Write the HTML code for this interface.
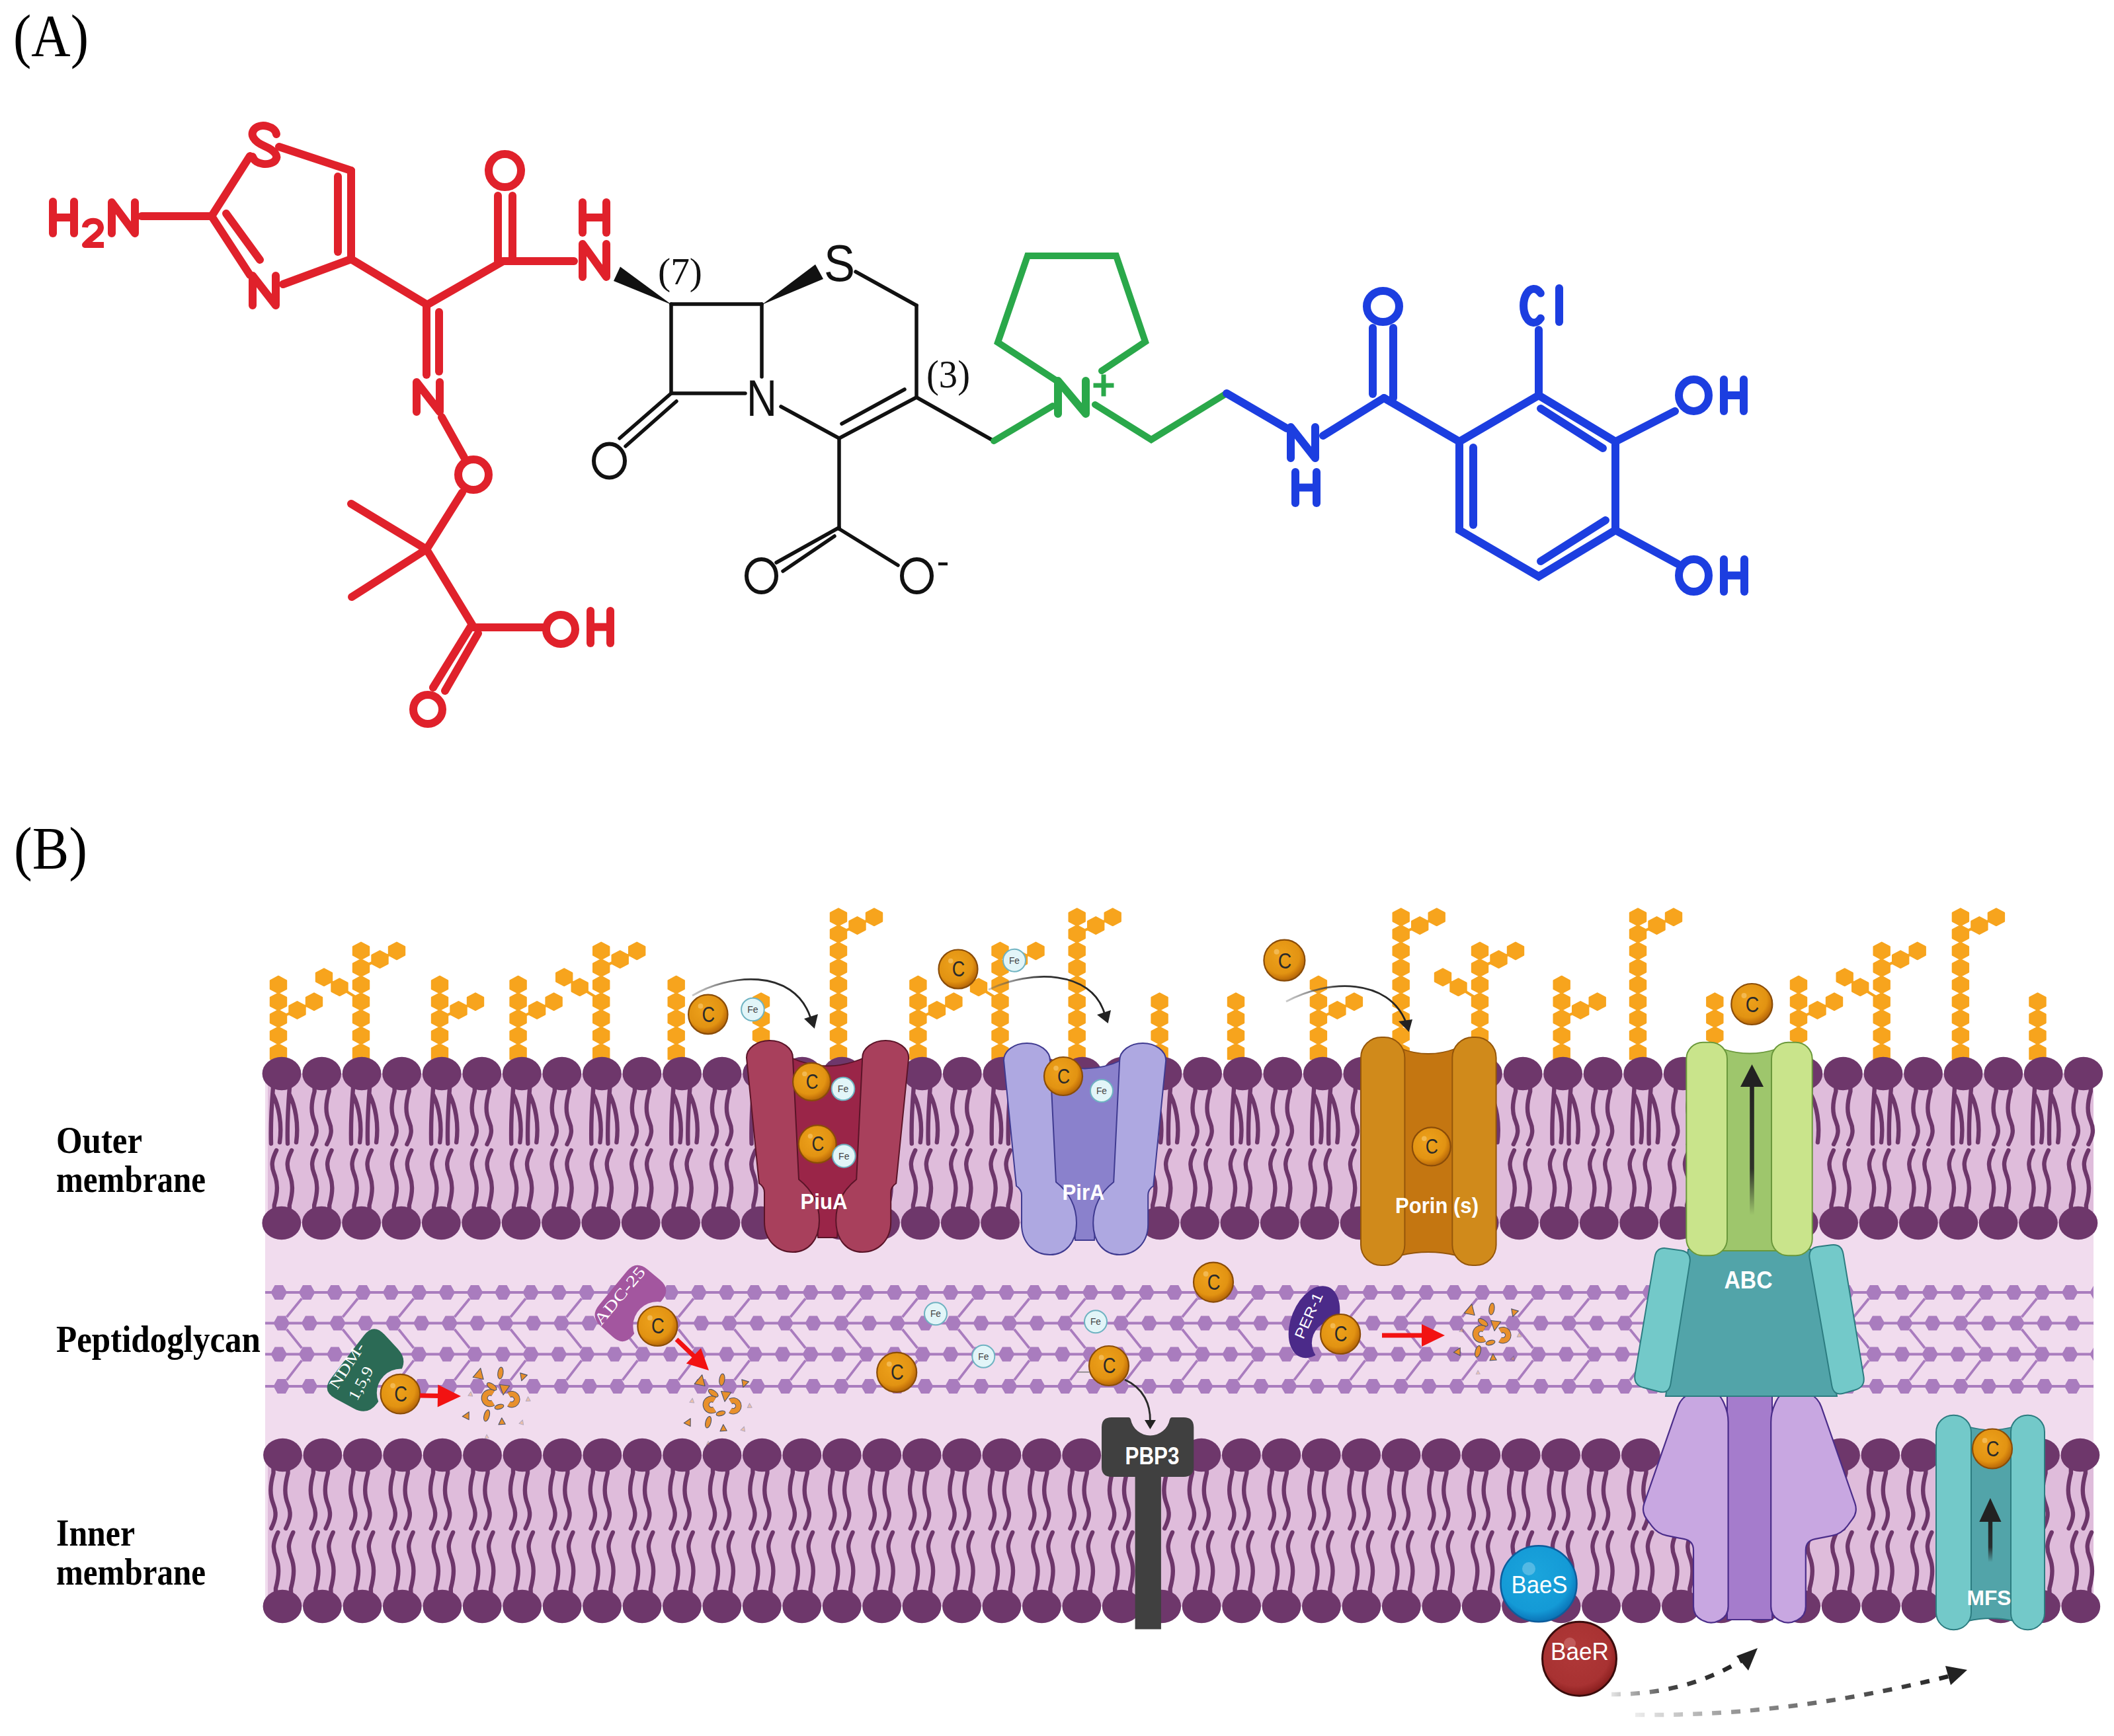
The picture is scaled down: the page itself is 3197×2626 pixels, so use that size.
<!DOCTYPE html>
<html><head><meta charset="utf-8"><title>Cefiderocol</title>
<style>html,body{margin:0;padding:0;background:#fff;}body{width:3197px;height:2626px;overflow:hidden;}svg{display:block;}</style>
</head><body>
<svg width="3197" height="2626" viewBox="0 0 3197 2626"><text x="20.0" y="85.0" font-family="Liberation Serif" font-size="90" font-weight="normal" fill="#000" text-anchor="start" textLength="114" lengthAdjust="spacingAndGlyphs">(A)</text>
<line x1="80.0" y1="305.0" x2="80.0" y2="353.0" stroke="#e0212b" stroke-width="12" stroke-linecap="round"/>
<line x1="112.0" y1="305.0" x2="112.0" y2="353.0" stroke="#e0212b" stroke-width="12" stroke-linecap="round"/>
<line x1="80.0" y1="329.0" x2="112.0" y2="329.0" stroke="#e0212b" stroke-width="12" stroke-linecap="butt"/>
<path d="M128.5,344 C129,332 152,330 152.5,344 C153,353 139,358 128.5,370.5 L157,370.5" fill="none" stroke="#e0212b" stroke-width="9" stroke-linejoin="round"/>
<path d="M169.0,353.0 L169.0,306.0 L204.0,353.0 L204.0,306.0" fill="none" stroke="#e0212b" stroke-width="12" stroke-linecap="round" stroke-linejoin="round"/>
<line x1="214.0" y1="327.0" x2="320.0" y2="327.0" stroke="#e0212b" stroke-width="12" stroke-linecap="round"/>
<line x1="320.0" y1="327.0" x2="378.0" y2="236.0" stroke="#e0212b" stroke-width="12" stroke-linecap="round"/>
<path d="M418,203 C416,191 395,186 386,194 C376,203 384,214 400,221 C416,228 422,236 416,243 C408,251 386,250 382,237" fill="none" stroke="#e0212b" stroke-width="12" stroke-linecap="round"/>
<line x1="422.0" y1="222.0" x2="531.0" y2="258.0" stroke="#e0212b" stroke-width="12" stroke-linecap="round"/>
<line x1="531.0" y1="258.0" x2="531.0" y2="392.0" stroke="#e0212b" stroke-width="12" stroke-linecap="round"/>
<line x1="511.0" y1="267.0" x2="511.0" y2="381.0" stroke="#e0212b" stroke-width="12" stroke-linecap="round"/>
<line x1="531.0" y1="392.0" x2="428.0" y2="430.0" stroke="#e0212b" stroke-width="12" stroke-linecap="round"/>
<path d="M382.0,462.0 L382.0,417.0 L417.0,462.0 L417.0,417.0" fill="none" stroke="#e0212b" stroke-width="12" stroke-linecap="round" stroke-linejoin="round"/>
<line x1="320.0" y1="327.0" x2="378.0" y2="416.0" stroke="#e0212b" stroke-width="12" stroke-linecap="round"/>
<line x1="342.0" y1="323.0" x2="393.0" y2="393.0" stroke="#e0212b" stroke-width="12" stroke-linecap="round"/>
<line x1="531.0" y1="392.0" x2="646.0" y2="461.0" stroke="#e0212b" stroke-width="12" stroke-linecap="round"/>
<line x1="646.0" y1="461.0" x2="761.0" y2="395.0" stroke="#e0212b" stroke-width="12" stroke-linecap="round"/>
<line x1="753.0" y1="395.0" x2="753.0" y2="296.0" stroke="#e0212b" stroke-width="12" stroke-linecap="round"/>
<line x1="775.0" y1="390.0" x2="775.0" y2="296.0" stroke="#e0212b" stroke-width="12" stroke-linecap="round"/>
<ellipse cx="763.5" cy="258.0" rx="24.5" ry="25.0" fill="none" stroke="#e0212b" stroke-width="12"/>
<line x1="761.0" y1="395.0" x2="868.0" y2="395.0" stroke="#e0212b" stroke-width="12" stroke-linecap="round"/>
<path d="M881.0,419.0 L881.0,369.0 L917.0,419.0 L917.0,369.0" fill="none" stroke="#e0212b" stroke-width="12" stroke-linecap="round" stroke-linejoin="round"/>
<line x1="881.0" y1="306.0" x2="881.0" y2="352.0" stroke="#e0212b" stroke-width="12" stroke-linecap="round"/>
<line x1="917.0" y1="306.0" x2="917.0" y2="352.0" stroke="#e0212b" stroke-width="12" stroke-linecap="round"/>
<line x1="881.0" y1="329.0" x2="917.0" y2="329.0" stroke="#e0212b" stroke-width="12" stroke-linecap="butt"/>
<line x1="645.0" y1="461.0" x2="645.0" y2="567.0" stroke="#e0212b" stroke-width="12" stroke-linecap="round"/>
<line x1="664.0" y1="472.0" x2="664.0" y2="562.0" stroke="#e0212b" stroke-width="12" stroke-linecap="round"/>
<path d="M630.0,623.0 L630.0,578.0 L665.0,623.0 L665.0,578.0" fill="none" stroke="#e0212b" stroke-width="12" stroke-linecap="round" stroke-linejoin="round"/>
<line x1="668.0" y1="631.0" x2="702.0" y2="692.0" stroke="#e0212b" stroke-width="12" stroke-linecap="round"/>
<ellipse cx="716.0" cy="718.0" rx="23.0" ry="23.0" fill="none" stroke="#e0212b" stroke-width="12"/>
<line x1="699.0" y1="745.0" x2="645.0" y2="831.0" stroke="#e0212b" stroke-width="12" stroke-linecap="round"/>
<line x1="645.0" y1="831.0" x2="531.0" y2="762.0" stroke="#e0212b" stroke-width="12" stroke-linecap="round"/>
<line x1="645.0" y1="831.0" x2="532.0" y2="903.0" stroke="#e0212b" stroke-width="12" stroke-linecap="round"/>
<line x1="645.0" y1="831.0" x2="716.0" y2="948.0" stroke="#e0212b" stroke-width="12" stroke-linecap="round"/>
<line x1="716.0" y1="949.0" x2="822.0" y2="949.0" stroke="#e0212b" stroke-width="12" stroke-linecap="round"/>
<ellipse cx="848.0" cy="952.0" rx="22.0" ry="22.0" fill="none" stroke="#e0212b" stroke-width="12"/>
<line x1="893.0" y1="924.0" x2="893.0" y2="973.0" stroke="#e0212b" stroke-width="12" stroke-linecap="round"/>
<line x1="923.0" y1="924.0" x2="923.0" y2="973.0" stroke="#e0212b" stroke-width="12" stroke-linecap="round"/>
<line x1="893.0" y1="948.5" x2="923.0" y2="948.5" stroke="#e0212b" stroke-width="12" stroke-linecap="butt"/>
<line x1="713.0" y1="946.0" x2="655.0" y2="1040.0" stroke="#e0212b" stroke-width="12" stroke-linecap="round"/>
<line x1="723.0" y1="958.0" x2="673.0" y2="1045.0" stroke="#e0212b" stroke-width="12" stroke-linecap="round"/>
<ellipse cx="647.0" cy="1073.0" rx="22.0" ry="22.0" fill="none" stroke="#e0212b" stroke-width="12"/>
<polygon points="938,403.5 928,425 1016,461" fill="#111111"/>
<line x1="1015.0" y1="460.0" x2="1152.0" y2="460.0" stroke="#111111" stroke-width="5.5" stroke-linecap="round"/>
<line x1="1015.0" y1="460.0" x2="1015.0" y2="595.0" stroke="#111111" stroke-width="5.5" stroke-linecap="round"/>
<line x1="1015.0" y1="595.0" x2="1127.0" y2="595.0" stroke="#111111" stroke-width="5.5" stroke-linecap="round"/>
<line x1="1152.0" y1="460.0" x2="1152.0" y2="570.0" stroke="#111111" stroke-width="5.5" stroke-linecap="round"/>
<line x1="1015.0" y1="595.0" x2="937.0" y2="663.0" stroke="#111111" stroke-width="5.5" stroke-linecap="round"/>
<line x1="1023.0" y1="607.0" x2="946.0" y2="675.0" stroke="#111111" stroke-width="5.5" stroke-linecap="round"/>
<ellipse cx="921.5" cy="697" rx="23.5" ry="25.5" fill="none" stroke="#111111" stroke-width="6"/>
<polygon points="1152,461 1233,400 1245,422" fill="#111111"/>
<text x="1269.5" y="424.5" font-family="Liberation Sans" font-size="78" font-weight="normal" fill="#111111" text-anchor="middle" textLength="47" lengthAdjust="spacingAndGlyphs">S</text>
<line x1="1294.0" y1="411.0" x2="1386.0" y2="462.0" stroke="#111111" stroke-width="5.5" stroke-linecap="round"/>
<line x1="1386.0" y1="462.0" x2="1386.0" y2="601.0" stroke="#111111" stroke-width="5.5" stroke-linecap="round"/>
<line x1="1386.0" y1="601.0" x2="1269.0" y2="663.0" stroke="#111111" stroke-width="5.5" stroke-linecap="round"/>
<line x1="1368.0" y1="589.0" x2="1273.0" y2="641.0" stroke="#111111" stroke-width="5.5" stroke-linecap="round"/>
<line x1="1269.0" y1="663.0" x2="1181.0" y2="615.0" stroke="#111111" stroke-width="5.5" stroke-linecap="round"/>
<text x="1152.0" y="629.0" font-family="Liberation Sans" font-size="78" font-weight="normal" fill="#111111" text-anchor="middle" textLength="46" lengthAdjust="spacingAndGlyphs">N</text>
<line x1="1269.0" y1="663.0" x2="1269.0" y2="800.0" stroke="#111111" stroke-width="5.5" stroke-linecap="round"/>
<line x1="1269.0" y1="798.0" x2="1174.0" y2="851.0" stroke="#111111" stroke-width="5.5" stroke-linecap="round"/>
<line x1="1262.0" y1="811.0" x2="1184.0" y2="864.0" stroke="#111111" stroke-width="5.5" stroke-linecap="round"/>
<ellipse cx="1151.5" cy="871" rx="22.5" ry="25" fill="none" stroke="#111111" stroke-width="6"/>
<line x1="1269.0" y1="800.0" x2="1358.0" y2="855.0" stroke="#111111" stroke-width="5.5" stroke-linecap="round"/>
<ellipse cx="1386.5" cy="871" rx="22.5" ry="25" fill="none" stroke="#111111" stroke-width="6"/>
<line x1="1419.0" y1="853.0" x2="1433.0" y2="853.0" stroke="#111111" stroke-width="4.5" stroke-linecap="butt"/>
<line x1="1386.0" y1="601.0" x2="1503.0" y2="667.0" stroke="#111111" stroke-width="5.5" stroke-linecap="round"/>
<text x="995.0" y="430.0" font-family="Liberation Serif" font-size="56" font-weight="normal" fill="#111111" text-anchor="start" textLength="67" lengthAdjust="spacingAndGlyphs">(7)</text>
<text x="1401.0" y="586.0" font-family="Liberation Serif" font-size="58.5" font-weight="normal" fill="#111111" text-anchor="start" textLength="66" lengthAdjust="spacingAndGlyphs">(3)</text>
<line x1="1503.0" y1="667.0" x2="1592.0" y2="614.0" stroke="#2aa84a" stroke-width="10" stroke-linecap="round"/>
<path d="M1600.0,626.0 L1600.0,576.0 L1642.0,626.0 L1642.0,576.0" fill="none" stroke="#2aa84a" stroke-width="12" stroke-linecap="round" stroke-linejoin="round"/>
<line x1="1669.0" y1="566.5" x2="1669.0" y2="599.5" stroke="#2aa84a" stroke-width="7" stroke-linecap="butt"/>
<line x1="1653.5" y1="583.0" x2="1684.5" y2="583.0" stroke="#2aa84a" stroke-width="7" stroke-linecap="butt"/>
<path d="M1598.0,576.0 L1509.0,518.0 L1554.0,387.0 L1688.0,387.0 L1732.0,517.0 L1666.0,561.0" fill="none" stroke="#2aa84a" stroke-width="10" stroke-linecap="round" stroke-linejoin="miter"/>
<path d="M1656.0,612.0 L1741.0,665.0 L1855.0,595.0" fill="none" stroke="#2aa84a" stroke-width="10" stroke-linecap="round" stroke-linejoin="miter"/>
<line x1="1855.0" y1="595.0" x2="1946.0" y2="648.0" stroke="#1c3ee0" stroke-width="12" stroke-linecap="round"/>
<path d="M1952.0,693.0 L1952.0,646.0 L1989.0,693.0 L1989.0,646.0" fill="none" stroke="#1c3ee0" stroke-width="12" stroke-linecap="round" stroke-linejoin="round"/>
<line x1="1959.0" y1="714.0" x2="1959.0" y2="761.0" stroke="#1c3ee0" stroke-width="12" stroke-linecap="round"/>
<line x1="1991.0" y1="714.0" x2="1991.0" y2="761.0" stroke="#1c3ee0" stroke-width="12" stroke-linecap="round"/>
<line x1="1959.0" y1="737.5" x2="1991.0" y2="737.5" stroke="#1c3ee0" stroke-width="12" stroke-linecap="butt"/>
<line x1="2001.0" y1="659.0" x2="2093.0" y2="602.0" stroke="#1c3ee0" stroke-width="12" stroke-linecap="round"/>
<line x1="2076.0" y1="496.0" x2="2076.0" y2="596.0" stroke="#1c3ee0" stroke-width="12" stroke-linecap="round"/>
<line x1="2107.0" y1="496.0" x2="2107.0" y2="602.0" stroke="#1c3ee0" stroke-width="12" stroke-linecap="round"/>
<ellipse cx="2091.5" cy="463.5" rx="24.5" ry="23.5" fill="none" stroke="#1c3ee0" stroke-width="12"/>
<line x1="2093.0" y1="602.0" x2="2207.0" y2="668.0" stroke="#1c3ee0" stroke-width="12" stroke-linecap="round"/>
<path d="M2207.0,668.0 L2327.0,598.0 L2443.0,668.0 L2443.0,802.0 L2327.0,872.0 L2207.0,802.0Z" fill="none" stroke="#1c3ee0" stroke-width="12" stroke-linecap="round" stroke-linejoin="miter"/>
<line x1="2228.0" y1="677.0" x2="2228.0" y2="794.0" stroke="#1c3ee0" stroke-width="12" stroke-linecap="round"/>
<line x1="2330.0" y1="618.0" x2="2424.0" y2="678.0" stroke="#1c3ee0" stroke-width="12" stroke-linecap="round"/>
<line x1="2428.0" y1="787.0" x2="2330.0" y2="849.0" stroke="#1c3ee0" stroke-width="12" stroke-linecap="round"/>
<line x1="2327.0" y1="598.0" x2="2327.0" y2="499.0" stroke="#1c3ee0" stroke-width="12" stroke-linecap="round"/>
<path d="M2329.9,443.5 A15.5,25.5 0 1 0 2329.9,481.5" fill="none" stroke="#1c3ee0" stroke-width="12" stroke-linecap="round"/>
<line x1="2358.0" y1="436.0" x2="2358.0" y2="487.0" stroke="#1c3ee0" stroke-width="12" stroke-linecap="round"/>
<line x1="2443.0" y1="668.0" x2="2533.0" y2="622.0" stroke="#1c3ee0" stroke-width="12" stroke-linecap="round"/>
<ellipse cx="2561.5" cy="598.0" rx="22.5" ry="24.0" fill="none" stroke="#1c3ee0" stroke-width="12"/>
<line x1="2607.0" y1="574.0" x2="2607.0" y2="622.0" stroke="#1c3ee0" stroke-width="12" stroke-linecap="round"/>
<line x1="2637.0" y1="574.0" x2="2637.0" y2="622.0" stroke="#1c3ee0" stroke-width="12" stroke-linecap="round"/>
<line x1="2607.0" y1="598.0" x2="2637.0" y2="598.0" stroke="#1c3ee0" stroke-width="12" stroke-linecap="butt"/>
<line x1="2443.0" y1="802.0" x2="2537.0" y2="853.0" stroke="#1c3ee0" stroke-width="12" stroke-linecap="round"/>
<ellipse cx="2561.5" cy="870.5" rx="22.5" ry="24.5" fill="none" stroke="#1c3ee0" stroke-width="12"/>
<line x1="2607.0" y1="846.0" x2="2607.0" y2="895.0" stroke="#1c3ee0" stroke-width="12" stroke-linecap="round"/>
<line x1="2638.0" y1="846.0" x2="2638.0" y2="895.0" stroke="#1c3ee0" stroke-width="12" stroke-linecap="round"/>
<line x1="2607.0" y1="870.5" x2="2638.0" y2="870.5" stroke="#1c3ee0" stroke-width="12" stroke-linecap="butt"/>
<text x="21.0" y="1314.0" font-family="Liberation Serif" font-size="90" font-weight="normal" fill="#000" text-anchor="start" textLength="111" lengthAdjust="spacingAndGlyphs">(B)</text>
<rect x="401" y="1624" width="2765" height="806" fill="#f1dcee"/>
<rect x="405" y="1624" width="2761" height="226" fill="#dfbcdb"/>
<rect x="405" y="2201" width="2761" height="229" fill="#dfbcdb"/>
<clipPath id="clipPG"><rect x="401" y="1900" width="2765" height="250"/></clipPath>
<g clip-path="url(#clipPG)"><path d="M401,1955 L3166,1955 M401,2001.5 L3166,2001.5 M401,2048.5 L3166,2048.5 M401,2097 L3166,2097 M456.4,1964.3 L433.5,1992.2 M433.5,2010.8 L456.4,2039.2 M456.4,2057.8 L433.5,2087.7 M541.1,1964.3 L518.2,1992.2 M518.2,2010.8 L541.1,2039.2 M541.1,2057.8 L518.2,2087.7 M625.7,1964.3 L602.8,1992.2 M602.8,2010.8 L625.7,2039.2 M625.7,2057.8 L602.8,2087.7 M710.3,1964.3 L687.4,1992.2 M687.4,2010.8 L710.3,2039.2 M710.3,2057.8 L687.4,2087.7 M795.0,1964.3 L772.1,1992.2 M772.1,2010.8 L795.0,2039.2 M795.0,2057.8 L772.1,2087.7 M879.6,1964.3 L856.7,1992.2 M856.7,2010.8 L879.6,2039.2 M879.6,2057.8 L856.7,2087.7 M964.3,1964.3 L941.4,1992.2 M941.4,2010.8 L964.3,2039.2 M964.3,2057.8 L941.4,2087.7 M1048.9,1964.3 L1026.0,1992.2 M1026.0,2010.8 L1048.9,2039.2 M1048.9,2057.8 L1026.0,2087.7 M1133.5,1964.3 L1110.6,1992.2 M1110.6,2010.8 L1133.5,2039.2 M1133.5,2057.8 L1110.6,2087.7 M1218.2,1964.3 L1195.3,1992.2 M1195.3,2010.8 L1218.2,2039.2 M1218.2,2057.8 L1195.3,2087.7 M1302.8,1964.3 L1279.9,1992.2 M1279.9,2010.8 L1302.8,2039.2 M1302.8,2057.8 L1279.9,2087.7 M1387.5,1964.3 L1364.6,1992.2 M1364.6,2010.8 L1387.5,2039.2 M1387.5,2057.8 L1364.6,2087.7 M1472.1,1964.3 L1449.2,1992.2 M1449.2,2010.8 L1472.1,2039.2 M1472.1,2057.8 L1449.2,2087.7 M1556.7,1964.3 L1533.8,1992.2 M1533.8,2010.8 L1556.7,2039.2 M1556.7,2057.8 L1533.8,2087.7 M1641.4,1964.3 L1618.5,1992.2 M1618.5,2010.8 L1641.4,2039.2 M1641.4,2057.8 L1618.5,2087.7 M1726.0,1964.3 L1703.1,1992.2 M1703.1,2010.8 L1726.0,2039.2 M1726.0,2057.8 L1703.1,2087.7 M1810.7,1964.3 L1787.8,1992.2 M1787.8,2010.8 L1810.7,2039.2 M1810.7,2057.8 L1787.8,2087.7 M1895.3,1964.3 L1872.4,1992.2 M1872.4,2010.8 L1895.3,2039.2 M1895.3,2057.8 L1872.4,2087.7 M1979.9,1964.3 L1957.0,1992.2 M1957.0,2010.8 L1979.9,2039.2 M1979.9,2057.8 L1957.0,2087.7 M2064.6,1964.3 L2041.7,1992.2 M2041.7,2010.8 L2064.6,2039.2 M2064.6,2057.8 L2041.7,2087.7 M2149.2,1964.3 L2126.3,1992.2 M2126.3,2010.8 L2149.2,2039.2 M2149.2,2057.8 L2126.3,2087.7 M2233.9,1964.3 L2211.0,1992.2 M2211.0,2010.8 L2233.9,2039.2 M2233.9,2057.8 L2211.0,2087.7 M2318.5,1964.3 L2295.6,1992.2 M2295.6,2010.8 L2318.5,2039.2 M2318.5,2057.8 L2295.6,2087.7 M2403.1,1964.3 L2380.2,1992.2 M2380.2,2010.8 L2403.1,2039.2 M2403.1,2057.8 L2380.2,2087.7 M2487.8,1964.3 L2464.9,1992.2 M2464.9,2010.8 L2487.8,2039.2 M2487.8,2057.8 L2464.9,2087.7 M2572.4,1964.3 L2549.5,1992.2 M2549.5,2010.8 L2572.4,2039.2 M2572.4,2057.8 L2549.5,2087.7 M2657.1,1964.3 L2634.2,1992.2 M2634.2,2010.8 L2657.1,2039.2 M2657.1,2057.8 L2634.2,2087.7 M2741.7,1964.3 L2718.8,1992.2 M2718.8,2010.8 L2741.7,2039.2 M2741.7,2057.8 L2718.8,2087.7 M2826.3,1964.3 L2803.4,1992.2 M2803.4,2010.8 L2826.3,2039.2 M2826.3,2057.8 L2803.4,2087.7 M2911.0,1964.3 L2888.1,1992.2 M2888.1,2010.8 L2911.0,2039.2 M2911.0,2057.8 L2888.1,2087.7 M2995.6,1964.3 L2972.7,1992.2 M2972.7,2010.8 L2995.6,2039.2 M2995.6,2057.8 L2972.7,2087.7 M3080.3,1964.3 L3057.4,1992.2 M3057.4,2010.8 L3080.3,2039.2 M3080.3,2057.8 L3057.4,2087.7" stroke="#a97cbe" stroke-width="3.8" fill="none"/>
<path d="M409.5,1955.0 L415.6,1944.1 L427.9,1944.1 L434.1,1955.0 L427.9,1965.9 L415.6,1965.9Z M451.8,1955.0 L458.0,1944.1 L470.3,1944.1 L476.4,1955.0 L470.3,1965.9 L458.0,1965.9Z M494.1,1955.0 L500.3,1944.1 L512.6,1944.1 L518.7,1955.0 L512.6,1965.9 L500.3,1965.9Z M536.5,1955.0 L542.6,1944.1 L554.9,1944.1 L561.1,1955.0 L554.9,1965.9 L542.6,1965.9Z M578.8,1955.0 L584.9,1944.1 L597.2,1944.1 L603.4,1955.0 L597.2,1965.9 L584.9,1965.9Z M621.1,1955.0 L627.3,1944.1 L639.6,1944.1 L645.7,1955.0 L639.6,1965.9 L627.3,1965.9Z M663.4,1955.0 L669.6,1944.1 L681.9,1944.1 L688.0,1955.0 L681.9,1965.9 L669.6,1965.9Z M705.7,1955.0 L711.9,1944.1 L724.2,1944.1 L730.3,1955.0 L724.2,1965.9 L711.9,1965.9Z M748.1,1955.0 L754.2,1944.1 L766.5,1944.1 L772.7,1955.0 L766.5,1965.9 L754.2,1965.9Z M790.4,1955.0 L796.5,1944.1 L808.8,1944.1 L815.0,1955.0 L808.8,1965.9 L796.5,1965.9Z M832.7,1955.0 L838.9,1944.1 L851.2,1944.1 L857.3,1955.0 L851.2,1965.9 L838.9,1965.9Z M875.0,1955.0 L881.2,1944.1 L893.5,1944.1 L899.6,1955.0 L893.5,1965.9 L881.2,1965.9Z M917.3,1955.0 L923.5,1944.1 L935.8,1944.1 L941.9,1955.0 L935.8,1965.9 L923.5,1965.9Z M959.7,1955.0 L965.8,1944.1 L978.1,1944.1 L984.3,1955.0 L978.1,1965.9 L965.8,1965.9Z M1002.0,1955.0 L1008.1,1944.1 L1020.4,1944.1 L1026.6,1955.0 L1020.4,1965.9 L1008.1,1965.9Z M1044.3,1955.0 L1050.5,1944.1 L1062.8,1944.1 L1068.9,1955.0 L1062.8,1965.9 L1050.5,1965.9Z M1086.6,1955.0 L1092.8,1944.1 L1105.1,1944.1 L1111.2,1955.0 L1105.1,1965.9 L1092.8,1965.9Z M1128.9,1955.0 L1135.1,1944.1 L1147.4,1944.1 L1153.5,1955.0 L1147.4,1965.9 L1135.1,1965.9Z M1171.3,1955.0 L1177.4,1944.1 L1189.7,1944.1 L1195.9,1955.0 L1189.7,1965.9 L1177.4,1965.9Z M1213.6,1955.0 L1219.7,1944.1 L1232.0,1944.1 L1238.2,1955.0 L1232.0,1965.9 L1219.7,1965.9Z M1255.9,1955.0 L1262.1,1944.1 L1274.4,1944.1 L1280.5,1955.0 L1274.4,1965.9 L1262.1,1965.9Z M1298.2,1955.0 L1304.4,1944.1 L1316.7,1944.1 L1322.8,1955.0 L1316.7,1965.9 L1304.4,1965.9Z M1340.5,1955.0 L1346.7,1944.1 L1359.0,1944.1 L1365.1,1955.0 L1359.0,1965.9 L1346.7,1965.9Z M1382.9,1955.0 L1389.0,1944.1 L1401.3,1944.1 L1407.5,1955.0 L1401.3,1965.9 L1389.0,1965.9Z M1425.2,1955.0 L1431.3,1944.1 L1443.6,1944.1 L1449.8,1955.0 L1443.6,1965.9 L1431.3,1965.9Z M1467.5,1955.0 L1473.6,1944.1 L1486.0,1944.1 L1492.1,1955.0 L1486.0,1965.9 L1473.6,1965.9Z M1509.8,1955.0 L1516.0,1944.1 L1528.3,1944.1 L1534.4,1955.0 L1528.3,1965.9 L1516.0,1965.9Z M1552.1,1955.0 L1558.3,1944.1 L1570.6,1944.1 L1576.7,1955.0 L1570.6,1965.9 L1558.3,1965.9Z M1594.5,1955.0 L1600.6,1944.1 L1612.9,1944.1 L1619.1,1955.0 L1612.9,1965.9 L1600.6,1965.9Z M1636.8,1955.0 L1642.9,1944.1 L1655.2,1944.1 L1661.4,1955.0 L1655.2,1965.9 L1642.9,1965.9Z M1679.1,1955.0 L1685.2,1944.1 L1697.5,1944.1 L1703.7,1955.0 L1697.5,1965.9 L1685.2,1965.9Z M1721.4,1955.0 L1727.6,1944.1 L1739.9,1944.1 L1746.0,1955.0 L1739.9,1965.9 L1727.6,1965.9Z M1763.7,1955.0 L1769.9,1944.1 L1782.2,1944.1 L1788.3,1955.0 L1782.2,1965.9 L1769.9,1965.9Z M1806.1,1955.0 L1812.2,1944.1 L1824.5,1944.1 L1830.7,1955.0 L1824.5,1965.9 L1812.2,1965.9Z M1848.4,1955.0 L1854.5,1944.1 L1866.8,1944.1 L1873.0,1955.0 L1866.8,1965.9 L1854.5,1965.9Z M1890.7,1955.0 L1896.8,1944.1 L1909.1,1944.1 L1915.3,1955.0 L1909.1,1965.9 L1896.8,1965.9Z M1933.0,1955.0 L1939.2,1944.1 L1951.5,1944.1 L1957.6,1955.0 L1951.5,1965.9 L1939.2,1965.9Z M1975.3,1955.0 L1981.5,1944.1 L1993.8,1944.1 L1999.9,1955.0 L1993.8,1965.9 L1981.5,1965.9Z M2017.7,1955.0 L2023.8,1944.1 L2036.1,1944.1 L2042.3,1955.0 L2036.1,1965.9 L2023.8,1965.9Z M2060.0,1955.0 L2066.1,1944.1 L2078.4,1944.1 L2084.6,1955.0 L2078.4,1965.9 L2066.1,1965.9Z M2102.3,1955.0 L2108.4,1944.1 L2120.7,1944.1 L2126.9,1955.0 L2120.7,1965.9 L2108.4,1965.9Z M2144.6,1955.0 L2150.8,1944.1 L2163.1,1944.1 L2169.2,1955.0 L2163.1,1965.9 L2150.8,1965.9Z M2186.9,1955.0 L2193.1,1944.1 L2205.4,1944.1 L2211.5,1955.0 L2205.4,1965.9 L2193.1,1965.9Z M2229.3,1955.0 L2235.4,1944.1 L2247.7,1944.1 L2253.9,1955.0 L2247.7,1965.9 L2235.4,1965.9Z M2271.6,1955.0 L2277.7,1944.1 L2290.0,1944.1 L2296.2,1955.0 L2290.0,1965.9 L2277.7,1965.9Z M2313.9,1955.0 L2320.1,1944.1 L2332.4,1944.1 L2338.5,1955.0 L2332.4,1965.9 L2320.1,1965.9Z M2356.2,1955.0 L2362.4,1944.1 L2374.7,1944.1 L2380.8,1955.0 L2374.7,1965.9 L2362.4,1965.9Z M2398.5,1955.0 L2404.7,1944.1 L2417.0,1944.1 L2423.1,1955.0 L2417.0,1965.9 L2404.7,1965.9Z M2440.9,1955.0 L2447.0,1944.1 L2459.3,1944.1 L2465.5,1955.0 L2459.3,1965.9 L2447.0,1965.9Z M2483.2,1955.0 L2489.3,1944.1 L2501.6,1944.1 L2507.8,1955.0 L2501.6,1965.9 L2489.3,1965.9Z M2525.5,1955.0 L2531.7,1944.1 L2544.0,1944.1 L2550.1,1955.0 L2544.0,1965.9 L2531.7,1965.9Z M2567.8,1955.0 L2574.0,1944.1 L2586.3,1944.1 L2592.4,1955.0 L2586.3,1965.9 L2574.0,1965.9Z M2610.1,1955.0 L2616.3,1944.1 L2628.6,1944.1 L2634.7,1955.0 L2628.6,1965.9 L2616.3,1965.9Z M2652.5,1955.0 L2658.6,1944.1 L2670.9,1944.1 L2677.1,1955.0 L2670.9,1965.9 L2658.6,1965.9Z M2694.8,1955.0 L2700.9,1944.1 L2713.2,1944.1 L2719.4,1955.0 L2713.2,1965.9 L2700.9,1965.9Z M2737.1,1955.0 L2743.3,1944.1 L2755.6,1944.1 L2761.7,1955.0 L2755.6,1965.9 L2743.3,1965.9Z M2779.4,1955.0 L2785.6,1944.1 L2797.9,1944.1 L2804.0,1955.0 L2797.9,1965.9 L2785.6,1965.9Z M2821.7,1955.0 L2827.9,1944.1 L2840.2,1944.1 L2846.3,1955.0 L2840.2,1965.9 L2827.9,1965.9Z M2864.1,1955.0 L2870.2,1944.1 L2882.5,1944.1 L2888.7,1955.0 L2882.5,1965.9 L2870.2,1965.9Z M2906.4,1955.0 L2912.5,1944.1 L2924.8,1944.1 L2931.0,1955.0 L2924.8,1965.9 L2912.5,1965.9Z M2948.7,1955.0 L2954.9,1944.1 L2967.2,1944.1 L2973.3,1955.0 L2967.2,1965.9 L2954.9,1965.9Z M2991.0,1955.0 L2997.2,1944.1 L3009.5,1944.1 L3015.6,1955.0 L3009.5,1965.9 L2997.2,1965.9Z M3033.3,1955.0 L3039.5,1944.1 L3051.8,1944.1 L3057.9,1955.0 L3051.8,1965.9 L3039.5,1965.9Z M3075.7,1955.0 L3081.8,1944.1 L3094.1,1944.1 L3100.3,1955.0 L3094.1,1965.9 L3081.8,1965.9Z M3118.0,1955.0 L3124.1,1944.1 L3136.4,1944.1 L3142.6,1955.0 L3136.4,1965.9 L3124.1,1965.9Z M3160.3,1955.0 L3166.5,1944.1 L3178.8,1944.1 L3184.9,1955.0 L3178.8,1965.9 L3166.5,1965.9Z M413.5,2001.5 L419.6,1990.6 L431.9,1990.6 L438.1,2001.5 L431.9,2012.4 L419.6,2012.4Z M455.8,2001.5 L462.0,1990.6 L474.3,1990.6 L480.4,2001.5 L474.3,2012.4 L462.0,2012.4Z M498.1,2001.5 L504.3,1990.6 L516.6,1990.6 L522.7,2001.5 L516.6,2012.4 L504.3,2012.4Z M540.5,2001.5 L546.6,1990.6 L558.9,1990.6 L565.1,2001.5 L558.9,2012.4 L546.6,2012.4Z M582.8,2001.5 L588.9,1990.6 L601.2,1990.6 L607.4,2001.5 L601.2,2012.4 L588.9,2012.4Z M625.1,2001.5 L631.3,1990.6 L643.6,1990.6 L649.7,2001.5 L643.6,2012.4 L631.3,2012.4Z M667.4,2001.5 L673.6,1990.6 L685.9,1990.6 L692.0,2001.5 L685.9,2012.4 L673.6,2012.4Z M709.7,2001.5 L715.9,1990.6 L728.2,1990.6 L734.3,2001.5 L728.2,2012.4 L715.9,2012.4Z M752.1,2001.5 L758.2,1990.6 L770.5,1990.6 L776.7,2001.5 L770.5,2012.4 L758.2,2012.4Z M794.4,2001.5 L800.5,1990.6 L812.8,1990.6 L819.0,2001.5 L812.8,2012.4 L800.5,2012.4Z M836.7,2001.5 L842.9,1990.6 L855.2,1990.6 L861.3,2001.5 L855.2,2012.4 L842.9,2012.4Z M879.0,2001.5 L885.2,1990.6 L897.5,1990.6 L903.6,2001.5 L897.5,2012.4 L885.2,2012.4Z M921.3,2001.5 L927.5,1990.6 L939.8,1990.6 L945.9,2001.5 L939.8,2012.4 L927.5,2012.4Z M963.7,2001.5 L969.8,1990.6 L982.1,1990.6 L988.3,2001.5 L982.1,2012.4 L969.8,2012.4Z M1006.0,2001.5 L1012.1,1990.6 L1024.4,1990.6 L1030.6,2001.5 L1024.4,2012.4 L1012.1,2012.4Z M1048.3,2001.5 L1054.5,1990.6 L1066.8,1990.6 L1072.9,2001.5 L1066.8,2012.4 L1054.5,2012.4Z M1090.6,2001.5 L1096.8,1990.6 L1109.1,1990.6 L1115.2,2001.5 L1109.1,2012.4 L1096.8,2012.4Z M1132.9,2001.5 L1139.1,1990.6 L1151.4,1990.6 L1157.5,2001.5 L1151.4,2012.4 L1139.1,2012.4Z M1175.3,2001.5 L1181.4,1990.6 L1193.7,1990.6 L1199.9,2001.5 L1193.7,2012.4 L1181.4,2012.4Z M1217.6,2001.5 L1223.7,1990.6 L1236.0,1990.6 L1242.2,2001.5 L1236.0,2012.4 L1223.7,2012.4Z M1259.9,2001.5 L1266.1,1990.6 L1278.4,1990.6 L1284.5,2001.5 L1278.4,2012.4 L1266.1,2012.4Z M1302.2,2001.5 L1308.4,1990.6 L1320.7,1990.6 L1326.8,2001.5 L1320.7,2012.4 L1308.4,2012.4Z M1344.5,2001.5 L1350.7,1990.6 L1363.0,1990.6 L1369.1,2001.5 L1363.0,2012.4 L1350.7,2012.4Z M1386.9,2001.5 L1393.0,1990.6 L1405.3,1990.6 L1411.5,2001.5 L1405.3,2012.4 L1393.0,2012.4Z M1429.2,2001.5 L1435.3,1990.6 L1447.6,1990.6 L1453.8,2001.5 L1447.6,2012.4 L1435.3,2012.4Z M1471.5,2001.5 L1477.6,1990.6 L1490.0,1990.6 L1496.1,2001.5 L1490.0,2012.4 L1477.6,2012.4Z M1513.8,2001.5 L1520.0,1990.6 L1532.3,1990.6 L1538.4,2001.5 L1532.3,2012.4 L1520.0,2012.4Z M1556.1,2001.5 L1562.3,1990.6 L1574.6,1990.6 L1580.7,2001.5 L1574.6,2012.4 L1562.3,2012.4Z M1598.5,2001.5 L1604.6,1990.6 L1616.9,1990.6 L1623.1,2001.5 L1616.9,2012.4 L1604.6,2012.4Z M1640.8,2001.5 L1646.9,1990.6 L1659.2,1990.6 L1665.4,2001.5 L1659.2,2012.4 L1646.9,2012.4Z M1683.1,2001.5 L1689.2,1990.6 L1701.5,1990.6 L1707.7,2001.5 L1701.5,2012.4 L1689.2,2012.4Z M1725.4,2001.5 L1731.6,1990.6 L1743.9,1990.6 L1750.0,2001.5 L1743.9,2012.4 L1731.6,2012.4Z M1767.7,2001.5 L1773.9,1990.6 L1786.2,1990.6 L1792.3,2001.5 L1786.2,2012.4 L1773.9,2012.4Z M1810.1,2001.5 L1816.2,1990.6 L1828.5,1990.6 L1834.7,2001.5 L1828.5,2012.4 L1816.2,2012.4Z M1852.4,2001.5 L1858.5,1990.6 L1870.8,1990.6 L1877.0,2001.5 L1870.8,2012.4 L1858.5,2012.4Z M1894.7,2001.5 L1900.8,1990.6 L1913.1,1990.6 L1919.3,2001.5 L1913.1,2012.4 L1900.8,2012.4Z M1937.0,2001.5 L1943.2,1990.6 L1955.5,1990.6 L1961.6,2001.5 L1955.5,2012.4 L1943.2,2012.4Z M1979.3,2001.5 L1985.5,1990.6 L1997.8,1990.6 L2003.9,2001.5 L1997.8,2012.4 L1985.5,2012.4Z M2021.7,2001.5 L2027.8,1990.6 L2040.1,1990.6 L2046.3,2001.5 L2040.1,2012.4 L2027.8,2012.4Z M2064.0,2001.5 L2070.1,1990.6 L2082.4,1990.6 L2088.6,2001.5 L2082.4,2012.4 L2070.1,2012.4Z M2106.3,2001.5 L2112.4,1990.6 L2124.7,1990.6 L2130.9,2001.5 L2124.7,2012.4 L2112.4,2012.4Z M2148.6,2001.5 L2154.8,1990.6 L2167.1,1990.6 L2173.2,2001.5 L2167.1,2012.4 L2154.8,2012.4Z M2190.9,2001.5 L2197.1,1990.6 L2209.4,1990.6 L2215.5,2001.5 L2209.4,2012.4 L2197.1,2012.4Z M2233.3,2001.5 L2239.4,1990.6 L2251.7,1990.6 L2257.9,2001.5 L2251.7,2012.4 L2239.4,2012.4Z M2275.6,2001.5 L2281.7,1990.6 L2294.0,1990.6 L2300.2,2001.5 L2294.0,2012.4 L2281.7,2012.4Z M2317.9,2001.5 L2324.1,1990.6 L2336.4,1990.6 L2342.5,2001.5 L2336.4,2012.4 L2324.1,2012.4Z M2360.2,2001.5 L2366.4,1990.6 L2378.7,1990.6 L2384.8,2001.5 L2378.7,2012.4 L2366.4,2012.4Z M2402.5,2001.5 L2408.7,1990.6 L2421.0,1990.6 L2427.1,2001.5 L2421.0,2012.4 L2408.7,2012.4Z M2444.9,2001.5 L2451.0,1990.6 L2463.3,1990.6 L2469.5,2001.5 L2463.3,2012.4 L2451.0,2012.4Z M2487.2,2001.5 L2493.3,1990.6 L2505.6,1990.6 L2511.8,2001.5 L2505.6,2012.4 L2493.3,2012.4Z M2529.5,2001.5 L2535.7,1990.6 L2548.0,1990.6 L2554.1,2001.5 L2548.0,2012.4 L2535.7,2012.4Z M2571.8,2001.5 L2578.0,1990.6 L2590.3,1990.6 L2596.4,2001.5 L2590.3,2012.4 L2578.0,2012.4Z M2614.1,2001.5 L2620.3,1990.6 L2632.6,1990.6 L2638.7,2001.5 L2632.6,2012.4 L2620.3,2012.4Z M2656.5,2001.5 L2662.6,1990.6 L2674.9,1990.6 L2681.1,2001.5 L2674.9,2012.4 L2662.6,2012.4Z M2698.8,2001.5 L2704.9,1990.6 L2717.2,1990.6 L2723.4,2001.5 L2717.2,2012.4 L2704.9,2012.4Z M2741.1,2001.5 L2747.3,1990.6 L2759.6,1990.6 L2765.7,2001.5 L2759.6,2012.4 L2747.3,2012.4Z M2783.4,2001.5 L2789.6,1990.6 L2801.9,1990.6 L2808.0,2001.5 L2801.9,2012.4 L2789.6,2012.4Z M2825.7,2001.5 L2831.9,1990.6 L2844.2,1990.6 L2850.3,2001.5 L2844.2,2012.4 L2831.9,2012.4Z M2868.1,2001.5 L2874.2,1990.6 L2886.5,1990.6 L2892.7,2001.5 L2886.5,2012.4 L2874.2,2012.4Z M2910.4,2001.5 L2916.5,1990.6 L2928.8,1990.6 L2935.0,2001.5 L2928.8,2012.4 L2916.5,2012.4Z M2952.7,2001.5 L2958.9,1990.6 L2971.2,1990.6 L2977.3,2001.5 L2971.2,2012.4 L2958.9,2012.4Z M2995.0,2001.5 L3001.2,1990.6 L3013.5,1990.6 L3019.6,2001.5 L3013.5,2012.4 L3001.2,2012.4Z M3037.3,2001.5 L3043.5,1990.6 L3055.8,1990.6 L3061.9,2001.5 L3055.8,2012.4 L3043.5,2012.4Z M3079.7,2001.5 L3085.8,1990.6 L3098.1,1990.6 L3104.3,2001.5 L3098.1,2012.4 L3085.8,2012.4Z M3122.0,2001.5 L3128.1,1990.6 L3140.4,1990.6 L3146.6,2001.5 L3140.4,2012.4 L3128.1,2012.4Z M3164.3,2001.5 L3170.5,1990.6 L3182.8,1990.6 L3188.9,2001.5 L3182.8,2012.4 L3170.5,2012.4Z M409.5,2048.5 L415.6,2037.6 L427.9,2037.6 L434.1,2048.5 L427.9,2059.4 L415.6,2059.4Z M451.8,2048.5 L458.0,2037.6 L470.3,2037.6 L476.4,2048.5 L470.3,2059.4 L458.0,2059.4Z M494.1,2048.5 L500.3,2037.6 L512.6,2037.6 L518.7,2048.5 L512.6,2059.4 L500.3,2059.4Z M536.5,2048.5 L542.6,2037.6 L554.9,2037.6 L561.1,2048.5 L554.9,2059.4 L542.6,2059.4Z M578.8,2048.5 L584.9,2037.6 L597.2,2037.6 L603.4,2048.5 L597.2,2059.4 L584.9,2059.4Z M621.1,2048.5 L627.3,2037.6 L639.6,2037.6 L645.7,2048.5 L639.6,2059.4 L627.3,2059.4Z M663.4,2048.5 L669.6,2037.6 L681.9,2037.6 L688.0,2048.5 L681.9,2059.4 L669.6,2059.4Z M705.7,2048.5 L711.9,2037.6 L724.2,2037.6 L730.3,2048.5 L724.2,2059.4 L711.9,2059.4Z M748.1,2048.5 L754.2,2037.6 L766.5,2037.6 L772.7,2048.5 L766.5,2059.4 L754.2,2059.4Z M790.4,2048.5 L796.5,2037.6 L808.8,2037.6 L815.0,2048.5 L808.8,2059.4 L796.5,2059.4Z M832.7,2048.5 L838.9,2037.6 L851.2,2037.6 L857.3,2048.5 L851.2,2059.4 L838.9,2059.4Z M875.0,2048.5 L881.2,2037.6 L893.5,2037.6 L899.6,2048.5 L893.5,2059.4 L881.2,2059.4Z M917.3,2048.5 L923.5,2037.6 L935.8,2037.6 L941.9,2048.5 L935.8,2059.4 L923.5,2059.4Z M959.7,2048.5 L965.8,2037.6 L978.1,2037.6 L984.3,2048.5 L978.1,2059.4 L965.8,2059.4Z M1002.0,2048.5 L1008.1,2037.6 L1020.4,2037.6 L1026.6,2048.5 L1020.4,2059.4 L1008.1,2059.4Z M1044.3,2048.5 L1050.5,2037.6 L1062.8,2037.6 L1068.9,2048.5 L1062.8,2059.4 L1050.5,2059.4Z M1086.6,2048.5 L1092.8,2037.6 L1105.1,2037.6 L1111.2,2048.5 L1105.1,2059.4 L1092.8,2059.4Z M1128.9,2048.5 L1135.1,2037.6 L1147.4,2037.6 L1153.5,2048.5 L1147.4,2059.4 L1135.1,2059.4Z M1171.3,2048.5 L1177.4,2037.6 L1189.7,2037.6 L1195.9,2048.5 L1189.7,2059.4 L1177.4,2059.4Z M1213.6,2048.5 L1219.7,2037.6 L1232.0,2037.6 L1238.2,2048.5 L1232.0,2059.4 L1219.7,2059.4Z M1255.9,2048.5 L1262.1,2037.6 L1274.4,2037.6 L1280.5,2048.5 L1274.4,2059.4 L1262.1,2059.4Z M1298.2,2048.5 L1304.4,2037.6 L1316.7,2037.6 L1322.8,2048.5 L1316.7,2059.4 L1304.4,2059.4Z M1340.5,2048.5 L1346.7,2037.6 L1359.0,2037.6 L1365.1,2048.5 L1359.0,2059.4 L1346.7,2059.4Z M1382.9,2048.5 L1389.0,2037.6 L1401.3,2037.6 L1407.5,2048.5 L1401.3,2059.4 L1389.0,2059.4Z M1425.2,2048.5 L1431.3,2037.6 L1443.6,2037.6 L1449.8,2048.5 L1443.6,2059.4 L1431.3,2059.4Z M1467.5,2048.5 L1473.6,2037.6 L1486.0,2037.6 L1492.1,2048.5 L1486.0,2059.4 L1473.6,2059.4Z M1509.8,2048.5 L1516.0,2037.6 L1528.3,2037.6 L1534.4,2048.5 L1528.3,2059.4 L1516.0,2059.4Z M1552.1,2048.5 L1558.3,2037.6 L1570.6,2037.6 L1576.7,2048.5 L1570.6,2059.4 L1558.3,2059.4Z M1594.5,2048.5 L1600.6,2037.6 L1612.9,2037.6 L1619.1,2048.5 L1612.9,2059.4 L1600.6,2059.4Z M1636.8,2048.5 L1642.9,2037.6 L1655.2,2037.6 L1661.4,2048.5 L1655.2,2059.4 L1642.9,2059.4Z M1679.1,2048.5 L1685.2,2037.6 L1697.5,2037.6 L1703.7,2048.5 L1697.5,2059.4 L1685.2,2059.4Z M1721.4,2048.5 L1727.6,2037.6 L1739.9,2037.6 L1746.0,2048.5 L1739.9,2059.4 L1727.6,2059.4Z M1763.7,2048.5 L1769.9,2037.6 L1782.2,2037.6 L1788.3,2048.5 L1782.2,2059.4 L1769.9,2059.4Z M1806.1,2048.5 L1812.2,2037.6 L1824.5,2037.6 L1830.7,2048.5 L1824.5,2059.4 L1812.2,2059.4Z M1848.4,2048.5 L1854.5,2037.6 L1866.8,2037.6 L1873.0,2048.5 L1866.8,2059.4 L1854.5,2059.4Z M1890.7,2048.5 L1896.8,2037.6 L1909.1,2037.6 L1915.3,2048.5 L1909.1,2059.4 L1896.8,2059.4Z M1933.0,2048.5 L1939.2,2037.6 L1951.5,2037.6 L1957.6,2048.5 L1951.5,2059.4 L1939.2,2059.4Z M1975.3,2048.5 L1981.5,2037.6 L1993.8,2037.6 L1999.9,2048.5 L1993.8,2059.4 L1981.5,2059.4Z M2017.7,2048.5 L2023.8,2037.6 L2036.1,2037.6 L2042.3,2048.5 L2036.1,2059.4 L2023.8,2059.4Z M2060.0,2048.5 L2066.1,2037.6 L2078.4,2037.6 L2084.6,2048.5 L2078.4,2059.4 L2066.1,2059.4Z M2102.3,2048.5 L2108.4,2037.6 L2120.7,2037.6 L2126.9,2048.5 L2120.7,2059.4 L2108.4,2059.4Z M2144.6,2048.5 L2150.8,2037.6 L2163.1,2037.6 L2169.2,2048.5 L2163.1,2059.4 L2150.8,2059.4Z M2186.9,2048.5 L2193.1,2037.6 L2205.4,2037.6 L2211.5,2048.5 L2205.4,2059.4 L2193.1,2059.4Z M2229.3,2048.5 L2235.4,2037.6 L2247.7,2037.6 L2253.9,2048.5 L2247.7,2059.4 L2235.4,2059.4Z M2271.6,2048.5 L2277.7,2037.6 L2290.0,2037.6 L2296.2,2048.5 L2290.0,2059.4 L2277.7,2059.4Z M2313.9,2048.5 L2320.1,2037.6 L2332.4,2037.6 L2338.5,2048.5 L2332.4,2059.4 L2320.1,2059.4Z M2356.2,2048.5 L2362.4,2037.6 L2374.7,2037.6 L2380.8,2048.5 L2374.7,2059.4 L2362.4,2059.4Z M2398.5,2048.5 L2404.7,2037.6 L2417.0,2037.6 L2423.1,2048.5 L2417.0,2059.4 L2404.7,2059.4Z M2440.9,2048.5 L2447.0,2037.6 L2459.3,2037.6 L2465.5,2048.5 L2459.3,2059.4 L2447.0,2059.4Z M2483.2,2048.5 L2489.3,2037.6 L2501.6,2037.6 L2507.8,2048.5 L2501.6,2059.4 L2489.3,2059.4Z M2525.5,2048.5 L2531.7,2037.6 L2544.0,2037.6 L2550.1,2048.5 L2544.0,2059.4 L2531.7,2059.4Z M2567.8,2048.5 L2574.0,2037.6 L2586.3,2037.6 L2592.4,2048.5 L2586.3,2059.4 L2574.0,2059.4Z M2610.1,2048.5 L2616.3,2037.6 L2628.6,2037.6 L2634.7,2048.5 L2628.6,2059.4 L2616.3,2059.4Z M2652.5,2048.5 L2658.6,2037.6 L2670.9,2037.6 L2677.1,2048.5 L2670.9,2059.4 L2658.6,2059.4Z M2694.8,2048.5 L2700.9,2037.6 L2713.2,2037.6 L2719.4,2048.5 L2713.2,2059.4 L2700.9,2059.4Z M2737.1,2048.5 L2743.3,2037.6 L2755.6,2037.6 L2761.7,2048.5 L2755.6,2059.4 L2743.3,2059.4Z M2779.4,2048.5 L2785.6,2037.6 L2797.9,2037.6 L2804.0,2048.5 L2797.9,2059.4 L2785.6,2059.4Z M2821.7,2048.5 L2827.9,2037.6 L2840.2,2037.6 L2846.3,2048.5 L2840.2,2059.4 L2827.9,2059.4Z M2864.1,2048.5 L2870.2,2037.6 L2882.5,2037.6 L2888.7,2048.5 L2882.5,2059.4 L2870.2,2059.4Z M2906.4,2048.5 L2912.5,2037.6 L2924.8,2037.6 L2931.0,2048.5 L2924.8,2059.4 L2912.5,2059.4Z M2948.7,2048.5 L2954.9,2037.6 L2967.2,2037.6 L2973.3,2048.5 L2967.2,2059.4 L2954.9,2059.4Z M2991.0,2048.5 L2997.2,2037.6 L3009.5,2037.6 L3015.6,2048.5 L3009.5,2059.4 L2997.2,2059.4Z M3033.3,2048.5 L3039.5,2037.6 L3051.8,2037.6 L3057.9,2048.5 L3051.8,2059.4 L3039.5,2059.4Z M3075.7,2048.5 L3081.8,2037.6 L3094.1,2037.6 L3100.3,2048.5 L3094.1,2059.4 L3081.8,2059.4Z M3118.0,2048.5 L3124.1,2037.6 L3136.4,2037.6 L3142.6,2048.5 L3136.4,2059.4 L3124.1,2059.4Z M3160.3,2048.5 L3166.5,2037.6 L3178.8,2037.6 L3184.9,2048.5 L3178.8,2059.4 L3166.5,2059.4Z M413.5,2097.0 L419.6,2086.1 L431.9,2086.1 L438.1,2097.0 L431.9,2107.9 L419.6,2107.9Z M455.8,2097.0 L462.0,2086.1 L474.3,2086.1 L480.4,2097.0 L474.3,2107.9 L462.0,2107.9Z M498.1,2097.0 L504.3,2086.1 L516.6,2086.1 L522.7,2097.0 L516.6,2107.9 L504.3,2107.9Z M540.5,2097.0 L546.6,2086.1 L558.9,2086.1 L565.1,2097.0 L558.9,2107.9 L546.6,2107.9Z M582.8,2097.0 L588.9,2086.1 L601.2,2086.1 L607.4,2097.0 L601.2,2107.9 L588.9,2107.9Z M625.1,2097.0 L631.3,2086.1 L643.6,2086.1 L649.7,2097.0 L643.6,2107.9 L631.3,2107.9Z M667.4,2097.0 L673.6,2086.1 L685.9,2086.1 L692.0,2097.0 L685.9,2107.9 L673.6,2107.9Z M709.7,2097.0 L715.9,2086.1 L728.2,2086.1 L734.3,2097.0 L728.2,2107.9 L715.9,2107.9Z M752.1,2097.0 L758.2,2086.1 L770.5,2086.1 L776.7,2097.0 L770.5,2107.9 L758.2,2107.9Z M794.4,2097.0 L800.5,2086.1 L812.8,2086.1 L819.0,2097.0 L812.8,2107.9 L800.5,2107.9Z M836.7,2097.0 L842.9,2086.1 L855.2,2086.1 L861.3,2097.0 L855.2,2107.9 L842.9,2107.9Z M879.0,2097.0 L885.2,2086.1 L897.5,2086.1 L903.6,2097.0 L897.5,2107.9 L885.2,2107.9Z M921.3,2097.0 L927.5,2086.1 L939.8,2086.1 L945.9,2097.0 L939.8,2107.9 L927.5,2107.9Z M963.7,2097.0 L969.8,2086.1 L982.1,2086.1 L988.3,2097.0 L982.1,2107.9 L969.8,2107.9Z M1006.0,2097.0 L1012.1,2086.1 L1024.4,2086.1 L1030.6,2097.0 L1024.4,2107.9 L1012.1,2107.9Z M1048.3,2097.0 L1054.5,2086.1 L1066.8,2086.1 L1072.9,2097.0 L1066.8,2107.9 L1054.5,2107.9Z M1090.6,2097.0 L1096.8,2086.1 L1109.1,2086.1 L1115.2,2097.0 L1109.1,2107.9 L1096.8,2107.9Z M1132.9,2097.0 L1139.1,2086.1 L1151.4,2086.1 L1157.5,2097.0 L1151.4,2107.9 L1139.1,2107.9Z M1175.3,2097.0 L1181.4,2086.1 L1193.7,2086.1 L1199.9,2097.0 L1193.7,2107.9 L1181.4,2107.9Z M1217.6,2097.0 L1223.7,2086.1 L1236.0,2086.1 L1242.2,2097.0 L1236.0,2107.9 L1223.7,2107.9Z M1259.9,2097.0 L1266.1,2086.1 L1278.4,2086.1 L1284.5,2097.0 L1278.4,2107.9 L1266.1,2107.9Z M1302.2,2097.0 L1308.4,2086.1 L1320.7,2086.1 L1326.8,2097.0 L1320.7,2107.9 L1308.4,2107.9Z M1344.5,2097.0 L1350.7,2086.1 L1363.0,2086.1 L1369.1,2097.0 L1363.0,2107.9 L1350.7,2107.9Z M1386.9,2097.0 L1393.0,2086.1 L1405.3,2086.1 L1411.5,2097.0 L1405.3,2107.9 L1393.0,2107.9Z M1429.2,2097.0 L1435.3,2086.1 L1447.6,2086.1 L1453.8,2097.0 L1447.6,2107.9 L1435.3,2107.9Z M1471.5,2097.0 L1477.6,2086.1 L1490.0,2086.1 L1496.1,2097.0 L1490.0,2107.9 L1477.6,2107.9Z M1513.8,2097.0 L1520.0,2086.1 L1532.3,2086.1 L1538.4,2097.0 L1532.3,2107.9 L1520.0,2107.9Z M1556.1,2097.0 L1562.3,2086.1 L1574.6,2086.1 L1580.7,2097.0 L1574.6,2107.9 L1562.3,2107.9Z M1598.5,2097.0 L1604.6,2086.1 L1616.9,2086.1 L1623.1,2097.0 L1616.9,2107.9 L1604.6,2107.9Z M1640.8,2097.0 L1646.9,2086.1 L1659.2,2086.1 L1665.4,2097.0 L1659.2,2107.9 L1646.9,2107.9Z M1683.1,2097.0 L1689.2,2086.1 L1701.5,2086.1 L1707.7,2097.0 L1701.5,2107.9 L1689.2,2107.9Z M1725.4,2097.0 L1731.6,2086.1 L1743.9,2086.1 L1750.0,2097.0 L1743.9,2107.9 L1731.6,2107.9Z M1767.7,2097.0 L1773.9,2086.1 L1786.2,2086.1 L1792.3,2097.0 L1786.2,2107.9 L1773.9,2107.9Z M1810.1,2097.0 L1816.2,2086.1 L1828.5,2086.1 L1834.7,2097.0 L1828.5,2107.9 L1816.2,2107.9Z M1852.4,2097.0 L1858.5,2086.1 L1870.8,2086.1 L1877.0,2097.0 L1870.8,2107.9 L1858.5,2107.9Z M1894.7,2097.0 L1900.8,2086.1 L1913.1,2086.1 L1919.3,2097.0 L1913.1,2107.9 L1900.8,2107.9Z M1937.0,2097.0 L1943.2,2086.1 L1955.5,2086.1 L1961.6,2097.0 L1955.5,2107.9 L1943.2,2107.9Z M1979.3,2097.0 L1985.5,2086.1 L1997.8,2086.1 L2003.9,2097.0 L1997.8,2107.9 L1985.5,2107.9Z M2021.7,2097.0 L2027.8,2086.1 L2040.1,2086.1 L2046.3,2097.0 L2040.1,2107.9 L2027.8,2107.9Z M2064.0,2097.0 L2070.1,2086.1 L2082.4,2086.1 L2088.6,2097.0 L2082.4,2107.9 L2070.1,2107.9Z M2106.3,2097.0 L2112.4,2086.1 L2124.7,2086.1 L2130.9,2097.0 L2124.7,2107.9 L2112.4,2107.9Z M2148.6,2097.0 L2154.8,2086.1 L2167.1,2086.1 L2173.2,2097.0 L2167.1,2107.9 L2154.8,2107.9Z M2190.9,2097.0 L2197.1,2086.1 L2209.4,2086.1 L2215.5,2097.0 L2209.4,2107.9 L2197.1,2107.9Z M2233.3,2097.0 L2239.4,2086.1 L2251.7,2086.1 L2257.9,2097.0 L2251.7,2107.9 L2239.4,2107.9Z M2275.6,2097.0 L2281.7,2086.1 L2294.0,2086.1 L2300.2,2097.0 L2294.0,2107.9 L2281.7,2107.9Z M2317.9,2097.0 L2324.1,2086.1 L2336.4,2086.1 L2342.5,2097.0 L2336.4,2107.9 L2324.1,2107.9Z M2360.2,2097.0 L2366.4,2086.1 L2378.7,2086.1 L2384.8,2097.0 L2378.7,2107.9 L2366.4,2107.9Z M2402.5,2097.0 L2408.7,2086.1 L2421.0,2086.1 L2427.1,2097.0 L2421.0,2107.9 L2408.7,2107.9Z M2444.9,2097.0 L2451.0,2086.1 L2463.3,2086.1 L2469.5,2097.0 L2463.3,2107.9 L2451.0,2107.9Z M2487.2,2097.0 L2493.3,2086.1 L2505.6,2086.1 L2511.8,2097.0 L2505.6,2107.9 L2493.3,2107.9Z M2529.5,2097.0 L2535.7,2086.1 L2548.0,2086.1 L2554.1,2097.0 L2548.0,2107.9 L2535.7,2107.9Z M2571.8,2097.0 L2578.0,2086.1 L2590.3,2086.1 L2596.4,2097.0 L2590.3,2107.9 L2578.0,2107.9Z M2614.1,2097.0 L2620.3,2086.1 L2632.6,2086.1 L2638.7,2097.0 L2632.6,2107.9 L2620.3,2107.9Z M2656.5,2097.0 L2662.6,2086.1 L2674.9,2086.1 L2681.1,2097.0 L2674.9,2107.9 L2662.6,2107.9Z M2698.8,2097.0 L2704.9,2086.1 L2717.2,2086.1 L2723.4,2097.0 L2717.2,2107.9 L2704.9,2107.9Z M2741.1,2097.0 L2747.3,2086.1 L2759.6,2086.1 L2765.7,2097.0 L2759.6,2107.9 L2747.3,2107.9Z M2783.4,2097.0 L2789.6,2086.1 L2801.9,2086.1 L2808.0,2097.0 L2801.9,2107.9 L2789.6,2107.9Z M2825.7,2097.0 L2831.9,2086.1 L2844.2,2086.1 L2850.3,2097.0 L2844.2,2107.9 L2831.9,2107.9Z M2868.1,2097.0 L2874.2,2086.1 L2886.5,2086.1 L2892.7,2097.0 L2886.5,2107.9 L2874.2,2107.9Z M2910.4,2097.0 L2916.5,2086.1 L2928.8,2086.1 L2935.0,2097.0 L2928.8,2107.9 L2916.5,2107.9Z M2952.7,2097.0 L2958.9,2086.1 L2971.2,2086.1 L2977.3,2097.0 L2971.2,2107.9 L2958.9,2107.9Z M2995.0,2097.0 L3001.2,2086.1 L3013.5,2086.1 L3019.6,2097.0 L3013.5,2107.9 L3001.2,2107.9Z M3037.3,2097.0 L3043.5,2086.1 L3055.8,2086.1 L3061.9,2097.0 L3055.8,2107.9 L3043.5,2107.9Z M3079.7,2097.0 L3085.8,2086.1 L3098.1,2086.1 L3104.3,2097.0 L3098.1,2107.9 L3085.8,2107.9Z M3122.0,2097.0 L3128.1,2086.1 L3140.4,2086.1 L3146.6,2097.0 L3140.4,2107.9 L3128.1,2107.9Z M3164.3,2097.0 L3170.5,2086.1 L3182.8,2086.1 L3188.9,2097.0 L3182.8,2107.9 L3170.5,2107.9Z" fill="#a97cbe"/></g>
<path d="M413.0,1644 C411.0,1669 409.0,1699 410.0,1730 M413.0,1656 C421.0,1672 427.0,1699 423.0,1728 M438.0,1644 C436.0,1669 434.0,1699 435.0,1730 M438.0,1656 C446.0,1672 452.0,1699 448.0,1728 M475.6,1644.0 L475.6,1651.0 C470.1,1670.1 470.1,1683.2 475.6,1696.2 S478.9,1718.0 472.2,1731.0 M497.6,1644.0 L497.6,1651.0 C492.1,1670.1 492.1,1683.2 497.6,1696.2 S500.9,1718.0 494.2,1731.0 M534.1,1644 C532.1,1669 530.1,1699 531.1,1730 M534.1,1656 C542.1,1672 548.1,1699 544.1,1728 M559.1,1644 C557.1,1669 555.1,1699 556.1,1730 M559.1,1656 C567.1,1672 573.1,1699 569.1,1728 M596.6,1644.0 L596.6,1651.0 C591.1,1670.1 591.1,1683.2 596.6,1696.2 S599.9,1718.0 593.4,1731.0 M618.6,1644.0 L618.6,1651.0 C613.1,1670.1 613.1,1683.2 618.6,1696.2 S621.9,1718.0 615.4,1731.0 M655.2,1644 C653.2,1669 651.2,1699 652.2,1730 M655.2,1656 C663.2,1672 669.2,1699 665.2,1728 M680.2,1644 C678.2,1669 676.2,1699 677.2,1730 M680.2,1656 C688.2,1672 694.2,1699 690.2,1728 M717.8,1644.0 L717.8,1651.0 C712.2,1670.1 712.2,1683.2 717.8,1696.2 S721.0,1718.0 714.5,1731.0 M739.8,1644.0 L739.8,1651.0 C734.2,1670.1 734.2,1683.2 739.8,1696.2 S743.0,1718.0 736.5,1731.0 M776.3,1644 C774.3,1669 772.3,1699 773.3,1730 M776.3,1656 C784.3,1672 790.3,1699 786.3,1728 M801.3,1644 C799.3,1669 797.3,1699 798.3,1730 M801.3,1656 C809.3,1672 815.3,1699 811.3,1728 M838.8,1644.0 L838.8,1651.0 C833.3,1670.1 833.3,1683.2 838.8,1696.2 S842.1,1718.0 835.5,1731.0 M860.8,1644.0 L860.8,1651.0 C855.3,1670.1 855.3,1683.2 860.8,1696.2 S864.1,1718.0 857.5,1731.0 M897.4,1644 C895.4,1669 893.4,1699 894.4,1730 M897.4,1656 C905.4,1672 911.4,1699 907.4,1728 M922.4,1644 C920.4,1669 918.4,1699 919.4,1730 M922.4,1656 C930.4,1672 936.4,1699 932.4,1728 M959.9,1644.0 L959.9,1651.0 C954.4,1670.1 954.4,1683.2 959.9,1696.2 S963.2,1718.0 956.6,1731.0 M981.9,1644.0 L981.9,1651.0 C976.4,1670.1 976.4,1683.2 981.9,1696.2 S985.2,1718.0 978.6,1731.0 M1018.5,1644 C1016.5,1669 1014.5,1699 1015.5,1730 M1018.5,1656 C1026.5,1672 1032.5,1699 1028.5,1728 M1043.5,1644 C1041.5,1669 1039.5,1699 1040.5,1730 M1043.5,1656 C1051.5,1672 1057.5,1699 1053.5,1728 M1081.0,1644.0 L1081.0,1651.0 C1075.5,1670.1 1075.5,1683.2 1081.0,1696.2 S1084.3,1718.0 1077.8,1731.0 M1103.0,1644.0 L1103.0,1651.0 C1097.5,1670.1 1097.5,1683.2 1103.0,1696.2 S1106.3,1718.0 1099.8,1731.0 M1139.6,1644 C1137.6,1669 1135.6,1699 1136.6,1730 M1139.6,1656 C1147.6,1672 1153.6,1699 1149.6,1728 M1164.6,1644 C1162.6,1669 1160.6,1699 1161.6,1730 M1164.6,1656 C1172.6,1672 1178.6,1699 1174.6,1728 M1202.2,1644.0 L1202.2,1651.0 C1196.7,1670.1 1196.7,1683.2 1202.2,1696.2 S1205.5,1718.0 1198.9,1731.0 M1224.2,1644.0 L1224.2,1651.0 C1218.7,1670.1 1218.7,1683.2 1224.2,1696.2 S1227.5,1718.0 1220.9,1731.0 M1260.7,1644 C1258.7,1669 1256.7,1699 1257.7,1730 M1260.7,1656 C1268.7,1672 1274.7,1699 1270.7,1728 M1285.7,1644 C1283.7,1669 1281.7,1699 1282.7,1730 M1285.7,1656 C1293.7,1672 1299.7,1699 1295.7,1728 M1323.2,1644.0 L1323.2,1651.0 C1317.8,1670.1 1317.8,1683.2 1323.2,1696.2 S1326.5,1718.0 1320.0,1731.0 M1345.2,1644.0 L1345.2,1651.0 C1339.8,1670.1 1339.8,1683.2 1345.2,1696.2 S1348.5,1718.0 1342.0,1731.0 M1381.8,1644 C1379.8,1669 1377.8,1699 1378.8,1730 M1381.8,1656 C1389.8,1672 1395.8,1699 1391.8,1728 M1406.8,1644 C1404.8,1669 1402.8,1699 1403.8,1730 M1406.8,1656 C1414.8,1672 1420.8,1699 1416.8,1728 M1444.3,1644.0 L1444.3,1651.0 C1438.8,1670.1 1438.8,1683.2 1444.3,1696.2 S1447.6,1718.0 1441.0,1731.0 M1466.3,1644.0 L1466.3,1651.0 C1460.8,1670.1 1460.8,1683.2 1466.3,1696.2 S1469.6,1718.0 1463.0,1731.0 M1502.9,1644 C1500.9,1669 1498.9,1699 1499.9,1730 M1502.9,1656 C1510.9,1672 1516.9,1699 1512.9,1728 M1527.9,1644 C1525.9,1669 1523.9,1699 1524.9,1730 M1527.9,1656 C1535.9,1672 1541.9,1699 1537.9,1728 M1565.5,1644.0 L1565.5,1651.0 C1560.0,1670.1 1560.0,1683.2 1565.5,1696.2 S1568.8,1718.0 1562.2,1731.0 M1587.5,1644.0 L1587.5,1651.0 C1582.0,1670.1 1582.0,1683.2 1587.5,1696.2 S1590.8,1718.0 1584.2,1731.0 M1624.0,1644 C1622.0,1669 1620.0,1699 1621.0,1730 M1624.0,1656 C1632.0,1672 1638.0,1699 1634.0,1728 M1649.0,1644 C1647.0,1669 1645.0,1699 1646.0,1730 M1649.0,1656 C1657.0,1672 1663.0,1699 1659.0,1728 M1686.5,1644.0 L1686.5,1651.0 C1681.0,1670.1 1681.0,1683.2 1686.5,1696.2 S1689.8,1718.0 1683.2,1731.0 M1708.5,1644.0 L1708.5,1651.0 C1703.0,1670.1 1703.0,1683.2 1708.5,1696.2 S1711.8,1718.0 1705.2,1731.0 M1745.1,1644 C1743.1,1669 1741.1,1699 1742.1,1730 M1745.1,1656 C1753.1,1672 1759.1,1699 1755.1,1728 M1770.1,1644 C1768.1,1669 1766.1,1699 1767.1,1730 M1770.1,1656 C1778.1,1672 1784.1,1699 1780.1,1728 M1807.6,1644.0 L1807.6,1651.0 C1802.1,1670.1 1802.1,1683.2 1807.6,1696.2 S1810.9,1718.0 1804.3,1731.0 M1829.6,1644.0 L1829.6,1651.0 C1824.1,1670.1 1824.1,1683.2 1829.6,1696.2 S1832.9,1718.0 1826.3,1731.0 M1866.2,1644 C1864.2,1669 1862.2,1699 1863.2,1730 M1866.2,1656 C1874.2,1672 1880.2,1699 1876.2,1728 M1891.2,1644 C1889.2,1669 1887.2,1699 1888.2,1730 M1891.2,1656 C1899.2,1672 1905.2,1699 1901.2,1728 M1928.8,1644.0 L1928.8,1651.0 C1923.2,1670.1 1923.2,1683.2 1928.8,1696.2 S1932.0,1718.0 1925.5,1731.0 M1950.8,1644.0 L1950.8,1651.0 C1945.2,1670.1 1945.2,1683.2 1950.8,1696.2 S1954.0,1718.0 1947.5,1731.0 M1987.3,1644 C1985.3,1669 1983.3,1699 1984.3,1730 M1987.3,1656 C1995.3,1672 2001.3,1699 1997.3,1728 M2012.3,1644 C2010.3,1669 2008.3,1699 2009.3,1730 M2012.3,1656 C2020.3,1672 2026.3,1699 2022.3,1728 M2049.8,1644.0 L2049.8,1651.0 C2044.3,1670.1 2044.3,1683.2 2049.8,1696.2 S2053.2,1718.0 2046.5,1731.0 M2071.8,1644.0 L2071.8,1651.0 C2066.3,1670.1 2066.3,1683.2 2071.8,1696.2 S2075.2,1718.0 2068.5,1731.0 M2108.4,1644 C2106.4,1669 2104.4,1699 2105.4,1730 M2108.4,1656 C2116.4,1672 2122.4,1699 2118.4,1728 M2133.4,1644 C2131.4,1669 2129.4,1699 2130.4,1730 M2133.4,1656 C2141.4,1672 2147.4,1699 2143.4,1728 M2170.9,1644.0 L2170.9,1651.0 C2165.4,1670.1 2165.4,1683.2 2170.9,1696.2 S2174.2,1718.0 2167.6,1731.0 M2192.9,1644.0 L2192.9,1651.0 C2187.4,1670.1 2187.4,1683.2 2192.9,1696.2 S2196.2,1718.0 2189.6,1731.0 M2229.5,1644 C2227.5,1669 2225.5,1699 2226.5,1730 M2229.5,1656 C2237.5,1672 2243.5,1699 2239.5,1728 M2254.5,1644 C2252.5,1669 2250.5,1699 2251.5,1730 M2254.5,1656 C2262.5,1672 2268.5,1699 2264.5,1728 M2292.1,1644.0 L2292.1,1651.0 C2286.6,1670.1 2286.6,1683.2 2292.1,1696.2 S2295.4,1718.0 2288.8,1731.0 M2314.1,1644.0 L2314.1,1651.0 C2308.6,1670.1 2308.6,1683.2 2314.1,1696.2 S2317.4,1718.0 2310.8,1731.0 M2350.6,1644 C2348.6,1669 2346.6,1699 2347.6,1730 M2350.6,1656 C2358.6,1672 2364.6,1699 2360.6,1728 M2375.6,1644 C2373.6,1669 2371.6,1699 2372.6,1730 M2375.6,1656 C2383.6,1672 2389.6,1699 2385.6,1728 M2413.1,1644.0 L2413.1,1651.0 C2407.6,1670.1 2407.6,1683.2 2413.1,1696.2 S2416.4,1718.0 2409.8,1731.0 M2435.1,1644.0 L2435.1,1651.0 C2429.6,1670.1 2429.6,1683.2 2435.1,1696.2 S2438.4,1718.0 2431.8,1731.0 M2471.7,1644 C2469.7,1669 2467.7,1699 2468.7,1730 M2471.7,1656 C2479.7,1672 2485.7,1699 2481.7,1728 M2496.7,1644 C2494.7,1669 2492.7,1699 2493.7,1730 M2496.7,1656 C2504.7,1672 2510.7,1699 2506.7,1728 M2534.2,1644.0 L2534.2,1651.0 C2528.8,1670.1 2528.8,1683.2 2534.2,1696.2 S2537.6,1718.0 2530.9,1731.0 M2556.2,1644.0 L2556.2,1651.0 C2550.8,1670.1 2550.8,1683.2 2556.2,1696.2 S2559.6,1718.0 2552.9,1731.0 M2592.8,1644 C2590.8,1669 2588.8,1699 2589.8,1730 M2592.8,1656 C2600.8,1672 2606.8,1699 2602.8,1728 M2617.8,1644 C2615.8,1669 2613.8,1699 2614.8,1730 M2617.8,1656 C2625.8,1672 2631.8,1699 2627.8,1728 M2655.3,1644.0 L2655.3,1651.0 C2649.8,1670.1 2649.8,1683.2 2655.3,1696.2 S2658.7,1718.0 2652.0,1731.0 M2677.3,1644.0 L2677.3,1651.0 C2671.8,1670.1 2671.8,1683.2 2677.3,1696.2 S2680.7,1718.0 2674.0,1731.0 M2713.9,1644 C2711.9,1669 2709.9,1699 2710.9,1730 M2713.9,1656 C2721.9,1672 2727.9,1699 2723.9,1728 M2738.9,1644 C2736.9,1669 2734.9,1699 2735.9,1730 M2738.9,1656 C2746.9,1672 2752.9,1699 2748.9,1728 M2776.4,1644.0 L2776.4,1651.0 C2770.9,1670.1 2770.9,1683.2 2776.4,1696.2 S2779.8,1718.0 2773.1,1731.0 M2798.4,1644.0 L2798.4,1651.0 C2792.9,1670.1 2792.9,1683.2 2798.4,1696.2 S2801.8,1718.0 2795.1,1731.0 M2835.0,1644 C2833.0,1669 2831.0,1699 2832.0,1730 M2835.0,1656 C2843.0,1672 2849.0,1699 2845.0,1728 M2860.0,1644 C2858.0,1669 2856.0,1699 2857.0,1730 M2860.0,1656 C2868.0,1672 2874.0,1699 2870.0,1728 M2897.5,1644.0 L2897.5,1651.0 C2892.0,1670.1 2892.0,1683.2 2897.5,1696.2 S2900.8,1718.0 2894.2,1731.0 M2919.5,1644.0 L2919.5,1651.0 C2914.0,1670.1 2914.0,1683.2 2919.5,1696.2 S2922.8,1718.0 2916.2,1731.0 M2956.1,1644 C2954.1,1669 2952.1,1699 2953.1,1730 M2956.1,1656 C2964.1,1672 2970.1,1699 2966.1,1728 M2981.1,1644 C2979.1,1669 2977.1,1699 2978.1,1730 M2981.1,1656 C2989.1,1672 2995.1,1699 2991.1,1728 M3018.7,1644.0 L3018.7,1651.0 C3013.2,1670.1 3013.2,1683.2 3018.7,1696.2 S3022.0,1718.0 3015.3,1731.0 M3040.7,1644.0 L3040.7,1651.0 C3035.2,1670.1 3035.2,1683.2 3040.7,1696.2 S3044.0,1718.0 3037.3,1731.0 M3077.2,1644 C3075.2,1669 3073.2,1699 3074.2,1730 M3077.2,1656 C3085.2,1672 3091.2,1699 3087.2,1728 M3102.2,1644 C3100.2,1669 3098.2,1699 3099.2,1730 M3102.2,1656 C3110.2,1672 3116.2,1699 3112.2,1728 M3139.8,1644.0 L3139.8,1651.0 C3134.2,1670.1 3134.2,1683.2 3139.8,1696.2 S3143.1,1718.0 3136.4,1731.0 M3161.8,1644.0 L3161.8,1651.0 C3156.2,1670.1 3156.2,1683.2 3161.8,1696.2 S3165.1,1718.0 3158.4,1731.0 M414.8,1830.0 L414.8,1822.8 C420.3,1803.0 420.3,1789.5 414.8,1776.0 S411.5,1753.5 418.1,1740.0 M437.8,1830.0 L437.8,1822.8 C443.3,1803.0 443.3,1789.5 437.8,1776.0 S434.5,1753.5 441.1,1740.0 M475.2,1830.0 L475.2,1822.8 C480.7,1803.0 480.7,1789.5 475.2,1776.0 S471.9,1753.5 478.5,1740.0 M498.2,1830.0 L498.2,1822.8 C503.7,1803.0 503.7,1789.5 498.2,1776.0 S494.9,1753.5 501.5,1740.0 M535.6,1830.0 L535.6,1822.8 C541.1,1803.0 541.1,1789.5 535.6,1776.0 S532.3,1753.5 538.9,1740.0 M558.6,1830.0 L558.6,1822.8 C564.1,1803.0 564.1,1789.5 558.6,1776.0 S555.3,1753.5 561.9,1740.0 M595.9,1830.0 L595.9,1822.8 C601.4,1803.0 601.4,1789.5 595.9,1776.0 S592.6,1753.5 599.2,1740.0 M618.9,1830.0 L618.9,1822.8 C624.4,1803.0 624.4,1789.5 618.9,1776.0 S615.6,1753.5 622.2,1740.0 M656.3,1830.0 L656.3,1822.8 C661.8,1803.0 661.8,1789.5 656.3,1776.0 S653.0,1753.5 659.6,1740.0 M679.3,1830.0 L679.3,1822.8 C684.8,1803.0 684.8,1789.5 679.3,1776.0 S676.0,1753.5 682.6,1740.0 M716.7,1830.0 L716.7,1822.8 C722.2,1803.0 722.2,1789.5 716.7,1776.0 S713.4,1753.5 720.0,1740.0 M739.7,1830.0 L739.7,1822.8 C745.2,1803.0 745.2,1789.5 739.7,1776.0 S736.4,1753.5 743.0,1740.0 M777.1,1830.0 L777.1,1822.8 C782.6,1803.0 782.6,1789.5 777.1,1776.0 S773.8,1753.5 780.4,1740.0 M800.1,1830.0 L800.1,1822.8 C805.6,1803.0 805.6,1789.5 800.1,1776.0 S796.8,1753.5 803.4,1740.0 M837.5,1830.0 L837.5,1822.8 C843.0,1803.0 843.0,1789.5 837.5,1776.0 S834.2,1753.5 840.8,1740.0 M860.5,1830.0 L860.5,1822.8 C866.0,1803.0 866.0,1789.5 860.5,1776.0 S857.2,1753.5 863.8,1740.0 M897.8,1830.0 L897.8,1822.8 C903.3,1803.0 903.3,1789.5 897.8,1776.0 S894.5,1753.5 901.1,1740.0 M920.8,1830.0 L920.8,1822.8 C926.3,1803.0 926.3,1789.5 920.8,1776.0 S917.5,1753.5 924.1,1740.0 M958.2,1830.0 L958.2,1822.8 C963.7,1803.0 963.7,1789.5 958.2,1776.0 S954.9,1753.5 961.5,1740.0 M981.2,1830.0 L981.2,1822.8 C986.7,1803.0 986.7,1789.5 981.2,1776.0 S977.9,1753.5 984.5,1740.0 M1018.6,1830.0 L1018.6,1822.8 C1024.1,1803.0 1024.1,1789.5 1018.6,1776.0 S1015.3,1753.5 1021.9,1740.0 M1041.6,1830.0 L1041.6,1822.8 C1047.1,1803.0 1047.1,1789.5 1041.6,1776.0 S1038.3,1753.5 1044.9,1740.0 M1079.0,1830.0 L1079.0,1822.8 C1084.5,1803.0 1084.5,1789.5 1079.0,1776.0 S1075.7,1753.5 1082.3,1740.0 M1102.0,1830.0 L1102.0,1822.8 C1107.5,1803.0 1107.5,1789.5 1102.0,1776.0 S1098.7,1753.5 1105.3,1740.0 M1139.4,1830.0 L1139.4,1822.8 C1144.9,1803.0 1144.9,1789.5 1139.4,1776.0 S1136.1,1753.5 1142.7,1740.0 M1162.4,1830.0 L1162.4,1822.8 C1167.9,1803.0 1167.9,1789.5 1162.4,1776.0 S1159.1,1753.5 1165.7,1740.0 M1199.7,1830.0 L1199.7,1822.8 C1205.2,1803.0 1205.2,1789.5 1199.7,1776.0 S1196.4,1753.5 1203.0,1740.0 M1222.7,1830.0 L1222.7,1822.8 C1228.2,1803.0 1228.2,1789.5 1222.7,1776.0 S1219.4,1753.5 1226.0,1740.0 M1260.1,1830.0 L1260.1,1822.8 C1265.6,1803.0 1265.6,1789.5 1260.1,1776.0 S1256.8,1753.5 1263.4,1740.0 M1283.1,1830.0 L1283.1,1822.8 C1288.6,1803.0 1288.6,1789.5 1283.1,1776.0 S1279.8,1753.5 1286.4,1740.0 M1320.5,1830.0 L1320.5,1822.8 C1326.0,1803.0 1326.0,1789.5 1320.5,1776.0 S1317.2,1753.5 1323.8,1740.0 M1343.5,1830.0 L1343.5,1822.8 C1349.0,1803.0 1349.0,1789.5 1343.5,1776.0 S1340.2,1753.5 1346.8,1740.0 M1380.9,1830.0 L1380.9,1822.8 C1386.4,1803.0 1386.4,1789.5 1380.9,1776.0 S1377.6,1753.5 1384.2,1740.0 M1403.9,1830.0 L1403.9,1822.8 C1409.4,1803.0 1409.4,1789.5 1403.9,1776.0 S1400.6,1753.5 1407.2,1740.0 M1441.3,1830.0 L1441.3,1822.8 C1446.8,1803.0 1446.8,1789.5 1441.3,1776.0 S1438.0,1753.5 1444.6,1740.0 M1464.3,1830.0 L1464.3,1822.8 C1469.8,1803.0 1469.8,1789.5 1464.3,1776.0 S1461.0,1753.5 1467.6,1740.0 M1501.6,1830.0 L1501.6,1822.8 C1507.1,1803.0 1507.1,1789.5 1501.6,1776.0 S1498.3,1753.5 1504.9,1740.0 M1524.6,1830.0 L1524.6,1822.8 C1530.1,1803.0 1530.1,1789.5 1524.6,1776.0 S1521.3,1753.5 1527.9,1740.0 M1562.0,1830.0 L1562.0,1822.8 C1567.5,1803.0 1567.5,1789.5 1562.0,1776.0 S1558.7,1753.5 1565.3,1740.0 M1585.0,1830.0 L1585.0,1822.8 C1590.5,1803.0 1590.5,1789.5 1585.0,1776.0 S1581.7,1753.5 1588.3,1740.0 M1622.4,1830.0 L1622.4,1822.8 C1627.9,1803.0 1627.9,1789.5 1622.4,1776.0 S1619.1,1753.5 1625.7,1740.0 M1645.4,1830.0 L1645.4,1822.8 C1650.9,1803.0 1650.9,1789.5 1645.4,1776.0 S1642.1,1753.5 1648.7,1740.0 M1682.8,1830.0 L1682.8,1822.8 C1688.3,1803.0 1688.3,1789.5 1682.8,1776.0 S1679.5,1753.5 1686.1,1740.0 M1705.8,1830.0 L1705.8,1822.8 C1711.3,1803.0 1711.3,1789.5 1705.8,1776.0 S1702.5,1753.5 1709.1,1740.0 M1743.2,1830.0 L1743.2,1822.8 C1748.7,1803.0 1748.7,1789.5 1743.2,1776.0 S1739.9,1753.5 1746.5,1740.0 M1766.2,1830.0 L1766.2,1822.8 C1771.7,1803.0 1771.7,1789.5 1766.2,1776.0 S1762.9,1753.5 1769.5,1740.0 M1803.5,1830.0 L1803.5,1822.8 C1809.0,1803.0 1809.0,1789.5 1803.5,1776.0 S1800.2,1753.5 1806.8,1740.0 M1826.5,1830.0 L1826.5,1822.8 C1832.0,1803.0 1832.0,1789.5 1826.5,1776.0 S1823.2,1753.5 1829.8,1740.0 M1863.9,1830.0 L1863.9,1822.8 C1869.4,1803.0 1869.4,1789.5 1863.9,1776.0 S1860.6,1753.5 1867.2,1740.0 M1886.9,1830.0 L1886.9,1822.8 C1892.4,1803.0 1892.4,1789.5 1886.9,1776.0 S1883.6,1753.5 1890.2,1740.0 M1924.3,1830.0 L1924.3,1822.8 C1929.8,1803.0 1929.8,1789.5 1924.3,1776.0 S1921.0,1753.5 1927.6,1740.0 M1947.3,1830.0 L1947.3,1822.8 C1952.8,1803.0 1952.8,1789.5 1947.3,1776.0 S1944.0,1753.5 1950.6,1740.0 M1984.7,1830.0 L1984.7,1822.8 C1990.2,1803.0 1990.2,1789.5 1984.7,1776.0 S1981.4,1753.5 1988.0,1740.0 M2007.7,1830.0 L2007.7,1822.8 C2013.2,1803.0 2013.2,1789.5 2007.7,1776.0 S2004.4,1753.5 2011.0,1740.0 M2045.1,1830.0 L2045.1,1822.8 C2050.6,1803.0 2050.6,1789.5 2045.1,1776.0 S2041.8,1753.5 2048.4,1740.0 M2068.1,1830.0 L2068.1,1822.8 C2073.6,1803.0 2073.6,1789.5 2068.1,1776.0 S2064.8,1753.5 2071.4,1740.0 M2105.4,1830.0 L2105.4,1822.8 C2110.9,1803.0 2110.9,1789.5 2105.4,1776.0 S2102.1,1753.5 2108.7,1740.0 M2128.4,1830.0 L2128.4,1822.8 C2133.9,1803.0 2133.9,1789.5 2128.4,1776.0 S2125.1,1753.5 2131.7,1740.0 M2165.8,1830.0 L2165.8,1822.8 C2171.3,1803.0 2171.3,1789.5 2165.8,1776.0 S2162.5,1753.5 2169.1,1740.0 M2188.8,1830.0 L2188.8,1822.8 C2194.3,1803.0 2194.3,1789.5 2188.8,1776.0 S2185.5,1753.5 2192.1,1740.0 M2226.2,1830.0 L2226.2,1822.8 C2231.7,1803.0 2231.7,1789.5 2226.2,1776.0 S2222.9,1753.5 2229.5,1740.0 M2249.2,1830.0 L2249.2,1822.8 C2254.7,1803.0 2254.7,1789.5 2249.2,1776.0 S2245.9,1753.5 2252.5,1740.0 M2286.6,1830.0 L2286.6,1822.8 C2292.1,1803.0 2292.1,1789.5 2286.6,1776.0 S2283.3,1753.5 2289.9,1740.0 M2309.6,1830.0 L2309.6,1822.8 C2315.1,1803.0 2315.1,1789.5 2309.6,1776.0 S2306.3,1753.5 2312.9,1740.0 M2347.0,1830.0 L2347.0,1822.8 C2352.5,1803.0 2352.5,1789.5 2347.0,1776.0 S2343.7,1753.5 2350.3,1740.0 M2370.0,1830.0 L2370.0,1822.8 C2375.5,1803.0 2375.5,1789.5 2370.0,1776.0 S2366.7,1753.5 2373.3,1740.0 M2407.3,1830.0 L2407.3,1822.8 C2412.8,1803.0 2412.8,1789.5 2407.3,1776.0 S2404.0,1753.5 2410.6,1740.0 M2430.3,1830.0 L2430.3,1822.8 C2435.8,1803.0 2435.8,1789.5 2430.3,1776.0 S2427.0,1753.5 2433.6,1740.0 M2467.7,1830.0 L2467.7,1822.8 C2473.2,1803.0 2473.2,1789.5 2467.7,1776.0 S2464.4,1753.5 2471.0,1740.0 M2490.7,1830.0 L2490.7,1822.8 C2496.2,1803.0 2496.2,1789.5 2490.7,1776.0 S2487.4,1753.5 2494.0,1740.0 M2528.1,1830.0 L2528.1,1822.8 C2533.6,1803.0 2533.6,1789.5 2528.1,1776.0 S2524.8,1753.5 2531.4,1740.0 M2551.1,1830.0 L2551.1,1822.8 C2556.6,1803.0 2556.6,1789.5 2551.1,1776.0 S2547.8,1753.5 2554.4,1740.0 M2588.5,1830.0 L2588.5,1822.8 C2594.0,1803.0 2594.0,1789.5 2588.5,1776.0 S2585.2,1753.5 2591.8,1740.0 M2611.5,1830.0 L2611.5,1822.8 C2617.0,1803.0 2617.0,1789.5 2611.5,1776.0 S2608.2,1753.5 2614.8,1740.0 M2648.9,1830.0 L2648.9,1822.8 C2654.4,1803.0 2654.4,1789.5 2648.9,1776.0 S2645.6,1753.5 2652.2,1740.0 M2671.9,1830.0 L2671.9,1822.8 C2677.4,1803.0 2677.4,1789.5 2671.9,1776.0 S2668.6,1753.5 2675.2,1740.0 M2709.2,1830.0 L2709.2,1822.8 C2714.7,1803.0 2714.7,1789.5 2709.2,1776.0 S2705.9,1753.5 2712.5,1740.0 M2732.2,1830.0 L2732.2,1822.8 C2737.7,1803.0 2737.7,1789.5 2732.2,1776.0 S2728.9,1753.5 2735.5,1740.0 M2769.6,1830.0 L2769.6,1822.8 C2775.1,1803.0 2775.1,1789.5 2769.6,1776.0 S2766.3,1753.5 2772.9,1740.0 M2792.6,1830.0 L2792.6,1822.8 C2798.1,1803.0 2798.1,1789.5 2792.6,1776.0 S2789.3,1753.5 2795.9,1740.0 M2830.0,1830.0 L2830.0,1822.8 C2835.5,1803.0 2835.5,1789.5 2830.0,1776.0 S2826.7,1753.5 2833.3,1740.0 M2853.0,1830.0 L2853.0,1822.8 C2858.5,1803.0 2858.5,1789.5 2853.0,1776.0 S2849.7,1753.5 2856.3,1740.0 M2890.4,1830.0 L2890.4,1822.8 C2895.9,1803.0 2895.9,1789.5 2890.4,1776.0 S2887.1,1753.5 2893.7,1740.0 M2913.4,1830.0 L2913.4,1822.8 C2918.9,1803.0 2918.9,1789.5 2913.4,1776.0 S2910.1,1753.5 2916.7,1740.0 M2950.8,1830.0 L2950.8,1822.8 C2956.3,1803.0 2956.3,1789.5 2950.8,1776.0 S2947.5,1753.5 2954.1,1740.0 M2973.8,1830.0 L2973.8,1822.8 C2979.3,1803.0 2979.3,1789.5 2973.8,1776.0 S2970.5,1753.5 2977.1,1740.0 M3011.1,1830.0 L3011.1,1822.8 C3016.6,1803.0 3016.6,1789.5 3011.1,1776.0 S3007.8,1753.5 3014.4,1740.0 M3034.1,1830.0 L3034.1,1822.8 C3039.6,1803.0 3039.6,1789.5 3034.1,1776.0 S3030.8,1753.5 3037.4,1740.0 M3071.5,1830.0 L3071.5,1822.8 C3077.0,1803.0 3077.0,1789.5 3071.5,1776.0 S3068.2,1753.5 3074.8,1740.0 M3094.5,1830.0 L3094.5,1822.8 C3100.0,1803.0 3100.0,1789.5 3094.5,1776.0 S3091.2,1753.5 3097.8,1740.0 M3131.9,1830.0 L3131.9,1822.8 C3137.4,1803.0 3137.4,1789.5 3131.9,1776.0 S3128.6,1753.5 3135.2,1740.0 M3154.9,1830.0 L3154.9,1822.8 C3160.4,1803.0 3160.4,1789.5 3154.9,1776.0 S3151.6,1753.5 3158.2,1740.0 M413.5,2221.0 L413.5,2228.3 C408.0,2248.3 408.0,2261.9 413.5,2275.6 S416.8,2298.3 410.2,2312.0 M435.5,2221.0 L435.5,2228.3 C430.0,2248.3 430.0,2261.9 435.5,2275.6 S438.8,2298.3 432.2,2312.0 M473.9,2221.0 L473.9,2228.3 C468.4,2248.3 468.4,2261.9 473.9,2275.6 S477.2,2298.3 470.6,2312.0 M495.9,2221.0 L495.9,2228.3 C490.4,2248.3 490.4,2261.9 495.9,2275.6 S499.2,2298.3 492.6,2312.0 M534.3,2221.0 L534.3,2228.3 C528.8,2248.3 528.8,2261.9 534.3,2275.6 S537.6,2298.3 531.0,2312.0 M556.3,2221.0 L556.3,2228.3 C550.8,2248.3 550.8,2261.9 556.3,2275.6 S559.6,2298.3 553.0,2312.0 M594.7,2221.0 L594.7,2228.3 C589.2,2248.3 589.2,2261.9 594.7,2275.6 S598.0,2298.3 591.4,2312.0 M616.7,2221.0 L616.7,2228.3 C611.2,2248.3 611.2,2261.9 616.7,2275.6 S620.0,2298.3 613.4,2312.0 M655.1,2221.0 L655.1,2228.3 C649.6,2248.3 649.6,2261.9 655.1,2275.6 S658.4,2298.3 651.8,2312.0 M677.1,2221.0 L677.1,2228.3 C671.6,2248.3 671.6,2261.9 677.1,2275.6 S680.4,2298.3 673.8,2312.0 M715.5,2221.0 L715.5,2228.3 C710.0,2248.3 710.0,2261.9 715.5,2275.6 S718.8,2298.3 712.2,2312.0 M737.5,2221.0 L737.5,2228.3 C732.0,2248.3 732.0,2261.9 737.5,2275.6 S740.8,2298.3 734.2,2312.0 M776.0,2221.0 L776.0,2228.3 C770.5,2248.3 770.5,2261.9 776.0,2275.6 S779.3,2298.3 772.7,2312.0 M798.0,2221.0 L798.0,2228.3 C792.5,2248.3 792.5,2261.9 798.0,2275.6 S801.3,2298.3 794.7,2312.0 M836.4,2221.0 L836.4,2228.3 C830.9,2248.3 830.9,2261.9 836.4,2275.6 S839.7,2298.3 833.1,2312.0 M858.4,2221.0 L858.4,2228.3 C852.9,2248.3 852.9,2261.9 858.4,2275.6 S861.7,2298.3 855.1,2312.0 M896.8,2221.0 L896.8,2228.3 C891.3,2248.3 891.3,2261.9 896.8,2275.6 S900.1,2298.3 893.5,2312.0 M918.8,2221.0 L918.8,2228.3 C913.3,2248.3 913.3,2261.9 918.8,2275.6 S922.1,2298.3 915.5,2312.0 M957.2,2221.0 L957.2,2228.3 C951.7,2248.3 951.7,2261.9 957.2,2275.6 S960.5,2298.3 953.9,2312.0 M979.2,2221.0 L979.2,2228.3 C973.7,2248.3 973.7,2261.9 979.2,2275.6 S982.5,2298.3 975.9,2312.0 M1017.6,2221.0 L1017.6,2228.3 C1012.1,2248.3 1012.1,2261.9 1017.6,2275.6 S1020.9,2298.3 1014.3,2312.0 M1039.6,2221.0 L1039.6,2228.3 C1034.1,2248.3 1034.1,2261.9 1039.6,2275.6 S1042.9,2298.3 1036.3,2312.0 M1078.0,2221.0 L1078.0,2228.3 C1072.5,2248.3 1072.5,2261.9 1078.0,2275.6 S1081.3,2298.3 1074.7,2312.0 M1100.0,2221.0 L1100.0,2228.3 C1094.5,2248.3 1094.5,2261.9 1100.0,2275.6 S1103.3,2298.3 1096.7,2312.0 M1138.4,2221.0 L1138.4,2228.3 C1132.9,2248.3 1132.9,2261.9 1138.4,2275.6 S1141.7,2298.3 1135.1,2312.0 M1160.4,2221.0 L1160.4,2228.3 C1154.9,2248.3 1154.9,2261.9 1160.4,2275.6 S1163.7,2298.3 1157.1,2312.0 M1198.8,2221.0 L1198.8,2228.3 C1193.3,2248.3 1193.3,2261.9 1198.8,2275.6 S1202.1,2298.3 1195.5,2312.0 M1220.8,2221.0 L1220.8,2228.3 C1215.3,2248.3 1215.3,2261.9 1220.8,2275.6 S1224.1,2298.3 1217.5,2312.0 M1259.2,2221.0 L1259.2,2228.3 C1253.7,2248.3 1253.7,2261.9 1259.2,2275.6 S1262.5,2298.3 1255.9,2312.0 M1281.2,2221.0 L1281.2,2228.3 C1275.7,2248.3 1275.7,2261.9 1281.2,2275.6 S1284.5,2298.3 1277.9,2312.0 M1319.7,2221.0 L1319.7,2228.3 C1314.2,2248.3 1314.2,2261.9 1319.7,2275.6 S1323.0,2298.3 1316.4,2312.0 M1341.7,2221.0 L1341.7,2228.3 C1336.2,2248.3 1336.2,2261.9 1341.7,2275.6 S1345.0,2298.3 1338.4,2312.0 M1380.1,2221.0 L1380.1,2228.3 C1374.6,2248.3 1374.6,2261.9 1380.1,2275.6 S1383.4,2298.3 1376.8,2312.0 M1402.1,2221.0 L1402.1,2228.3 C1396.6,2248.3 1396.6,2261.9 1402.1,2275.6 S1405.4,2298.3 1398.8,2312.0 M1440.5,2221.0 L1440.5,2228.3 C1435.0,2248.3 1435.0,2261.9 1440.5,2275.6 S1443.8,2298.3 1437.2,2312.0 M1462.5,2221.0 L1462.5,2228.3 C1457.0,2248.3 1457.0,2261.9 1462.5,2275.6 S1465.8,2298.3 1459.2,2312.0 M1500.9,2221.0 L1500.9,2228.3 C1495.4,2248.3 1495.4,2261.9 1500.9,2275.6 S1504.2,2298.3 1497.6,2312.0 M1522.9,2221.0 L1522.9,2228.3 C1517.4,2248.3 1517.4,2261.9 1522.9,2275.6 S1526.2,2298.3 1519.6,2312.0 M1561.3,2221.0 L1561.3,2228.3 C1555.8,2248.3 1555.8,2261.9 1561.3,2275.6 S1564.6,2298.3 1558.0,2312.0 M1583.3,2221.0 L1583.3,2228.3 C1577.8,2248.3 1577.8,2261.9 1583.3,2275.6 S1586.6,2298.3 1580.0,2312.0 M1621.7,2221.0 L1621.7,2228.3 C1616.2,2248.3 1616.2,2261.9 1621.7,2275.6 S1625.0,2298.3 1618.4,2312.0 M1643.7,2221.0 L1643.7,2228.3 C1638.2,2248.3 1638.2,2261.9 1643.7,2275.6 S1647.0,2298.3 1640.4,2312.0 M1682.1,2221.0 L1682.1,2228.3 C1676.6,2248.3 1676.6,2261.9 1682.1,2275.6 S1685.4,2298.3 1678.8,2312.0 M1704.1,2221.0 L1704.1,2228.3 C1698.6,2248.3 1698.6,2261.9 1704.1,2275.6 S1707.4,2298.3 1700.8,2312.0 M1742.5,2221.0 L1742.5,2228.3 C1737.0,2248.3 1737.0,2261.9 1742.5,2275.6 S1745.8,2298.3 1739.2,2312.0 M1764.5,2221.0 L1764.5,2228.3 C1759.0,2248.3 1759.0,2261.9 1764.5,2275.6 S1767.8,2298.3 1761.2,2312.0 M1802.9,2221.0 L1802.9,2228.3 C1797.4,2248.3 1797.4,2261.9 1802.9,2275.6 S1806.2,2298.3 1799.6,2312.0 M1824.9,2221.0 L1824.9,2228.3 C1819.4,2248.3 1819.4,2261.9 1824.9,2275.6 S1828.2,2298.3 1821.6,2312.0 M1863.3,2221.0 L1863.3,2228.3 C1857.8,2248.3 1857.8,2261.9 1863.3,2275.6 S1866.6,2298.3 1860.0,2312.0 M1885.3,2221.0 L1885.3,2228.3 C1879.8,2248.3 1879.8,2261.9 1885.3,2275.6 S1888.6,2298.3 1882.0,2312.0 M1923.8,2221.0 L1923.8,2228.3 C1918.2,2248.3 1918.2,2261.9 1923.8,2275.6 S1927.0,2298.3 1920.5,2312.0 M1945.8,2221.0 L1945.8,2228.3 C1940.2,2248.3 1940.2,2261.9 1945.8,2275.6 S1949.0,2298.3 1942.5,2312.0 M1984.2,2221.0 L1984.2,2228.3 C1978.7,2248.3 1978.7,2261.9 1984.2,2275.6 S1987.5,2298.3 1980.9,2312.0 M2006.2,2221.0 L2006.2,2228.3 C2000.7,2248.3 2000.7,2261.9 2006.2,2275.6 S2009.5,2298.3 2002.9,2312.0 M2044.6,2221.0 L2044.6,2228.3 C2039.1,2248.3 2039.1,2261.9 2044.6,2275.6 S2047.9,2298.3 2041.3,2312.0 M2066.6,2221.0 L2066.6,2228.3 C2061.1,2248.3 2061.1,2261.9 2066.6,2275.6 S2069.9,2298.3 2063.3,2312.0 M2105.0,2221.0 L2105.0,2228.3 C2099.5,2248.3 2099.5,2261.9 2105.0,2275.6 S2108.3,2298.3 2101.7,2312.0 M2127.0,2221.0 L2127.0,2228.3 C2121.5,2248.3 2121.5,2261.9 2127.0,2275.6 S2130.3,2298.3 2123.7,2312.0 M2165.4,2221.0 L2165.4,2228.3 C2159.9,2248.3 2159.9,2261.9 2165.4,2275.6 S2168.7,2298.3 2162.1,2312.0 M2187.4,2221.0 L2187.4,2228.3 C2181.9,2248.3 2181.9,2261.9 2187.4,2275.6 S2190.7,2298.3 2184.1,2312.0 M2225.8,2221.0 L2225.8,2228.3 C2220.3,2248.3 2220.3,2261.9 2225.8,2275.6 S2229.1,2298.3 2222.5,2312.0 M2247.8,2221.0 L2247.8,2228.3 C2242.3,2248.3 2242.3,2261.9 2247.8,2275.6 S2251.1,2298.3 2244.5,2312.0 M2286.2,2221.0 L2286.2,2228.3 C2280.7,2248.3 2280.7,2261.9 2286.2,2275.6 S2289.5,2298.3 2282.9,2312.0 M2308.2,2221.0 L2308.2,2228.3 C2302.7,2248.3 2302.7,2261.9 2308.2,2275.6 S2311.5,2298.3 2304.9,2312.0 M2346.6,2221.0 L2346.6,2228.3 C2341.1,2248.3 2341.1,2261.9 2346.6,2275.6 S2349.9,2298.3 2343.3,2312.0 M2368.6,2221.0 L2368.6,2228.3 C2363.1,2248.3 2363.1,2261.9 2368.6,2275.6 S2371.9,2298.3 2365.3,2312.0 M2407.0,2221.0 L2407.0,2228.3 C2401.5,2248.3 2401.5,2261.9 2407.0,2275.6 S2410.3,2298.3 2403.7,2312.0 M2429.0,2221.0 L2429.0,2228.3 C2423.5,2248.3 2423.5,2261.9 2429.0,2275.6 S2432.3,2298.3 2425.7,2312.0 M2467.4,2221.0 L2467.4,2228.3 C2461.9,2248.3 2461.9,2261.9 2467.4,2275.6 S2470.7,2298.3 2464.1,2312.0 M2489.4,2221.0 L2489.4,2228.3 C2483.9,2248.3 2483.9,2261.9 2489.4,2275.6 S2492.7,2298.3 2486.1,2312.0 M2527.8,2221.0 L2527.8,2228.3 C2522.3,2248.3 2522.3,2261.9 2527.8,2275.6 S2531.2,2298.3 2524.5,2312.0 M2549.8,2221.0 L2549.8,2228.3 C2544.3,2248.3 2544.3,2261.9 2549.8,2275.6 S2553.2,2298.3 2546.5,2312.0 M2588.3,2221.0 L2588.3,2228.3 C2582.8,2248.3 2582.8,2261.9 2588.3,2275.6 S2591.6,2298.3 2585.0,2312.0 M2610.3,2221.0 L2610.3,2228.3 C2604.8,2248.3 2604.8,2261.9 2610.3,2275.6 S2613.6,2298.3 2607.0,2312.0 M2648.7,2221.0 L2648.7,2228.3 C2643.2,2248.3 2643.2,2261.9 2648.7,2275.6 S2652.0,2298.3 2645.4,2312.0 M2670.7,2221.0 L2670.7,2228.3 C2665.2,2248.3 2665.2,2261.9 2670.7,2275.6 S2674.0,2298.3 2667.4,2312.0 M2709.1,2221.0 L2709.1,2228.3 C2703.6,2248.3 2703.6,2261.9 2709.1,2275.6 S2712.4,2298.3 2705.8,2312.0 M2731.1,2221.0 L2731.1,2228.3 C2725.6,2248.3 2725.6,2261.9 2731.1,2275.6 S2734.4,2298.3 2727.8,2312.0 M2769.5,2221.0 L2769.5,2228.3 C2764.0,2248.3 2764.0,2261.9 2769.5,2275.6 S2772.8,2298.3 2766.2,2312.0 M2791.5,2221.0 L2791.5,2228.3 C2786.0,2248.3 2786.0,2261.9 2791.5,2275.6 S2794.8,2298.3 2788.2,2312.0 M2829.9,2221.0 L2829.9,2228.3 C2824.4,2248.3 2824.4,2261.9 2829.9,2275.6 S2833.2,2298.3 2826.6,2312.0 M2851.9,2221.0 L2851.9,2228.3 C2846.4,2248.3 2846.4,2261.9 2851.9,2275.6 S2855.2,2298.3 2848.6,2312.0 M2890.3,2221.0 L2890.3,2228.3 C2884.8,2248.3 2884.8,2261.9 2890.3,2275.6 S2893.6,2298.3 2887.0,2312.0 M2912.3,2221.0 L2912.3,2228.3 C2906.8,2248.3 2906.8,2261.9 2912.3,2275.6 S2915.6,2298.3 2909.0,2312.0 M2950.7,2221.0 L2950.7,2228.3 C2945.2,2248.3 2945.2,2261.9 2950.7,2275.6 S2954.0,2298.3 2947.4,2312.0 M2972.7,2221.0 L2972.7,2228.3 C2967.2,2248.3 2967.2,2261.9 2972.7,2275.6 S2976.0,2298.3 2969.4,2312.0 M3011.1,2221.0 L3011.1,2228.3 C3005.6,2248.3 3005.6,2261.9 3011.1,2275.6 S3014.4,2298.3 3007.8,2312.0 M3033.1,2221.0 L3033.1,2228.3 C3027.6,2248.3 3027.6,2261.9 3033.1,2275.6 S3036.4,2298.3 3029.8,2312.0 M3071.5,2221.0 L3071.5,2228.3 C3066.0,2248.3 3066.0,2261.9 3071.5,2275.6 S3074.8,2298.3 3068.2,2312.0 M3093.5,2221.0 L3093.5,2228.3 C3088.0,2248.3 3088.0,2261.9 3093.5,2275.6 S3096.8,2298.3 3090.2,2312.0 M3131.9,2221.0 L3131.9,2228.3 C3126.4,2248.3 3126.4,2261.9 3131.9,2275.6 S3135.2,2298.3 3128.6,2312.0 M3153.9,2221.0 L3153.9,2228.3 C3148.4,2248.3 3148.4,2261.9 3153.9,2275.6 S3157.2,2298.3 3150.6,2312.0 M417.0,2410.0 L417.0,2402.6 C422.5,2382.4 422.5,2368.6 417.0,2354.8 S413.7,2331.8 420.3,2318.0 M440.0,2410.0 L440.0,2402.6 C445.5,2382.4 445.5,2368.6 440.0,2354.8 S436.7,2331.8 443.3,2318.0 M477.4,2410.0 L477.4,2402.6 C482.9,2382.4 482.9,2368.6 477.4,2354.8 S474.1,2331.8 480.7,2318.0 M500.4,2410.0 L500.4,2402.6 C505.9,2382.4 505.9,2368.6 500.4,2354.8 S497.1,2331.8 503.7,2318.0 M537.9,2410.0 L537.9,2402.6 C543.4,2382.4 543.4,2368.6 537.9,2354.8 S534.6,2331.8 541.2,2318.0 M560.9,2410.0 L560.9,2402.6 C566.4,2382.4 566.4,2368.6 560.9,2354.8 S557.6,2331.8 564.2,2318.0 M598.3,2410.0 L598.3,2402.6 C603.8,2382.4 603.8,2368.6 598.3,2354.8 S595.0,2331.8 601.6,2318.0 M621.3,2410.0 L621.3,2402.6 C626.8,2382.4 626.8,2368.6 621.3,2354.8 S618.0,2331.8 624.6,2318.0 M658.8,2410.0 L658.8,2402.6 C664.3,2382.4 664.3,2368.6 658.8,2354.8 S655.5,2331.8 662.1,2318.0 M681.8,2410.0 L681.8,2402.6 C687.3,2382.4 687.3,2368.6 681.8,2354.8 S678.5,2331.8 685.1,2318.0 M719.2,2410.0 L719.2,2402.6 C724.7,2382.4 724.7,2368.6 719.2,2354.8 S715.9,2331.8 722.5,2318.0 M742.2,2410.0 L742.2,2402.6 C747.7,2382.4 747.7,2368.6 742.2,2354.8 S738.9,2331.8 745.5,2318.0 M779.6,2410.0 L779.6,2402.6 C785.1,2382.4 785.1,2368.6 779.6,2354.8 S776.3,2331.8 782.9,2318.0 M802.6,2410.0 L802.6,2402.6 C808.1,2382.4 808.1,2368.6 802.6,2354.8 S799.3,2331.8 805.9,2318.0 M840.1,2410.0 L840.1,2402.6 C845.6,2382.4 845.6,2368.6 840.1,2354.8 S836.8,2331.8 843.4,2318.0 M863.1,2410.0 L863.1,2402.6 C868.6,2382.4 868.6,2368.6 863.1,2354.8 S859.8,2331.8 866.4,2318.0 M900.5,2410.0 L900.5,2402.6 C906.0,2382.4 906.0,2368.6 900.5,2354.8 S897.2,2331.8 903.8,2318.0 M923.5,2410.0 L923.5,2402.6 C929.0,2382.4 929.0,2368.6 923.5,2354.8 S920.2,2331.8 926.8,2318.0 M961.0,2410.0 L961.0,2402.6 C966.5,2382.4 966.5,2368.6 961.0,2354.8 S957.7,2331.8 964.3,2318.0 M984.0,2410.0 L984.0,2402.6 C989.5,2382.4 989.5,2368.6 984.0,2354.8 S980.7,2331.8 987.3,2318.0 M1021.4,2410.0 L1021.4,2402.6 C1026.9,2382.4 1026.9,2368.6 1021.4,2354.8 S1018.1,2331.8 1024.7,2318.0 M1044.4,2410.0 L1044.4,2402.6 C1049.9,2382.4 1049.9,2368.6 1044.4,2354.8 S1041.1,2331.8 1047.7,2318.0 M1081.8,2410.0 L1081.8,2402.6 C1087.3,2382.4 1087.3,2368.6 1081.8,2354.8 S1078.5,2331.8 1085.1,2318.0 M1104.8,2410.0 L1104.8,2402.6 C1110.3,2382.4 1110.3,2368.6 1104.8,2354.8 S1101.5,2331.8 1108.1,2318.0 M1142.3,2410.0 L1142.3,2402.6 C1147.8,2382.4 1147.8,2368.6 1142.3,2354.8 S1139.0,2331.8 1145.6,2318.0 M1165.3,2410.0 L1165.3,2402.6 C1170.8,2382.4 1170.8,2368.6 1165.3,2354.8 S1162.0,2331.8 1168.6,2318.0 M1202.7,2410.0 L1202.7,2402.6 C1208.2,2382.4 1208.2,2368.6 1202.7,2354.8 S1199.4,2331.8 1206.0,2318.0 M1225.7,2410.0 L1225.7,2402.6 C1231.2,2382.4 1231.2,2368.6 1225.7,2354.8 S1222.4,2331.8 1229.0,2318.0 M1263.2,2410.0 L1263.2,2402.6 C1268.7,2382.4 1268.7,2368.6 1263.2,2354.8 S1259.9,2331.8 1266.5,2318.0 M1286.2,2410.0 L1286.2,2402.6 C1291.7,2382.4 1291.7,2368.6 1286.2,2354.8 S1282.9,2331.8 1289.5,2318.0 M1323.6,2410.0 L1323.6,2402.6 C1329.1,2382.4 1329.1,2368.6 1323.6,2354.8 S1320.3,2331.8 1326.9,2318.0 M1346.6,2410.0 L1346.6,2402.6 C1352.1,2382.4 1352.1,2368.6 1346.6,2354.8 S1343.3,2331.8 1349.9,2318.0 M1384.0,2410.0 L1384.0,2402.6 C1389.5,2382.4 1389.5,2368.6 1384.0,2354.8 S1380.7,2331.8 1387.3,2318.0 M1407.0,2410.0 L1407.0,2402.6 C1412.5,2382.4 1412.5,2368.6 1407.0,2354.8 S1403.7,2331.8 1410.3,2318.0 M1444.5,2410.0 L1444.5,2402.6 C1450.0,2382.4 1450.0,2368.6 1444.5,2354.8 S1441.2,2331.8 1447.8,2318.0 M1467.5,2410.0 L1467.5,2402.6 C1473.0,2382.4 1473.0,2368.6 1467.5,2354.8 S1464.2,2331.8 1470.8,2318.0 M1504.9,2410.0 L1504.9,2402.6 C1510.4,2382.4 1510.4,2368.6 1504.9,2354.8 S1501.6,2331.8 1508.2,2318.0 M1527.9,2410.0 L1527.9,2402.6 C1533.4,2382.4 1533.4,2368.6 1527.9,2354.8 S1524.6,2331.8 1531.2,2318.0 M1565.4,2410.0 L1565.4,2402.6 C1570.9,2382.4 1570.9,2368.6 1565.4,2354.8 S1562.1,2331.8 1568.7,2318.0 M1588.4,2410.0 L1588.4,2402.6 C1593.9,2382.4 1593.9,2368.6 1588.4,2354.8 S1585.1,2331.8 1591.7,2318.0 M1625.8,2410.0 L1625.8,2402.6 C1631.3,2382.4 1631.3,2368.6 1625.8,2354.8 S1622.5,2331.8 1629.1,2318.0 M1648.8,2410.0 L1648.8,2402.6 C1654.3,2382.4 1654.3,2368.6 1648.8,2354.8 S1645.5,2331.8 1652.1,2318.0 M1686.2,2410.0 L1686.2,2402.6 C1691.7,2382.4 1691.7,2368.6 1686.2,2354.8 S1682.9,2331.8 1689.5,2318.0 M1709.2,2410.0 L1709.2,2402.6 C1714.7,2382.4 1714.7,2368.6 1709.2,2354.8 S1705.9,2331.8 1712.5,2318.0 M1746.7,2410.0 L1746.7,2402.6 C1752.2,2382.4 1752.2,2368.6 1746.7,2354.8 S1743.4,2331.8 1750.0,2318.0 M1769.7,2410.0 L1769.7,2402.6 C1775.2,2382.4 1775.2,2368.6 1769.7,2354.8 S1766.4,2331.8 1773.0,2318.0 M1807.1,2410.0 L1807.1,2402.6 C1812.6,2382.4 1812.6,2368.6 1807.1,2354.8 S1803.8,2331.8 1810.4,2318.0 M1830.1,2410.0 L1830.1,2402.6 C1835.6,2382.4 1835.6,2368.6 1830.1,2354.8 S1826.8,2331.8 1833.4,2318.0 M1867.6,2410.0 L1867.6,2402.6 C1873.1,2382.4 1873.1,2368.6 1867.6,2354.8 S1864.3,2331.8 1870.9,2318.0 M1890.6,2410.0 L1890.6,2402.6 C1896.1,2382.4 1896.1,2368.6 1890.6,2354.8 S1887.3,2331.8 1893.9,2318.0 M1928.0,2410.0 L1928.0,2402.6 C1933.5,2382.4 1933.5,2368.6 1928.0,2354.8 S1924.7,2331.8 1931.3,2318.0 M1951.0,2410.0 L1951.0,2402.6 C1956.5,2382.4 1956.5,2368.6 1951.0,2354.8 S1947.7,2331.8 1954.3,2318.0 M1988.4,2410.0 L1988.4,2402.6 C1993.9,2382.4 1993.9,2368.6 1988.4,2354.8 S1985.1,2331.8 1991.7,2318.0 M2011.4,2410.0 L2011.4,2402.6 C2016.9,2382.4 2016.9,2368.6 2011.4,2354.8 S2008.1,2331.8 2014.7,2318.0 M2048.9,2410.0 L2048.9,2402.6 C2054.4,2382.4 2054.4,2368.6 2048.9,2354.8 S2045.6,2331.8 2052.2,2318.0 M2071.9,2410.0 L2071.9,2402.6 C2077.4,2382.4 2077.4,2368.6 2071.9,2354.8 S2068.6,2331.8 2075.2,2318.0 M2109.3,2410.0 L2109.3,2402.6 C2114.8,2382.4 2114.8,2368.6 2109.3,2354.8 S2106.0,2331.8 2112.6,2318.0 M2132.3,2410.0 L2132.3,2402.6 C2137.8,2382.4 2137.8,2368.6 2132.3,2354.8 S2129.0,2331.8 2135.6,2318.0 M2169.8,2410.0 L2169.8,2402.6 C2175.3,2382.4 2175.3,2368.6 2169.8,2354.8 S2166.5,2331.8 2173.1,2318.0 M2192.8,2410.0 L2192.8,2402.6 C2198.3,2382.4 2198.3,2368.6 2192.8,2354.8 S2189.5,2331.8 2196.1,2318.0 M2230.2,2410.0 L2230.2,2402.6 C2235.7,2382.4 2235.7,2368.6 2230.2,2354.8 S2226.9,2331.8 2233.5,2318.0 M2253.2,2410.0 L2253.2,2402.6 C2258.7,2382.4 2258.7,2368.6 2253.2,2354.8 S2249.9,2331.8 2256.5,2318.0 M2290.6,2410.0 L2290.6,2402.6 C2296.1,2382.4 2296.1,2368.6 2290.6,2354.8 S2287.3,2331.8 2293.9,2318.0 M2313.6,2410.0 L2313.6,2402.6 C2319.1,2382.4 2319.1,2368.6 2313.6,2354.8 S2310.3,2331.8 2316.9,2318.0 M2351.1,2410.0 L2351.1,2402.6 C2356.6,2382.4 2356.6,2368.6 2351.1,2354.8 S2347.8,2331.8 2354.4,2318.0 M2374.1,2410.0 L2374.1,2402.6 C2379.6,2382.4 2379.6,2368.6 2374.1,2354.8 S2370.8,2331.8 2377.4,2318.0 M2411.5,2410.0 L2411.5,2402.6 C2417.0,2382.4 2417.0,2368.6 2411.5,2354.8 S2408.2,2331.8 2414.8,2318.0 M2434.5,2410.0 L2434.5,2402.6 C2440.0,2382.4 2440.0,2368.6 2434.5,2354.8 S2431.2,2331.8 2437.8,2318.0 M2472.0,2410.0 L2472.0,2402.6 C2477.5,2382.4 2477.5,2368.6 2472.0,2354.8 S2468.7,2331.8 2475.3,2318.0 M2495.0,2410.0 L2495.0,2402.6 C2500.5,2382.4 2500.5,2368.6 2495.0,2354.8 S2491.7,2331.8 2498.3,2318.0 M2532.4,2410.0 L2532.4,2402.6 C2537.9,2382.4 2537.9,2368.6 2532.4,2354.8 S2529.1,2331.8 2535.7,2318.0 M2555.4,2410.0 L2555.4,2402.6 C2560.9,2382.4 2560.9,2368.6 2555.4,2354.8 S2552.1,2331.8 2558.7,2318.0 M2592.8,2410.0 L2592.8,2402.6 C2598.3,2382.4 2598.3,2368.6 2592.8,2354.8 S2589.5,2331.8 2596.1,2318.0 M2615.8,2410.0 L2615.8,2402.6 C2621.3,2382.4 2621.3,2368.6 2615.8,2354.8 S2612.5,2331.8 2619.1,2318.0 M2653.3,2410.0 L2653.3,2402.6 C2658.8,2382.4 2658.8,2368.6 2653.3,2354.8 S2650.0,2331.8 2656.6,2318.0 M2676.3,2410.0 L2676.3,2402.6 C2681.8,2382.4 2681.8,2368.6 2676.3,2354.8 S2673.0,2331.8 2679.6,2318.0 M2713.7,2410.0 L2713.7,2402.6 C2719.2,2382.4 2719.2,2368.6 2713.7,2354.8 S2710.4,2331.8 2717.0,2318.0 M2736.7,2410.0 L2736.7,2402.6 C2742.2,2382.4 2742.2,2368.6 2736.7,2354.8 S2733.4,2331.8 2740.0,2318.0 M2774.2,2410.0 L2774.2,2402.6 C2779.7,2382.4 2779.7,2368.6 2774.2,2354.8 S2770.9,2331.8 2777.5,2318.0 M2797.2,2410.0 L2797.2,2402.6 C2802.7,2382.4 2802.7,2368.6 2797.2,2354.8 S2793.9,2331.8 2800.5,2318.0 M2834.6,2410.0 L2834.6,2402.6 C2840.1,2382.4 2840.1,2368.6 2834.6,2354.8 S2831.3,2331.8 2837.9,2318.0 M2857.6,2410.0 L2857.6,2402.6 C2863.1,2382.4 2863.1,2368.6 2857.6,2354.8 S2854.3,2331.8 2860.9,2318.0 M2895.0,2410.0 L2895.0,2402.6 C2900.5,2382.4 2900.5,2368.6 2895.0,2354.8 S2891.7,2331.8 2898.3,2318.0 M2918.0,2410.0 L2918.0,2402.6 C2923.5,2382.4 2923.5,2368.6 2918.0,2354.8 S2914.7,2331.8 2921.3,2318.0 M2955.5,2410.0 L2955.5,2402.6 C2961.0,2382.4 2961.0,2368.6 2955.5,2354.8 S2952.2,2331.8 2958.8,2318.0 M2978.5,2410.0 L2978.5,2402.6 C2984.0,2382.4 2984.0,2368.6 2978.5,2354.8 S2975.2,2331.8 2981.8,2318.0 M3015.9,2410.0 L3015.9,2402.6 C3021.4,2382.4 3021.4,2368.6 3015.9,2354.8 S3012.6,2331.8 3019.2,2318.0 M3038.9,2410.0 L3038.9,2402.6 C3044.4,2382.4 3044.4,2368.6 3038.9,2354.8 S3035.6,2331.8 3042.2,2318.0 M3076.4,2410.0 L3076.4,2402.6 C3081.9,2382.4 3081.9,2368.6 3076.4,2354.8 S3073.1,2331.8 3079.7,2318.0 M3099.4,2410.0 L3099.4,2402.6 C3104.9,2382.4 3104.9,2368.6 3099.4,2354.8 S3096.1,2331.8 3102.7,2318.0 M3136.8,2410.0 L3136.8,2402.6 C3142.3,2382.4 3142.3,2368.6 3136.8,2354.8 S3133.5,2331.8 3140.1,2318.0 M3159.8,2410.0 L3159.8,2402.6 C3165.3,2382.4 3165.3,2368.6 3159.8,2354.8 S3156.5,2331.8 3163.1,2318.0" stroke="#6e376b" stroke-width="6.4" fill="none" stroke-linecap="round"/>
<path d="M421.0,1597 L421.0,1489.6 M421.0,1540.2 L449.5,1528.0 L475.0,1515.2 M546.0,1597 L546.0,1438.4 M546.0,1463.4 L574.5,1451.2 L600.0,1438.4 M546.0,1513.2 L513.5,1493.2 L490.0,1478.2 M665.0,1597 L665.0,1489.6 M665.0,1540.2 L693.5,1528.0 L719.0,1515.2 M783.6,1597 L783.6,1489.6 M783.6,1540.2 L812.1,1528.0 L837.6,1515.2 M909.2,1597 L909.2,1438.4 M909.2,1463.4 L937.7,1451.2 L963.2,1438.4 M909.2,1513.2 L876.7,1493.2 L853.2,1478.2 M1022.7,1597 L1022.7,1489.6 M1151.0,1597 L1151.0,1515.2 M1268.0,1597 L1268.0,1387.2 M1268.0,1412.2 L1296.5,1400.0 L1322.0,1387.2 M1388.4,1597 L1388.4,1489.6 M1388.4,1540.2 L1416.9,1528.0 L1442.4,1515.2 M1512.5,1597 L1512.5,1438.4 M1512.5,1463.4 L1541.0,1451.2 L1566.5,1438.4 M1512.5,1513.2 L1480.0,1493.2 L1456.5,1478.2 M1628.7,1597 L1628.7,1387.2 M1628.7,1412.2 L1657.2,1400.0 L1682.7,1387.2 M1753.6,1597 L1753.6,1515.2 M1869.0,1597 L1869.0,1515.2 M1993.9,1597 L1993.9,1489.6 M1993.9,1540.2 L2022.4,1528.0 L2047.9,1515.2 M2118.7,1597 L2118.7,1387.2 M2118.7,1412.2 L2147.2,1400.0 L2172.7,1387.2 M2238.0,1597 L2238.0,1438.4 M2238.0,1463.4 L2266.5,1451.2 L2292.0,1438.4 M2238.0,1513.2 L2205.5,1493.2 L2182.0,1478.2 M2361.7,1597 L2361.7,1489.6 M2361.7,1540.2 L2390.2,1528.0 L2415.7,1515.2 M2477.0,1597 L2477.0,1387.2 M2477.0,1412.2 L2505.5,1400.0 L2531.0,1387.2 M2593.3,1597 L2593.3,1515.2 M2720.0,1597 L2720.0,1489.6 M2720.0,1540.2 L2748.5,1528.0 L2774.0,1515.2 M2845.7,1597 L2845.7,1438.4 M2845.7,1463.4 L2874.2,1451.2 L2899.7,1438.4 M2845.7,1513.2 L2813.2,1493.2 L2789.7,1478.2 M2964.9,1597 L2964.9,1387.2 M2964.9,1412.2 L2993.4,1400.0 L3018.9,1387.2 M3081.5,1597 L3081.5,1515.2" stroke="#f7a41d" stroke-width="4" fill="none"/>
<path d="M409.1,1585.7 L421.0,1579.4 L432.9,1585.7 L432.9,1602.0 L409.1,1602.0Z M421.0,1553.8 L432.9,1560.1 L432.9,1572.7 L421.0,1579.0 L409.1,1572.7 L409.1,1560.1Z M421.0,1528.2 L432.9,1534.5 L432.9,1547.1 L421.0,1553.4 L409.1,1547.1 L409.1,1534.5Z M421.0,1502.6 L432.9,1508.9 L432.9,1521.5 L421.0,1527.8 L409.1,1521.5 L409.1,1508.9Z M421.0,1477.0 L432.9,1483.3 L432.9,1495.9 L421.0,1502.2 L409.1,1495.9 L409.1,1483.3Z M449.5,1515.4 L461.4,1521.7 L461.4,1534.3 L449.5,1540.6 L437.6,1534.3 L437.6,1521.7Z M475.0,1502.6 L486.9,1508.9 L486.9,1521.5 L475.0,1527.8 L463.1,1521.5 L463.1,1508.9Z M534.1,1585.7 L546.0,1579.4 L557.9,1585.7 L557.9,1602.0 L534.1,1602.0Z M546.0,1553.8 L557.9,1560.1 L557.9,1572.7 L546.0,1579.0 L534.1,1572.7 L534.1,1560.1Z M546.0,1528.2 L557.9,1534.5 L557.9,1547.1 L546.0,1553.4 L534.1,1547.1 L534.1,1534.5Z M546.0,1502.6 L557.9,1508.9 L557.9,1521.5 L546.0,1527.8 L534.1,1521.5 L534.1,1508.9Z M546.0,1477.0 L557.9,1483.3 L557.9,1495.9 L546.0,1502.2 L534.1,1495.9 L534.1,1483.3Z M546.0,1451.4 L557.9,1457.7 L557.9,1470.3 L546.0,1476.6 L534.1,1470.3 L534.1,1457.7Z M546.0,1425.8 L557.9,1432.1 L557.9,1444.7 L546.0,1451.0 L534.1,1444.7 L534.1,1432.1Z M574.5,1438.6 L586.4,1444.9 L586.4,1457.5 L574.5,1463.8 L562.6,1457.5 L562.6,1444.9Z M600.0,1425.8 L611.9,1432.1 L611.9,1444.7 L600.0,1451.0 L588.1,1444.7 L588.1,1432.1Z M513.5,1480.6 L525.4,1486.9 L525.4,1499.5 L513.5,1505.8 L501.6,1499.5 L501.6,1486.9Z M490.0,1465.6 L501.9,1471.9 L501.9,1484.5 L490.0,1490.8 L478.1,1484.5 L478.1,1471.9Z M653.1,1585.7 L665.0,1579.4 L676.9,1585.7 L676.9,1602.0 L653.1,1602.0Z M665.0,1553.8 L676.9,1560.1 L676.9,1572.7 L665.0,1579.0 L653.1,1572.7 L653.1,1560.1Z M665.0,1528.2 L676.9,1534.5 L676.9,1547.1 L665.0,1553.4 L653.1,1547.1 L653.1,1534.5Z M665.0,1502.6 L676.9,1508.9 L676.9,1521.5 L665.0,1527.8 L653.1,1521.5 L653.1,1508.9Z M665.0,1477.0 L676.9,1483.3 L676.9,1495.9 L665.0,1502.2 L653.1,1495.9 L653.1,1483.3Z M693.5,1515.4 L705.4,1521.7 L705.4,1534.3 L693.5,1540.6 L681.6,1534.3 L681.6,1521.7Z M719.0,1502.6 L730.9,1508.9 L730.9,1521.5 L719.0,1527.8 L707.1,1521.5 L707.1,1508.9Z M771.7,1585.7 L783.6,1579.4 L795.5,1585.7 L795.5,1602.0 L771.7,1602.0Z M783.6,1553.8 L795.5,1560.1 L795.5,1572.7 L783.6,1579.0 L771.7,1572.7 L771.7,1560.1Z M783.6,1528.2 L795.5,1534.5 L795.5,1547.1 L783.6,1553.4 L771.7,1547.1 L771.7,1534.5Z M783.6,1502.6 L795.5,1508.9 L795.5,1521.5 L783.6,1527.8 L771.7,1521.5 L771.7,1508.9Z M783.6,1477.0 L795.5,1483.3 L795.5,1495.9 L783.6,1502.2 L771.7,1495.9 L771.7,1483.3Z M812.1,1515.4 L824.0,1521.7 L824.0,1534.3 L812.1,1540.6 L800.2,1534.3 L800.2,1521.7Z M837.6,1502.6 L849.5,1508.9 L849.5,1521.5 L837.6,1527.8 L825.7,1521.5 L825.7,1508.9Z M897.3,1585.7 L909.2,1579.4 L921.1,1585.7 L921.1,1602.0 L897.3,1602.0Z M909.2,1553.8 L921.1,1560.1 L921.1,1572.7 L909.2,1579.0 L897.3,1572.7 L897.3,1560.1Z M909.2,1528.2 L921.1,1534.5 L921.1,1547.1 L909.2,1553.4 L897.3,1547.1 L897.3,1534.5Z M909.2,1502.6 L921.1,1508.9 L921.1,1521.5 L909.2,1527.8 L897.3,1521.5 L897.3,1508.9Z M909.2,1477.0 L921.1,1483.3 L921.1,1495.9 L909.2,1502.2 L897.3,1495.9 L897.3,1483.3Z M909.2,1451.4 L921.1,1457.7 L921.1,1470.3 L909.2,1476.6 L897.3,1470.3 L897.3,1457.7Z M909.2,1425.8 L921.1,1432.1 L921.1,1444.7 L909.2,1451.0 L897.3,1444.7 L897.3,1432.1Z M937.7,1438.6 L949.6,1444.9 L949.6,1457.5 L937.7,1463.8 L925.8,1457.5 L925.8,1444.9Z M963.2,1425.8 L975.1,1432.1 L975.1,1444.7 L963.2,1451.0 L951.3,1444.7 L951.3,1432.1Z M876.7,1480.6 L888.6,1486.9 L888.6,1499.5 L876.7,1505.8 L864.8,1499.5 L864.8,1486.9Z M853.2,1465.6 L865.1,1471.9 L865.1,1484.5 L853.2,1490.8 L841.3,1484.5 L841.3,1471.9Z M1010.8,1585.7 L1022.7,1579.4 L1034.6,1585.7 L1034.6,1602.0 L1010.8,1602.0Z M1022.7,1553.8 L1034.6,1560.1 L1034.6,1572.7 L1022.7,1579.0 L1010.8,1572.7 L1010.8,1560.1Z M1022.7,1528.2 L1034.6,1534.5 L1034.6,1547.1 L1022.7,1553.4 L1010.8,1547.1 L1010.8,1534.5Z M1022.7,1502.6 L1034.6,1508.9 L1034.6,1521.5 L1022.7,1527.8 L1010.8,1521.5 L1010.8,1508.9Z M1022.7,1477.0 L1034.6,1483.3 L1034.6,1495.9 L1022.7,1502.2 L1010.8,1495.9 L1010.8,1483.3Z M1139.1,1585.7 L1151.0,1579.4 L1162.9,1585.7 L1162.9,1602.0 L1139.1,1602.0Z M1151.0,1553.8 L1162.9,1560.1 L1162.9,1572.7 L1151.0,1579.0 L1139.1,1572.7 L1139.1,1560.1Z M1151.0,1528.2 L1162.9,1534.5 L1162.9,1547.1 L1151.0,1553.4 L1139.1,1547.1 L1139.1,1534.5Z M1151.0,1502.6 L1162.9,1508.9 L1162.9,1521.5 L1151.0,1527.8 L1139.1,1521.5 L1139.1,1508.9Z M1256.1,1585.7 L1268.0,1579.4 L1279.9,1585.7 L1279.9,1602.0 L1256.1,1602.0Z M1268.0,1553.8 L1279.9,1560.1 L1279.9,1572.7 L1268.0,1579.0 L1256.1,1572.7 L1256.1,1560.1Z M1268.0,1528.2 L1279.9,1534.5 L1279.9,1547.1 L1268.0,1553.4 L1256.1,1547.1 L1256.1,1534.5Z M1268.0,1502.6 L1279.9,1508.9 L1279.9,1521.5 L1268.0,1527.8 L1256.1,1521.5 L1256.1,1508.9Z M1268.0,1477.0 L1279.9,1483.3 L1279.9,1495.9 L1268.0,1502.2 L1256.1,1495.9 L1256.1,1483.3Z M1268.0,1451.4 L1279.9,1457.7 L1279.9,1470.3 L1268.0,1476.6 L1256.1,1470.3 L1256.1,1457.7Z M1268.0,1425.8 L1279.9,1432.1 L1279.9,1444.7 L1268.0,1451.0 L1256.1,1444.7 L1256.1,1432.1Z M1268.0,1400.2 L1279.9,1406.5 L1279.9,1419.1 L1268.0,1425.4 L1256.1,1419.1 L1256.1,1406.5Z M1268.0,1374.6 L1279.9,1380.9 L1279.9,1393.5 L1268.0,1399.8 L1256.1,1393.5 L1256.1,1380.9Z M1296.5,1387.4 L1308.4,1393.7 L1308.4,1406.3 L1296.5,1412.6 L1284.6,1406.3 L1284.6,1393.7Z M1322.0,1374.6 L1333.9,1380.9 L1333.9,1393.5 L1322.0,1399.8 L1310.1,1393.5 L1310.1,1380.9Z M1376.5,1585.7 L1388.4,1579.4 L1400.3,1585.7 L1400.3,1602.0 L1376.5,1602.0Z M1388.4,1553.8 L1400.3,1560.1 L1400.3,1572.7 L1388.4,1579.0 L1376.5,1572.7 L1376.5,1560.1Z M1388.4,1528.2 L1400.3,1534.5 L1400.3,1547.1 L1388.4,1553.4 L1376.5,1547.1 L1376.5,1534.5Z M1388.4,1502.6 L1400.3,1508.9 L1400.3,1521.5 L1388.4,1527.8 L1376.5,1521.5 L1376.5,1508.9Z M1388.4,1477.0 L1400.3,1483.3 L1400.3,1495.9 L1388.4,1502.2 L1376.5,1495.9 L1376.5,1483.3Z M1416.9,1515.4 L1428.8,1521.7 L1428.8,1534.3 L1416.9,1540.6 L1405.0,1534.3 L1405.0,1521.7Z M1442.4,1502.6 L1454.3,1508.9 L1454.3,1521.5 L1442.4,1527.8 L1430.5,1521.5 L1430.5,1508.9Z M1500.6,1585.7 L1512.5,1579.4 L1524.4,1585.7 L1524.4,1602.0 L1500.6,1602.0Z M1512.5,1553.8 L1524.4,1560.1 L1524.4,1572.7 L1512.5,1579.0 L1500.6,1572.7 L1500.6,1560.1Z M1512.5,1528.2 L1524.4,1534.5 L1524.4,1547.1 L1512.5,1553.4 L1500.6,1547.1 L1500.6,1534.5Z M1512.5,1502.6 L1524.4,1508.9 L1524.4,1521.5 L1512.5,1527.8 L1500.6,1521.5 L1500.6,1508.9Z M1512.5,1477.0 L1524.4,1483.3 L1524.4,1495.9 L1512.5,1502.2 L1500.6,1495.9 L1500.6,1483.3Z M1512.5,1451.4 L1524.4,1457.7 L1524.4,1470.3 L1512.5,1476.6 L1500.6,1470.3 L1500.6,1457.7Z M1512.5,1425.8 L1524.4,1432.1 L1524.4,1444.7 L1512.5,1451.0 L1500.6,1444.7 L1500.6,1432.1Z M1541.0,1438.6 L1552.9,1444.9 L1552.9,1457.5 L1541.0,1463.8 L1529.1,1457.5 L1529.1,1444.9Z M1566.5,1425.8 L1578.4,1432.1 L1578.4,1444.7 L1566.5,1451.0 L1554.6,1444.7 L1554.6,1432.1Z M1480.0,1480.6 L1491.9,1486.9 L1491.9,1499.5 L1480.0,1505.8 L1468.1,1499.5 L1468.1,1486.9Z M1456.5,1465.6 L1468.4,1471.9 L1468.4,1484.5 L1456.5,1490.8 L1444.6,1484.5 L1444.6,1471.9Z M1616.8,1585.7 L1628.7,1579.4 L1640.6,1585.7 L1640.6,1602.0 L1616.8,1602.0Z M1628.7,1553.8 L1640.6,1560.1 L1640.6,1572.7 L1628.7,1579.0 L1616.8,1572.7 L1616.8,1560.1Z M1628.7,1528.2 L1640.6,1534.5 L1640.6,1547.1 L1628.7,1553.4 L1616.8,1547.1 L1616.8,1534.5Z M1628.7,1502.6 L1640.6,1508.9 L1640.6,1521.5 L1628.7,1527.8 L1616.8,1521.5 L1616.8,1508.9Z M1628.7,1477.0 L1640.6,1483.3 L1640.6,1495.9 L1628.7,1502.2 L1616.8,1495.9 L1616.8,1483.3Z M1628.7,1451.4 L1640.6,1457.7 L1640.6,1470.3 L1628.7,1476.6 L1616.8,1470.3 L1616.8,1457.7Z M1628.7,1425.8 L1640.6,1432.1 L1640.6,1444.7 L1628.7,1451.0 L1616.8,1444.7 L1616.8,1432.1Z M1628.7,1400.2 L1640.6,1406.5 L1640.6,1419.1 L1628.7,1425.4 L1616.8,1419.1 L1616.8,1406.5Z M1628.7,1374.6 L1640.6,1380.9 L1640.6,1393.5 L1628.7,1399.8 L1616.8,1393.5 L1616.8,1380.9Z M1657.2,1387.4 L1669.1,1393.7 L1669.1,1406.3 L1657.2,1412.6 L1645.3,1406.3 L1645.3,1393.7Z M1682.7,1374.6 L1694.6,1380.9 L1694.6,1393.5 L1682.7,1399.8 L1670.8,1393.5 L1670.8,1380.9Z M1741.7,1585.7 L1753.6,1579.4 L1765.5,1585.7 L1765.5,1602.0 L1741.7,1602.0Z M1753.6,1553.8 L1765.5,1560.1 L1765.5,1572.7 L1753.6,1579.0 L1741.7,1572.7 L1741.7,1560.1Z M1753.6,1528.2 L1765.5,1534.5 L1765.5,1547.1 L1753.6,1553.4 L1741.7,1547.1 L1741.7,1534.5Z M1753.6,1502.6 L1765.5,1508.9 L1765.5,1521.5 L1753.6,1527.8 L1741.7,1521.5 L1741.7,1508.9Z M1857.1,1585.7 L1869.0,1579.4 L1880.9,1585.7 L1880.9,1602.0 L1857.1,1602.0Z M1869.0,1553.8 L1880.9,1560.1 L1880.9,1572.7 L1869.0,1579.0 L1857.1,1572.7 L1857.1,1560.1Z M1869.0,1528.2 L1880.9,1534.5 L1880.9,1547.1 L1869.0,1553.4 L1857.1,1547.1 L1857.1,1534.5Z M1869.0,1502.6 L1880.9,1508.9 L1880.9,1521.5 L1869.0,1527.8 L1857.1,1521.5 L1857.1,1508.9Z M1982.0,1585.7 L1993.9,1579.4 L2005.8,1585.7 L2005.8,1602.0 L1982.0,1602.0Z M1993.9,1553.8 L2005.8,1560.1 L2005.8,1572.7 L1993.9,1579.0 L1982.0,1572.7 L1982.0,1560.1Z M1993.9,1528.2 L2005.8,1534.5 L2005.8,1547.1 L1993.9,1553.4 L1982.0,1547.1 L1982.0,1534.5Z M1993.9,1502.6 L2005.8,1508.9 L2005.8,1521.5 L1993.9,1527.8 L1982.0,1521.5 L1982.0,1508.9Z M1993.9,1477.0 L2005.8,1483.3 L2005.8,1495.9 L1993.9,1502.2 L1982.0,1495.9 L1982.0,1483.3Z M2022.4,1515.4 L2034.3,1521.7 L2034.3,1534.3 L2022.4,1540.6 L2010.5,1534.3 L2010.5,1521.7Z M2047.9,1502.6 L2059.8,1508.9 L2059.8,1521.5 L2047.9,1527.8 L2036.0,1521.5 L2036.0,1508.9Z M2106.8,1585.7 L2118.7,1579.4 L2130.6,1585.7 L2130.6,1602.0 L2106.8,1602.0Z M2118.7,1553.8 L2130.6,1560.1 L2130.6,1572.7 L2118.7,1579.0 L2106.8,1572.7 L2106.8,1560.1Z M2118.7,1528.2 L2130.6,1534.5 L2130.6,1547.1 L2118.7,1553.4 L2106.8,1547.1 L2106.8,1534.5Z M2118.7,1502.6 L2130.6,1508.9 L2130.6,1521.5 L2118.7,1527.8 L2106.8,1521.5 L2106.8,1508.9Z M2118.7,1477.0 L2130.6,1483.3 L2130.6,1495.9 L2118.7,1502.2 L2106.8,1495.9 L2106.8,1483.3Z M2118.7,1451.4 L2130.6,1457.7 L2130.6,1470.3 L2118.7,1476.6 L2106.8,1470.3 L2106.8,1457.7Z M2118.7,1425.8 L2130.6,1432.1 L2130.6,1444.7 L2118.7,1451.0 L2106.8,1444.7 L2106.8,1432.1Z M2118.7,1400.2 L2130.6,1406.5 L2130.6,1419.1 L2118.7,1425.4 L2106.8,1419.1 L2106.8,1406.5Z M2118.7,1374.6 L2130.6,1380.9 L2130.6,1393.5 L2118.7,1399.8 L2106.8,1393.5 L2106.8,1380.9Z M2147.2,1387.4 L2159.1,1393.7 L2159.1,1406.3 L2147.2,1412.6 L2135.3,1406.3 L2135.3,1393.7Z M2172.7,1374.6 L2184.6,1380.9 L2184.6,1393.5 L2172.7,1399.8 L2160.8,1393.5 L2160.8,1380.9Z M2226.1,1585.7 L2238.0,1579.4 L2249.9,1585.7 L2249.9,1602.0 L2226.1,1602.0Z M2238.0,1553.8 L2249.9,1560.1 L2249.9,1572.7 L2238.0,1579.0 L2226.1,1572.7 L2226.1,1560.1Z M2238.0,1528.2 L2249.9,1534.5 L2249.9,1547.1 L2238.0,1553.4 L2226.1,1547.1 L2226.1,1534.5Z M2238.0,1502.6 L2249.9,1508.9 L2249.9,1521.5 L2238.0,1527.8 L2226.1,1521.5 L2226.1,1508.9Z M2238.0,1477.0 L2249.9,1483.3 L2249.9,1495.9 L2238.0,1502.2 L2226.1,1495.9 L2226.1,1483.3Z M2238.0,1451.4 L2249.9,1457.7 L2249.9,1470.3 L2238.0,1476.6 L2226.1,1470.3 L2226.1,1457.7Z M2238.0,1425.8 L2249.9,1432.1 L2249.9,1444.7 L2238.0,1451.0 L2226.1,1444.7 L2226.1,1432.1Z M2266.5,1438.6 L2278.4,1444.9 L2278.4,1457.5 L2266.5,1463.8 L2254.6,1457.5 L2254.6,1444.9Z M2292.0,1425.8 L2303.9,1432.1 L2303.9,1444.7 L2292.0,1451.0 L2280.1,1444.7 L2280.1,1432.1Z M2205.5,1480.6 L2217.4,1486.9 L2217.4,1499.5 L2205.5,1505.8 L2193.6,1499.5 L2193.6,1486.9Z M2182.0,1465.6 L2193.9,1471.9 L2193.9,1484.5 L2182.0,1490.8 L2170.1,1484.5 L2170.1,1471.9Z M2349.8,1585.7 L2361.7,1579.4 L2373.6,1585.7 L2373.6,1602.0 L2349.8,1602.0Z M2361.7,1553.8 L2373.6,1560.1 L2373.6,1572.7 L2361.7,1579.0 L2349.8,1572.7 L2349.8,1560.1Z M2361.7,1528.2 L2373.6,1534.5 L2373.6,1547.1 L2361.7,1553.4 L2349.8,1547.1 L2349.8,1534.5Z M2361.7,1502.6 L2373.6,1508.9 L2373.6,1521.5 L2361.7,1527.8 L2349.8,1521.5 L2349.8,1508.9Z M2361.7,1477.0 L2373.6,1483.3 L2373.6,1495.9 L2361.7,1502.2 L2349.8,1495.9 L2349.8,1483.3Z M2390.2,1515.4 L2402.1,1521.7 L2402.1,1534.3 L2390.2,1540.6 L2378.3,1534.3 L2378.3,1521.7Z M2415.7,1502.6 L2427.6,1508.9 L2427.6,1521.5 L2415.7,1527.8 L2403.8,1521.5 L2403.8,1508.9Z M2465.1,1585.7 L2477.0,1579.4 L2488.9,1585.7 L2488.9,1602.0 L2465.1,1602.0Z M2477.0,1553.8 L2488.9,1560.1 L2488.9,1572.7 L2477.0,1579.0 L2465.1,1572.7 L2465.1,1560.1Z M2477.0,1528.2 L2488.9,1534.5 L2488.9,1547.1 L2477.0,1553.4 L2465.1,1547.1 L2465.1,1534.5Z M2477.0,1502.6 L2488.9,1508.9 L2488.9,1521.5 L2477.0,1527.8 L2465.1,1521.5 L2465.1,1508.9Z M2477.0,1477.0 L2488.9,1483.3 L2488.9,1495.9 L2477.0,1502.2 L2465.1,1495.9 L2465.1,1483.3Z M2477.0,1451.4 L2488.9,1457.7 L2488.9,1470.3 L2477.0,1476.6 L2465.1,1470.3 L2465.1,1457.7Z M2477.0,1425.8 L2488.9,1432.1 L2488.9,1444.7 L2477.0,1451.0 L2465.1,1444.7 L2465.1,1432.1Z M2477.0,1400.2 L2488.9,1406.5 L2488.9,1419.1 L2477.0,1425.4 L2465.1,1419.1 L2465.1,1406.5Z M2477.0,1374.6 L2488.9,1380.9 L2488.9,1393.5 L2477.0,1399.8 L2465.1,1393.5 L2465.1,1380.9Z M2505.5,1387.4 L2517.4,1393.7 L2517.4,1406.3 L2505.5,1412.6 L2493.6,1406.3 L2493.6,1393.7Z M2531.0,1374.6 L2542.9,1380.9 L2542.9,1393.5 L2531.0,1399.8 L2519.1,1393.5 L2519.1,1380.9Z M2581.4,1585.7 L2593.3,1579.4 L2605.2,1585.7 L2605.2,1602.0 L2581.4,1602.0Z M2593.3,1553.8 L2605.2,1560.1 L2605.2,1572.7 L2593.3,1579.0 L2581.4,1572.7 L2581.4,1560.1Z M2593.3,1528.2 L2605.2,1534.5 L2605.2,1547.1 L2593.3,1553.4 L2581.4,1547.1 L2581.4,1534.5Z M2593.3,1502.6 L2605.2,1508.9 L2605.2,1521.5 L2593.3,1527.8 L2581.4,1521.5 L2581.4,1508.9Z M2708.1,1585.7 L2720.0,1579.4 L2731.9,1585.7 L2731.9,1602.0 L2708.1,1602.0Z M2720.0,1553.8 L2731.9,1560.1 L2731.9,1572.7 L2720.0,1579.0 L2708.1,1572.7 L2708.1,1560.1Z M2720.0,1528.2 L2731.9,1534.5 L2731.9,1547.1 L2720.0,1553.4 L2708.1,1547.1 L2708.1,1534.5Z M2720.0,1502.6 L2731.9,1508.9 L2731.9,1521.5 L2720.0,1527.8 L2708.1,1521.5 L2708.1,1508.9Z M2720.0,1477.0 L2731.9,1483.3 L2731.9,1495.9 L2720.0,1502.2 L2708.1,1495.9 L2708.1,1483.3Z M2748.5,1515.4 L2760.4,1521.7 L2760.4,1534.3 L2748.5,1540.6 L2736.6,1534.3 L2736.6,1521.7Z M2774.0,1502.6 L2785.9,1508.9 L2785.9,1521.5 L2774.0,1527.8 L2762.1,1521.5 L2762.1,1508.9Z M2833.8,1585.7 L2845.7,1579.4 L2857.6,1585.7 L2857.6,1602.0 L2833.8,1602.0Z M2845.7,1553.8 L2857.6,1560.1 L2857.6,1572.7 L2845.7,1579.0 L2833.8,1572.7 L2833.8,1560.1Z M2845.7,1528.2 L2857.6,1534.5 L2857.6,1547.1 L2845.7,1553.4 L2833.8,1547.1 L2833.8,1534.5Z M2845.7,1502.6 L2857.6,1508.9 L2857.6,1521.5 L2845.7,1527.8 L2833.8,1521.5 L2833.8,1508.9Z M2845.7,1477.0 L2857.6,1483.3 L2857.6,1495.9 L2845.7,1502.2 L2833.8,1495.9 L2833.8,1483.3Z M2845.7,1451.4 L2857.6,1457.7 L2857.6,1470.3 L2845.7,1476.6 L2833.8,1470.3 L2833.8,1457.7Z M2845.7,1425.8 L2857.6,1432.1 L2857.6,1444.7 L2845.7,1451.0 L2833.8,1444.7 L2833.8,1432.1Z M2874.2,1438.6 L2886.1,1444.9 L2886.1,1457.5 L2874.2,1463.8 L2862.3,1457.5 L2862.3,1444.9Z M2899.7,1425.8 L2911.6,1432.1 L2911.6,1444.7 L2899.7,1451.0 L2887.8,1444.7 L2887.8,1432.1Z M2813.2,1480.6 L2825.1,1486.9 L2825.1,1499.5 L2813.2,1505.8 L2801.3,1499.5 L2801.3,1486.9Z M2789.7,1465.6 L2801.6,1471.9 L2801.6,1484.5 L2789.7,1490.8 L2777.8,1484.5 L2777.8,1471.9Z M2953.0,1585.7 L2964.9,1579.4 L2976.8,1585.7 L2976.8,1602.0 L2953.0,1602.0Z M2964.9,1553.8 L2976.8,1560.1 L2976.8,1572.7 L2964.9,1579.0 L2953.0,1572.7 L2953.0,1560.1Z M2964.9,1528.2 L2976.8,1534.5 L2976.8,1547.1 L2964.9,1553.4 L2953.0,1547.1 L2953.0,1534.5Z M2964.9,1502.6 L2976.8,1508.9 L2976.8,1521.5 L2964.9,1527.8 L2953.0,1521.5 L2953.0,1508.9Z M2964.9,1477.0 L2976.8,1483.3 L2976.8,1495.9 L2964.9,1502.2 L2953.0,1495.9 L2953.0,1483.3Z M2964.9,1451.4 L2976.8,1457.7 L2976.8,1470.3 L2964.9,1476.6 L2953.0,1470.3 L2953.0,1457.7Z M2964.9,1425.8 L2976.8,1432.1 L2976.8,1444.7 L2964.9,1451.0 L2953.0,1444.7 L2953.0,1432.1Z M2964.9,1400.2 L2976.8,1406.5 L2976.8,1419.1 L2964.9,1425.4 L2953.0,1419.1 L2953.0,1406.5Z M2964.9,1374.6 L2976.8,1380.9 L2976.8,1393.5 L2964.9,1399.8 L2953.0,1393.5 L2953.0,1380.9Z M2993.4,1387.4 L3005.3,1393.7 L3005.3,1406.3 L2993.4,1412.6 L2981.5,1406.3 L2981.5,1393.7Z M3018.9,1374.6 L3030.8,1380.9 L3030.8,1393.5 L3018.9,1399.8 L3007.0,1393.5 L3007.0,1380.9Z M3069.6,1585.7 L3081.5,1579.4 L3093.4,1585.7 L3093.4,1602.0 L3069.6,1602.0Z M3081.5,1553.8 L3093.4,1560.1 L3093.4,1572.7 L3081.5,1579.0 L3069.6,1572.7 L3069.6,1560.1Z M3081.5,1528.2 L3093.4,1534.5 L3093.4,1547.1 L3081.5,1553.4 L3069.6,1547.1 L3069.6,1534.5Z M3081.5,1502.6 L3093.4,1508.9 L3093.4,1521.5 L3081.5,1527.8 L3069.6,1521.5 L3069.6,1508.9Z" fill="#f7a41d" stroke="#f7a41d" stroke-width="2.6" stroke-linejoin="round"/>
<g fill="#6e376b"><ellipse cx="426.0" cy="1624" rx="29.4" ry="25.2"/><ellipse cx="486.6" cy="1624" rx="29.4" ry="25.2"/><ellipse cx="547.1" cy="1624" rx="29.4" ry="25.2"/><ellipse cx="607.6" cy="1624" rx="29.4" ry="25.2"/><ellipse cx="668.2" cy="1624" rx="29.4" ry="25.2"/><ellipse cx="728.8" cy="1624" rx="29.4" ry="25.2"/><ellipse cx="789.3" cy="1624" rx="29.4" ry="25.2"/><ellipse cx="849.8" cy="1624" rx="29.4" ry="25.2"/><ellipse cx="910.4" cy="1624" rx="29.4" ry="25.2"/><ellipse cx="970.9" cy="1624" rx="29.4" ry="25.2"/><ellipse cx="1031.5" cy="1624" rx="29.4" ry="25.2"/><ellipse cx="1092.0" cy="1624" rx="29.4" ry="25.2"/><ellipse cx="1152.6" cy="1624" rx="29.4" ry="25.2"/><ellipse cx="1213.2" cy="1624" rx="29.4" ry="25.2"/><ellipse cx="1273.7" cy="1624" rx="29.4" ry="25.2"/><ellipse cx="1334.2" cy="1624" rx="29.4" ry="25.2"/><ellipse cx="1394.8" cy="1624" rx="29.4" ry="25.2"/><ellipse cx="1455.3" cy="1624" rx="29.4" ry="25.2"/><ellipse cx="1515.9" cy="1624" rx="29.4" ry="25.2"/><ellipse cx="1576.5" cy="1624" rx="29.4" ry="25.2"/><ellipse cx="1637.0" cy="1624" rx="29.4" ry="25.2"/><ellipse cx="1697.5" cy="1624" rx="29.4" ry="25.2"/><ellipse cx="1758.1" cy="1624" rx="29.4" ry="25.2"/><ellipse cx="1818.6" cy="1624" rx="29.4" ry="25.2"/><ellipse cx="1879.2" cy="1624" rx="29.4" ry="25.2"/><ellipse cx="1939.8" cy="1624" rx="29.4" ry="25.2"/><ellipse cx="2000.3" cy="1624" rx="29.4" ry="25.2"/><ellipse cx="2060.8" cy="1624" rx="29.4" ry="25.2"/><ellipse cx="2121.4" cy="1624" rx="29.4" ry="25.2"/><ellipse cx="2181.9" cy="1624" rx="29.4" ry="25.2"/><ellipse cx="2242.5" cy="1624" rx="29.4" ry="25.2"/><ellipse cx="2303.1" cy="1624" rx="29.4" ry="25.2"/><ellipse cx="2363.6" cy="1624" rx="29.4" ry="25.2"/><ellipse cx="2424.1" cy="1624" rx="29.4" ry="25.2"/><ellipse cx="2484.7" cy="1624" rx="29.4" ry="25.2"/><ellipse cx="2545.2" cy="1624" rx="29.4" ry="25.2"/><ellipse cx="2605.8" cy="1624" rx="29.4" ry="25.2"/><ellipse cx="2666.3" cy="1624" rx="29.4" ry="25.2"/><ellipse cx="2726.9" cy="1624" rx="29.4" ry="25.2"/><ellipse cx="2787.4" cy="1624" rx="29.4" ry="25.2"/><ellipse cx="2848.0" cy="1624" rx="29.4" ry="25.2"/><ellipse cx="2908.5" cy="1624" rx="29.4" ry="25.2"/><ellipse cx="2969.1" cy="1624" rx="29.4" ry="25.2"/><ellipse cx="3029.7" cy="1624" rx="29.4" ry="25.2"/><ellipse cx="3090.2" cy="1624" rx="29.4" ry="25.2"/><ellipse cx="3150.8" cy="1624" rx="29.4" ry="25.2"/><ellipse cx="425.8" cy="1850" rx="29.4" ry="25.2"/><ellipse cx="486.2" cy="1850" rx="29.4" ry="25.2"/><ellipse cx="546.6" cy="1850" rx="29.4" ry="25.2"/><ellipse cx="606.9" cy="1850" rx="29.4" ry="25.2"/><ellipse cx="667.3" cy="1850" rx="29.4" ry="25.2"/><ellipse cx="727.7" cy="1850" rx="29.4" ry="25.2"/><ellipse cx="788.1" cy="1850" rx="29.4" ry="25.2"/><ellipse cx="848.5" cy="1850" rx="29.4" ry="25.2"/><ellipse cx="908.8" cy="1850" rx="29.4" ry="25.2"/><ellipse cx="969.2" cy="1850" rx="29.4" ry="25.2"/><ellipse cx="1029.6" cy="1850" rx="29.4" ry="25.2"/><ellipse cx="1090.0" cy="1850" rx="29.4" ry="25.2"/><ellipse cx="1150.4" cy="1850" rx="29.4" ry="25.2"/><ellipse cx="1210.7" cy="1850" rx="29.4" ry="25.2"/><ellipse cx="1271.1" cy="1850" rx="29.4" ry="25.2"/><ellipse cx="1331.5" cy="1850" rx="29.4" ry="25.2"/><ellipse cx="1391.9" cy="1850" rx="29.4" ry="25.2"/><ellipse cx="1452.3" cy="1850" rx="29.4" ry="25.2"/><ellipse cx="1512.6" cy="1850" rx="29.4" ry="25.2"/><ellipse cx="1573.0" cy="1850" rx="29.4" ry="25.2"/><ellipse cx="1633.4" cy="1850" rx="29.4" ry="25.2"/><ellipse cx="1693.8" cy="1850" rx="29.4" ry="25.2"/><ellipse cx="1754.2" cy="1850" rx="29.4" ry="25.2"/><ellipse cx="1814.5" cy="1850" rx="29.4" ry="25.2"/><ellipse cx="1874.9" cy="1850" rx="29.4" ry="25.2"/><ellipse cx="1935.3" cy="1850" rx="29.4" ry="25.2"/><ellipse cx="1995.7" cy="1850" rx="29.4" ry="25.2"/><ellipse cx="2056.1" cy="1850" rx="29.4" ry="25.2"/><ellipse cx="2116.4" cy="1850" rx="29.4" ry="25.2"/><ellipse cx="2176.8" cy="1850" rx="29.4" ry="25.2"/><ellipse cx="2237.2" cy="1850" rx="29.4" ry="25.2"/><ellipse cx="2297.6" cy="1850" rx="29.4" ry="25.2"/><ellipse cx="2358.0" cy="1850" rx="29.4" ry="25.2"/><ellipse cx="2418.3" cy="1850" rx="29.4" ry="25.2"/><ellipse cx="2478.7" cy="1850" rx="29.4" ry="25.2"/><ellipse cx="2539.1" cy="1850" rx="29.4" ry="25.2"/><ellipse cx="2599.5" cy="1850" rx="29.4" ry="25.2"/><ellipse cx="2659.9" cy="1850" rx="29.4" ry="25.2"/><ellipse cx="2720.2" cy="1850" rx="29.4" ry="25.2"/><ellipse cx="2780.6" cy="1850" rx="29.4" ry="25.2"/><ellipse cx="2841.0" cy="1850" rx="29.4" ry="25.2"/><ellipse cx="2901.4" cy="1850" rx="29.4" ry="25.2"/><ellipse cx="2961.8" cy="1850" rx="29.4" ry="25.2"/><ellipse cx="3022.1" cy="1850" rx="29.4" ry="25.2"/><ellipse cx="3082.5" cy="1850" rx="29.4" ry="25.2"/><ellipse cx="3142.9" cy="1850" rx="29.4" ry="25.2"/><ellipse cx="427.5" cy="2201" rx="29.4" ry="25.2"/><ellipse cx="487.9" cy="2201" rx="29.4" ry="25.2"/><ellipse cx="548.3" cy="2201" rx="29.4" ry="25.2"/><ellipse cx="608.7" cy="2201" rx="29.4" ry="25.2"/><ellipse cx="669.1" cy="2201" rx="29.4" ry="25.2"/><ellipse cx="729.5" cy="2201" rx="29.4" ry="25.2"/><ellipse cx="790.0" cy="2201" rx="29.4" ry="25.2"/><ellipse cx="850.4" cy="2201" rx="29.4" ry="25.2"/><ellipse cx="910.8" cy="2201" rx="29.4" ry="25.2"/><ellipse cx="971.2" cy="2201" rx="29.4" ry="25.2"/><ellipse cx="1031.6" cy="2201" rx="29.4" ry="25.2"/><ellipse cx="1092.0" cy="2201" rx="29.4" ry="25.2"/><ellipse cx="1152.4" cy="2201" rx="29.4" ry="25.2"/><ellipse cx="1212.8" cy="2201" rx="29.4" ry="25.2"/><ellipse cx="1273.2" cy="2201" rx="29.4" ry="25.2"/><ellipse cx="1333.7" cy="2201" rx="29.4" ry="25.2"/><ellipse cx="1394.1" cy="2201" rx="29.4" ry="25.2"/><ellipse cx="1454.5" cy="2201" rx="29.4" ry="25.2"/><ellipse cx="1514.9" cy="2201" rx="29.4" ry="25.2"/><ellipse cx="1575.3" cy="2201" rx="29.4" ry="25.2"/><ellipse cx="1635.7" cy="2201" rx="29.4" ry="25.2"/><ellipse cx="1696.1" cy="2201" rx="29.4" ry="25.2"/><ellipse cx="1756.5" cy="2201" rx="29.4" ry="25.2"/><ellipse cx="1816.9" cy="2201" rx="29.4" ry="25.2"/><ellipse cx="1877.3" cy="2201" rx="29.4" ry="25.2"/><ellipse cx="1937.8" cy="2201" rx="29.4" ry="25.2"/><ellipse cx="1998.2" cy="2201" rx="29.4" ry="25.2"/><ellipse cx="2058.6" cy="2201" rx="29.4" ry="25.2"/><ellipse cx="2119.0" cy="2201" rx="29.4" ry="25.2"/><ellipse cx="2179.4" cy="2201" rx="29.4" ry="25.2"/><ellipse cx="2239.8" cy="2201" rx="29.4" ry="25.2"/><ellipse cx="2300.2" cy="2201" rx="29.4" ry="25.2"/><ellipse cx="2360.6" cy="2201" rx="29.4" ry="25.2"/><ellipse cx="2421.0" cy="2201" rx="29.4" ry="25.2"/><ellipse cx="2481.4" cy="2201" rx="29.4" ry="25.2"/><ellipse cx="2541.8" cy="2201" rx="29.4" ry="25.2"/><ellipse cx="2602.3" cy="2201" rx="29.4" ry="25.2"/><ellipse cx="2662.7" cy="2201" rx="29.4" ry="25.2"/><ellipse cx="2723.1" cy="2201" rx="29.4" ry="25.2"/><ellipse cx="2783.5" cy="2201" rx="29.4" ry="25.2"/><ellipse cx="2843.9" cy="2201" rx="29.4" ry="25.2"/><ellipse cx="2904.3" cy="2201" rx="29.4" ry="25.2"/><ellipse cx="2964.7" cy="2201" rx="29.4" ry="25.2"/><ellipse cx="3025.1" cy="2201" rx="29.4" ry="25.2"/><ellipse cx="3085.5" cy="2201" rx="29.4" ry="25.2"/><ellipse cx="3145.9" cy="2201" rx="29.4" ry="25.2"/><ellipse cx="427.0" cy="2430" rx="29.4" ry="25.2"/><ellipse cx="487.4" cy="2430" rx="29.4" ry="25.2"/><ellipse cx="547.9" cy="2430" rx="29.4" ry="25.2"/><ellipse cx="608.3" cy="2430" rx="29.4" ry="25.2"/><ellipse cx="668.8" cy="2430" rx="29.4" ry="25.2"/><ellipse cx="729.2" cy="2430" rx="29.4" ry="25.2"/><ellipse cx="789.6" cy="2430" rx="29.4" ry="25.2"/><ellipse cx="850.1" cy="2430" rx="29.4" ry="25.2"/><ellipse cx="910.5" cy="2430" rx="29.4" ry="25.2"/><ellipse cx="971.0" cy="2430" rx="29.4" ry="25.2"/><ellipse cx="1031.4" cy="2430" rx="29.4" ry="25.2"/><ellipse cx="1091.8" cy="2430" rx="29.4" ry="25.2"/><ellipse cx="1152.3" cy="2430" rx="29.4" ry="25.2"/><ellipse cx="1212.7" cy="2430" rx="29.4" ry="25.2"/><ellipse cx="1273.2" cy="2430" rx="29.4" ry="25.2"/><ellipse cx="1333.6" cy="2430" rx="29.4" ry="25.2"/><ellipse cx="1394.0" cy="2430" rx="29.4" ry="25.2"/><ellipse cx="1454.5" cy="2430" rx="29.4" ry="25.2"/><ellipse cx="1514.9" cy="2430" rx="29.4" ry="25.2"/><ellipse cx="1575.4" cy="2430" rx="29.4" ry="25.2"/><ellipse cx="1635.8" cy="2430" rx="29.4" ry="25.2"/><ellipse cx="1696.2" cy="2430" rx="29.4" ry="25.2"/><ellipse cx="1756.7" cy="2430" rx="29.4" ry="25.2"/><ellipse cx="1817.1" cy="2430" rx="29.4" ry="25.2"/><ellipse cx="1877.6" cy="2430" rx="29.4" ry="25.2"/><ellipse cx="1938.0" cy="2430" rx="29.4" ry="25.2"/><ellipse cx="1998.4" cy="2430" rx="29.4" ry="25.2"/><ellipse cx="2058.9" cy="2430" rx="29.4" ry="25.2"/><ellipse cx="2119.3" cy="2430" rx="29.4" ry="25.2"/><ellipse cx="2179.8" cy="2430" rx="29.4" ry="25.2"/><ellipse cx="2240.2" cy="2430" rx="29.4" ry="25.2"/><ellipse cx="2300.6" cy="2430" rx="29.4" ry="25.2"/><ellipse cx="2361.1" cy="2430" rx="29.4" ry="25.2"/><ellipse cx="2421.5" cy="2430" rx="29.4" ry="25.2"/><ellipse cx="2482.0" cy="2430" rx="29.4" ry="25.2"/><ellipse cx="2542.4" cy="2430" rx="29.4" ry="25.2"/><ellipse cx="2602.8" cy="2430" rx="29.4" ry="25.2"/><ellipse cx="2663.3" cy="2430" rx="29.4" ry="25.2"/><ellipse cx="2723.7" cy="2430" rx="29.4" ry="25.2"/><ellipse cx="2784.2" cy="2430" rx="29.4" ry="25.2"/><ellipse cx="2844.6" cy="2430" rx="29.4" ry="25.2"/><ellipse cx="2905.0" cy="2430" rx="29.4" ry="25.2"/><ellipse cx="2965.5" cy="2430" rx="29.4" ry="25.2"/><ellipse cx="3025.9" cy="2430" rx="29.4" ry="25.2"/><ellipse cx="3086.4" cy="2430" rx="29.4" ry="25.2"/><ellipse cx="3146.8" cy="2430" rx="29.4" ry="25.2"/></g>
<text x="85" y="1744" font-family="Liberation Serif" font-weight="bold" font-size="56" fill="#000" textLength="130" lengthAdjust="spacingAndGlyphs">Outer</text>
<text x="85" y="1803" font-family="Liberation Serif" font-weight="bold" font-size="56" fill="#000" textLength="226" lengthAdjust="spacingAndGlyphs">membrane</text>
<text x="85" y="2045" font-family="Liberation Serif" font-weight="bold" font-size="56" fill="#000" textLength="309" lengthAdjust="spacingAndGlyphs">Peptidoglycan</text>
<text x="85" y="2338" font-family="Liberation Serif" font-weight="bold" font-size="56" fill="#000" textLength="119" lengthAdjust="spacingAndGlyphs">Inner</text>
<text x="85" y="2397" font-family="Liberation Serif" font-weight="bold" font-size="56" fill="#000" textLength="226" lengthAdjust="spacingAndGlyphs">membrane</text>
<defs>
<radialGradient id="gC" cx="0.42" cy="0.38" r="0.62">
 <stop offset="0" stop-color="#eea21c"/><stop offset="0.72" stop-color="#e29312"/><stop offset="0.86" stop-color="#cf7d0c"/><stop offset="1" stop-color="#b5680a"/>
</radialGradient>
<radialGradient id="gBaeS" cx="0.45" cy="0.4" r="0.62">
 <stop offset="0" stop-color="#1ba5dc"/><stop offset="0.75" stop-color="#149ad6"/><stop offset="0.88" stop-color="#0e83c4"/><stop offset="1" stop-color="#0a6fb0"/>
</radialGradient>
<radialGradient id="gBaeR" cx="0.45" cy="0.4" r="0.62">
 <stop offset="0" stop-color="#b03838"/><stop offset="0.75" stop-color="#a83232"/><stop offset="0.88" stop-color="#962626"/><stop offset="1" stop-color="#7e1a1a"/>
</radialGradient>
<linearGradient id="gArrV" x1="0" y1="1" x2="0" y2="0">
 <stop offset="0" stop-color="#222" stop-opacity="0"/><stop offset="0.35" stop-color="#222" stop-opacity="0.9"/><stop offset="1" stop-color="#222"/>
</linearGradient>
<linearGradient id="gDash1" gradientUnits="userSpaceOnUse" x1="2436" y1="0" x2="2640" y2="0">
 <stop offset="0" stop-color="#e6e6e6"/><stop offset="0.45" stop-color="#444"/><stop offset="1" stop-color="#1e1e1e"/>
</linearGradient>
<linearGradient id="gDash2" gradientUnits="userSpaceOnUse" x1="2470" y1="0" x2="2960" y2="0">
 <stop offset="0" stop-color="#eeeeee"/><stop offset="0.3" stop-color="#9a9a9a"/><stop offset="1" stop-color="#1e1e1e"/>
</linearGradient>
<linearGradient id="gArc" gradientUnits="objectBoundingBox" x1="0" y1="0" x2="1" y2="0">
 <stop offset="0" stop-color="#666" stop-opacity="0.35"/><stop offset="0.45" stop-color="#333"/><stop offset="1" stop-color="#222"/>
</linearGradient>
</defs>
<g transform="translate(0,0)"><path d="M1194,1599 Q1251.6,1626 1309,1599 L1298,1790 L1268,1822 L1266,1872 L1237,1872 L1235,1822 L1205,1790 Z" fill="#9a2548" stroke="#5a1428" stroke-width="1.8"/><path d="M1129,1600 A35,26 0 0 1 1199,1600 L1208,1784 C1228,1800 1239,1820 1239,1846 C1239,1876 1222,1894 1199,1894 C1175,1894 1156,1876 1156,1848 L1156,1804 Q1156,1795 1148,1790 Z" fill="#a8405c" stroke="#5a1428" stroke-width="2" stroke-linejoin="round"/><path d="M1374.1999999999998,1600 A35,26 0 0 0 1304.1999999999998,1600 L1295.1999999999998,1784 C1275.1999999999998,1800 1264.1999999999998,1820 1264.1999999999998,1846 C1264.1999999999998,1876 1281.1999999999998,1894 1304.1999999999998,1894 C1328.1999999999998,1894 1347.1999999999998,1876 1347.1999999999998,1848 L1347.1999999999998,1804 Q1347.1999999999998,1795 1355.1999999999998,1790 Z" fill="#a8405c" stroke="#5a1428" stroke-width="2" stroke-linejoin="round"/></g>
<text x="1246.0" y="1829.0" font-family="Liberation Sans" font-weight="bold" font-size="34" fill="#fff" text-anchor="middle" textLength="71" lengthAdjust="spacingAndGlyphs" >PiuA</text>
<circle cx="1227.6" cy="1636.4" r="28.5" fill="url(#gC)" stroke="#8a4c08" stroke-width="2.2"/>
<circle cx="1216.8" cy="1624.4" r="3.7" fill="#f7c46a" opacity="0.7"/>
<text x="1228.2" y="1647.2" font-family="Liberation Sans" font-size="31.4" fill="#2a2a2a" text-anchor="middle" textLength="18.8" lengthAdjust="spacingAndGlyphs">C</text>
<circle cx="1275.0" cy="1647.0" r="17.3" fill="#e2f5f8" stroke="#6fb3c2" stroke-width="2"/>
<text x="1275.0" y="1652.2" font-family="Liberation Sans" font-size="14.7" fill="#444" text-anchor="middle" textLength="16.4" lengthAdjust="spacingAndGlyphs">Fe</text>
<circle cx="1236.2" cy="1730.6" r="28.5" fill="url(#gC)" stroke="#8a4c08" stroke-width="2.2"/>
<circle cx="1225.4" cy="1718.6" r="3.7" fill="#f7c46a" opacity="0.7"/>
<text x="1236.8" y="1741.4" font-family="Liberation Sans" font-size="31.4" fill="#2a2a2a" text-anchor="middle" textLength="18.8" lengthAdjust="spacingAndGlyphs">C</text>
<circle cx="1276.3" cy="1748.6" r="17.3" fill="#e2f5f8" stroke="#6fb3c2" stroke-width="2"/>
<text x="1276.3" y="1753.8" font-family="Liberation Sans" font-size="14.7" fill="#444" text-anchor="middle" textLength="16.4" lengthAdjust="spacingAndGlyphs">Fe</text>
<g transform="translate(389,4)"><path d="M1194,1599 Q1251.6,1626 1309,1599 L1298,1790 L1268,1822 L1266,1872 L1237,1872 L1235,1822 L1205,1790 Z" fill="#8a81cc" stroke="#3f3a90" stroke-width="1.8"/><path d="M1129,1600 A35,26 0 0 1 1199,1600 L1208,1784 C1228,1800 1239,1820 1239,1846 C1239,1876 1222,1894 1199,1894 C1175,1894 1156,1876 1156,1848 L1156,1804 Q1156,1795 1148,1790 Z" fill="#aea8e1" stroke="#3f3a90" stroke-width="2" stroke-linejoin="round"/><path d="M1374.1999999999998,1600 A35,26 0 0 0 1304.1999999999998,1600 L1295.1999999999998,1784 C1275.1999999999998,1800 1264.1999999999998,1820 1264.1999999999998,1846 C1264.1999999999998,1876 1281.1999999999998,1894 1304.1999999999998,1894 C1328.1999999999998,1894 1347.1999999999998,1876 1347.1999999999998,1848 L1347.1999999999998,1804 Q1347.1999999999998,1795 1355.1999999999998,1790 Z" fill="#aea8e1" stroke="#3f3a90" stroke-width="2" stroke-linejoin="round"/></g>
<text x="1638.5" y="1814.5" font-family="Liberation Sans" font-weight="bold" font-size="33" fill="#fff" text-anchor="middle" textLength="64" lengthAdjust="spacingAndGlyphs" >PirA</text>
<circle cx="1608.0" cy="1628.0" r="29.0" fill="url(#gC)" stroke="#8a4c08" stroke-width="2.2"/>
<circle cx="1597.0" cy="1615.8" r="3.8" fill="#f7c46a" opacity="0.7"/>
<text x="1608.6" y="1639.0" font-family="Liberation Sans" font-size="31.9" fill="#2a2a2a" text-anchor="middle" textLength="19.1" lengthAdjust="spacingAndGlyphs">C</text>
<circle cx="1666.0" cy="1650.0" r="17.0" fill="#e2f5f8" stroke="#6fb3c2" stroke-width="2"/>
<text x="1666.0" y="1655.1" font-family="Liberation Sans" font-size="14.4" fill="#444" text-anchor="middle" textLength="16.1" lengthAdjust="spacingAndGlyphs">Fe</text>
<path d="M2118,1586 Q2160,1602 2202,1586 L2202,1899 Q2160,1889 2118,1899 Z" fill="#c47611" stroke="#95560a" stroke-width="1.8"/>
<rect x="2058" y="1569" width="66.4" height="345" rx="31" fill="#d08a1b" stroke="#95560a" stroke-width="2"/>
<rect x="2196.3" y="1569" width="66.3" height="345" rx="31" fill="#d08a1b" stroke="#95560a" stroke-width="2"/>
<circle cx="2164.8" cy="1734.4" r="29.0" fill="url(#gC)" stroke="#8a4c08" stroke-width="2.2"/>
<circle cx="2153.8" cy="1722.2" r="3.8" fill="#f7c46a" opacity="0.7"/>
<text x="2165.4" y="1745.4" font-family="Liberation Sans" font-size="31.9" fill="#2a2a2a" text-anchor="middle" textLength="19.1" lengthAdjust="spacingAndGlyphs">C</text>
<text x="2173.0" y="1835.0" font-family="Liberation Sans" font-weight="bold" font-size="33" fill="#fff" text-anchor="middle" textLength="126" lengthAdjust="spacingAndGlyphs" >Porin (s)</text>
<rect x="2612" y="2100" width="68" height="350" fill="#a57ccc" stroke="#4b2d8a" stroke-width="2"/>
<path d="M2554.4,2108.4 L2561.6,2104.6 Q2574.0,2098.0 2587.0,2102.5 L2587.0,2102.5 Q2600.0,2107.0 2605.8,2119.8 L2607.8,2124.2 Q2613.6,2137.0 2613.6,2151.0 L2613.6,2430.0 Q2613.6,2444.0 2601.3,2450.7 L2600.3,2451.3 Q2588.0,2458.0 2575.6,2451.6 L2573.4,2450.4 Q2561.0,2444.0 2561.0,2430.0 L2561.0,2345.0 Q2561.0,2331.0 2547.3,2328.2 L2520.7,2322.8 Q2507.0,2320.0 2498.5,2308.8 L2490.5,2298.2 Q2482.0,2287.0 2486.6,2273.8 L2537.4,2128.2 Q2542.0,2115.0 2554.4,2108.4Z" fill="#c8a7e1" stroke="#4b2d8a" stroke-width="2.2"/>
<path d="M2737.4,2108.4 L2730.2,2104.6 Q2717.8,2098.0 2704.8,2102.5 L2704.8,2102.5 Q2691.8,2107.0 2686.0,2119.8 L2684.0,2124.2 Q2678.2,2137.0 2678.2,2151.0 L2678.2,2430.0 Q2678.2,2444.0 2690.5,2450.7 L2691.5,2451.3 Q2703.8,2458.0 2716.2,2451.6 L2718.4,2450.4 Q2730.8,2444.0 2730.8,2430.0 L2730.8,2345.0 Q2730.8,2331.0 2744.5,2328.2 L2771.1,2322.8 Q2784.8,2320.0 2793.3,2308.8 L2801.3,2298.2 Q2809.8,2287.0 2805.2,2273.8 L2754.4,2128.2 Q2749.8,2115.0 2737.4,2108.4Z" fill="#c8a7e1" stroke="#4b2d8a" stroke-width="2.2"/>
<path d="M2553,1890 L2738,1890 L2778,2112 L2519,2112 Z" fill="#52a4a9" stroke="#2c7c80" stroke-width="2"/>
<path d="M2520.8,1888.4 L2542.2,1891.6 Q2558.0,1894.0 2555.5,1909.8 L2526.5,2093.2 Q2524.0,2109.0 2508.5,2105.0 L2485.5,2099.0 Q2470.0,2095.0 2472.6,2079.2 L2502.4,1901.8 Q2505.0,1886.0 2520.8,1888.4Z" fill="#73c9c9" stroke="#2c7c80" stroke-width="2"/>
<path d="M2749.9,1885.8 L2769.1,1883.2 Q2785.0,1881.0 2787.6,1896.8 L2818.4,2082.2 Q2821.0,2098.0 2805.6,2102.5 L2788.4,2107.5 Q2773.0,2112.0 2770.3,2096.2 L2736.7,1903.8 Q2734.0,1888.0 2749.9,1885.8Z" fill="#73c9c9" stroke="#2c7c80" stroke-width="2"/>
<text x="2644.0" y="1949.0" font-family="Liberation Sans" font-weight="bold" font-size="37" fill="#fff" text-anchor="middle" textLength="73" lengthAdjust="spacingAndGlyphs" >ABC</text>
<path d="M2606,1587 Q2646,1600 2686,1587 L2686,1892 L2606,1892 Z" fill="#9ec66c" stroke="#6a983b" stroke-width="1.8"/>
<rect x="2550.3" y="1576.7" width="61.7" height="322.5" rx="25" fill="#c9e48b" stroke="#6a983b" stroke-width="2"/>
<rect x="2679" y="1576.7" width="61.7" height="322.5" rx="25" fill="#c9e48b" stroke="#6a983b" stroke-width="2"/>
<rect x="2646.2" y="1638" width="6.6" height="200" fill="url(#gArrV)"/>
<polygon points="2632,1644 2667,1644 2649.5,1610" fill="#222"/>
<path d="M2976,2158 Q3011,2168 3046,2158 L3046,2452 Q3011,2444 2976,2452 Z" fill="#52a4a9" stroke="#2c7c80" stroke-width="1.8"/>
<rect x="2928" y="2140.7" width="53" height="324.5" rx="26" fill="#73c9c9" stroke="#2c7c80" stroke-width="2"/>
<rect x="3041" y="2140.7" width="51" height="324.5" rx="25" fill="#73c9c9" stroke="#2c7c80" stroke-width="2"/>
<circle cx="3013.0" cy="2191.5" r="30.0" fill="url(#gC)" stroke="#8a4c08" stroke-width="2.2"/>
<circle cx="3001.6" cy="2178.9" r="3.9" fill="#f7c46a" opacity="0.7"/>
<text x="3013.6" y="2202.9" font-family="Liberation Sans" font-size="33.0" fill="#2a2a2a" text-anchor="middle" textLength="19.8" lengthAdjust="spacingAndGlyphs">C</text>
<rect x="3006.8" y="2298" width="6.4" height="65" fill="url(#gArrV)"/>
<polygon points="2993.3,2302 3026.5,2302 3009.9,2266" fill="#222"/>
<text x="3008.0" y="2428.0" font-family="Liberation Sans" font-weight="bold" font-size="32" fill="#fff" text-anchor="middle" textLength="67" lengthAdjust="spacingAndGlyphs" >MFS</text>
<path d="M1681,2144 L1707,2144 Q1709,2144 1710,2147 A30,30 0 0 0 1769,2147 Q1770,2144 1772,2144 L1790,2144 Q1805.3,2144 1805.3,2159 L1805.3,2219 Q1805.3,2234 1790,2234 L1681,2234 Q1666,2234 1666,2219 L1666,2159 Q1666,2144 1681,2144 Z" fill="#404040"/>
<rect x="1716.6" y="2230" width="39.3" height="234.5" fill="#404040"/>
<text x="1742.5" y="2215.0" font-family="Liberation Sans" font-weight="bold" font-size="37" fill="#fff" text-anchor="middle" textLength="82" lengthAdjust="spacingAndGlyphs" >PBP3</text>
<circle cx="2327" cy="2395.7" r="57.5" fill="url(#gBaeS)" stroke="#0d5c9c" stroke-width="2.5"/>
<circle cx="2312" cy="2373" r="10" fill="#6cc3e8" opacity="0.7"/>
<text x="2328" y="2410" font-family="Liberation Sans" font-size="36" fill="#fff" text-anchor="middle" textLength="85" lengthAdjust="spacingAndGlyphs">BaeS</text>
<circle cx="2388.5" cy="2509.2" r="56" fill="url(#gBaeR)" stroke="#3a0c0c" stroke-width="3"/>
<circle cx="2374" cy="2486" r="9" fill="#c96a6a" opacity="0.7"/>
<text x="2389" y="2511" font-family="Liberation Sans" font-size="36" fill="#fff" text-anchor="middle" textLength="88" lengthAdjust="spacingAndGlyphs">BaeR</text>
<path d="M2437,2563 C2500,2563 2570,2552 2640,2508" fill="none" stroke="url(#gDash1)" stroke-width="6.5" stroke-dasharray="14,15"/>
<polygon points="2658,2493 2626,2505 2644,2527" fill="#222"/>
<path d="M2473,2594 C2650,2596 2800,2572 2950,2535" fill="none" stroke="url(#gDash2)" stroke-width="6.5" stroke-dasharray="14,15"/>
<polygon points="2975,2526 2942,2520 2950,2549" fill="#222"/>
<mask id="mNDM" maskUnits="userSpaceOnUse" x="400" y="1900" width="300" height="300"><rect x="400" y="1900" width="300" height="300" fill="#fff"/><circle cx="606.3" cy="2107" r="36.5" fill="#000"/></mask>
<path d="M581.3,2018.6 L601.7,2040.4 Q618.0,2058.0 603.7,2077.3 L570.3,2122.7 Q556.0,2142.0 534.9,2130.5 L507.1,2115.5 Q486.0,2104.0 500.6,2085.0 L550.4,2020.0 Q565.0,2001.0 581.3,2018.6Z" fill="#2b6a55" mask="url(#mNDM)"/>
<text x="0" y="0" font-family="Liberation Serif" font-size="24" fill="#fff" transform="translate(510,2103) rotate(-57)" textLength="78" lengthAdjust="spacingAndGlyphs">NDM-</text>
<text x="0" y="0" font-family="Liberation Serif" font-size="24" fill="#fff" transform="translate(540,2120) rotate(-62)" textLength="54" lengthAdjust="spacingAndGlyphs">1,5,9</text>
<mask id="mADC" maskUnits="userSpaceOnUse" x="850" y="1850" width="220" height="220"><rect x="850" y="1850" width="220" height="220" fill="#fff"/><circle cx="994.3" cy="2006" r="37" fill="#000"/></mask>
<path d="M978.9,1920.1 L998.1,1935.9 Q1015.0,1950.0 1001.0,1966.9 L957.0,2020.1 Q943.0,2037.0 926.7,2022.3 L908.3,2005.7 Q892.0,1991.0 906.0,1974.0 L948.0,1923.0 Q962.0,1906.0 978.9,1920.1Z" fill="#a3569f" mask="url(#mADC)"/>
<text x="0" y="0" font-family="Liberation Serif" font-size="24" fill="#fff" transform="translate(909,2006) rotate(-50)" textLength="106" lengthAdjust="spacingAndGlyphs">ADC-25</text>
<mask id="mPER" maskUnits="userSpaceOnUse" x="1900" y="1900" width="200" height="200"><rect x="1900" y="1900" width="200" height="200" fill="#fff"/><circle cx="2027.1" cy="2018" r="33.5" fill="#000"/></mask>
<ellipse cx="1987.5" cy="1999.7" rx="35" ry="57" transform="rotate(22 1987.5 1999.7)" fill="#4b2a89" mask="url(#mPER)"/>
<text x="0" y="0" font-family="Liberation Sans" font-size="22" fill="#fff" transform="translate(1971,2027) rotate(-66)" textLength="74" lengthAdjust="spacingAndGlyphs">PER-1</text>
<circle cx="605.4" cy="2108.6" r="29.8" fill="url(#gC)" stroke="#8a4c08" stroke-width="2.2"/>
<circle cx="594.1" cy="2096.1" r="3.9" fill="#f7c46a" opacity="0.7"/>
<text x="606.0" y="2119.9" font-family="Liberation Sans" font-size="32.8" fill="#2a2a2a" text-anchor="middle" textLength="19.7" lengthAdjust="spacingAndGlyphs">C</text>
<circle cx="994.3" cy="2006.0" r="30.0" fill="url(#gC)" stroke="#8a4c08" stroke-width="2.2"/>
<circle cx="982.9" cy="1993.4" r="3.9" fill="#f7c46a" opacity="0.7"/>
<text x="994.9" y="2017.4" font-family="Liberation Sans" font-size="33.0" fill="#2a2a2a" text-anchor="middle" textLength="19.8" lengthAdjust="spacingAndGlyphs">C</text>
<circle cx="2027.1" cy="2018.0" r="30.0" fill="url(#gC)" stroke="#8a4c08" stroke-width="2.2"/>
<circle cx="2015.7" cy="2005.4" r="3.9" fill="#f7c46a" opacity="0.7"/>
<text x="2027.7" y="2029.4" font-family="Liberation Sans" font-size="33.0" fill="#2a2a2a" text-anchor="middle" textLength="19.8" lengthAdjust="spacingAndGlyphs">C</text>
<line x1="635.0" y1="2111.0" x2="664.0" y2="2111.5" stroke="#f21212" stroke-width="7" stroke-linecap="butt"/>
<polygon points="697.0,2112.0 661.7,2128.4 662.3,2094.4" fill="#f21212"/>
<line x1="1023.0" y1="2026.0" x2="1050.3" y2="2052.2" stroke="#f21212" stroke-width="7" stroke-linecap="butt"/>
<polygon points="1072.0,2073.0 1037.8,2062.4 1060.0,2039.3" fill="#f21212"/>
<line x1="2090.0" y1="2020.0" x2="2152.0" y2="2020.0" stroke="#f21212" stroke-width="7" stroke-linecap="butt"/>
<polygon points="2185.0,2020.0 2150.0,2037.0 2150.0,2003.0" fill="#f21212"/>
<polygon points="726.8,2069.6 731.1,2086.5 715.2,2083.3" fill="#e8902c" stroke="#4d5266" stroke-width="1.1" stroke-linejoin="round" opacity="1"/><ellipse cx="756.9" cy="2077.0" rx="4" ry="9" transform="rotate(8 756.9 2077.0)" fill="#e8902c" stroke="#4d5266" stroke-width="1.1" opacity="1"/><polygon points="788.8,2088.7 786.8,2076.9 797.4,2080.1" fill="#e8902c" stroke="#4d5266" stroke-width="1.1" stroke-linejoin="round" opacity="1"/><ellipse cx="743.7" cy="2097.4" rx="8.5" ry="4" transform="rotate(35 743.7 2097.4)" fill="#e8902c" stroke="#4d5266" stroke-width="1.1" opacity="1"/><polygon points="761.0,2110.1 755.6,2094.5 770.8,2096.2" fill="#e8902c" stroke="#4d5266" stroke-width="1.1" stroke-linejoin="round" opacity="1"/><path d="M745.7,2107.6 A8.5,8.5 0 1 0 745.7,2122.0" fill="none" stroke="#4d5266" stroke-width="10.1"/><path d="M745.7,2107.6 A8.5,8.5 0 1 0 745.7,2122.0" fill="none" stroke="#e8902c" stroke-width="8.1"/><path d="M769.6,2109.9 A8,8 0 1 1 769.6,2123.5" fill="none" stroke="#4d5266" stroke-width="9.6"/><path d="M769.6,2109.9 A8,8 0 1 1 769.6,2123.5" fill="none" stroke="#e8902c" stroke-width="7.6"/><ellipse cx="755.0" cy="2128.0" rx="7" ry="3.5" transform="rotate(-15 755.0 2128.0)" fill="#e8902c" stroke="#4d5266" stroke-width="1.1" opacity="1"/><polygon points="709.2,2135.7 709.1,2147.6 699.2,2142.6" fill="#e8902c" stroke="#4d5266" stroke-width="1.1" stroke-linejoin="round" opacity="1"/><ellipse cx="736.1" cy="2141.3" rx="4" ry="9" transform="rotate(15 736.1 2141.3)" fill="#e8902c" stroke="#4d5266" stroke-width="1.1" opacity="1"/><polygon points="758.8,2144.7 764.2,2154.3 754.0,2154.9" fill="#e8902c" stroke="#4d5266" stroke-width="1.1" stroke-linejoin="round" opacity="1"/><polygon points="712.2,2105.1 714.6,2112.0 707.9,2111.2" fill="#e8902c" stroke="#4d5266" stroke-width="1.1" stroke-linejoin="round" opacity="0.35"/><polygon points="798.5,2112.7 802.1,2119.1 795.3,2119.5" fill="#e8902c" stroke="#4d5266" stroke-width="1.1" stroke-linejoin="round" opacity="0.35"/><polygon points="790.4,2148.0 791.6,2155.3 785.0,2153.3" fill="#e8902c" stroke="#4d5266" stroke-width="1.1" stroke-linejoin="round" opacity="0.35"/><polygon points="736.1,2169.9 739.2,2175.5 733.3,2175.8" fill="#e8902c" stroke="#4d5266" stroke-width="1.1" stroke-linejoin="round" opacity="0.3"/>
<polygon points="1061.8,2079.6 1066.1,2096.5 1050.2,2093.3" fill="#e8902c" stroke="#4d5266" stroke-width="1.1" stroke-linejoin="round" opacity="1"/><ellipse cx="1091.9" cy="2087.0" rx="4" ry="9" transform="rotate(8 1091.9 2087.0)" fill="#e8902c" stroke="#4d5266" stroke-width="1.1" opacity="1"/><polygon points="1123.8,2098.7 1121.8,2086.9 1132.4,2090.1" fill="#e8902c" stroke="#4d5266" stroke-width="1.1" stroke-linejoin="round" opacity="1"/><ellipse cx="1078.7" cy="2107.4" rx="8.5" ry="4" transform="rotate(35 1078.7 2107.4)" fill="#e8902c" stroke="#4d5266" stroke-width="1.1" opacity="1"/><polygon points="1096.0,2120.1 1090.6,2104.5 1105.8,2106.2" fill="#e8902c" stroke="#4d5266" stroke-width="1.1" stroke-linejoin="round" opacity="1"/><path d="M1080.7,2117.6 A8.5,8.5 0 1 0 1080.7,2132.0" fill="none" stroke="#4d5266" stroke-width="10.1"/><path d="M1080.7,2117.6 A8.5,8.5 0 1 0 1080.7,2132.0" fill="none" stroke="#e8902c" stroke-width="8.1"/><path d="M1104.6,2119.9 A8,8 0 1 1 1104.6,2133.5" fill="none" stroke="#4d5266" stroke-width="9.6"/><path d="M1104.6,2119.9 A8,8 0 1 1 1104.6,2133.5" fill="none" stroke="#e8902c" stroke-width="7.6"/><ellipse cx="1090.0" cy="2138.0" rx="7" ry="3.5" transform="rotate(-15 1090.0 2138.0)" fill="#e8902c" stroke="#4d5266" stroke-width="1.1" opacity="1"/><polygon points="1044.2,2145.7 1044.1,2157.6 1034.2,2152.6" fill="#e8902c" stroke="#4d5266" stroke-width="1.1" stroke-linejoin="round" opacity="1"/><ellipse cx="1071.1" cy="2151.3" rx="4" ry="9" transform="rotate(15 1071.1 2151.3)" fill="#e8902c" stroke="#4d5266" stroke-width="1.1" opacity="1"/><polygon points="1093.8,2154.7 1099.2,2164.3 1089.0,2164.9" fill="#e8902c" stroke="#4d5266" stroke-width="1.1" stroke-linejoin="round" opacity="1"/><polygon points="1047.2,2115.1 1049.6,2122.0 1042.9,2121.2" fill="#e8902c" stroke="#4d5266" stroke-width="1.1" stroke-linejoin="round" opacity="0.35"/><polygon points="1133.5,2122.7 1137.1,2129.1 1130.3,2129.5" fill="#e8902c" stroke="#4d5266" stroke-width="1.1" stroke-linejoin="round" opacity="0.35"/><polygon points="1125.4,2158.0 1126.6,2165.3 1120.0,2163.3" fill="#e8902c" stroke="#4d5266" stroke-width="1.1" stroke-linejoin="round" opacity="0.35"/><polygon points="1071.1,2179.9 1074.2,2185.5 1068.3,2185.8" fill="#e8902c" stroke="#4d5266" stroke-width="1.1" stroke-linejoin="round" opacity="0.3"/>
<polygon points="2225.8,1972.6 2230.1,1989.5 2214.2,1986.3" fill="#e8902c" stroke="#4d5266" stroke-width="1.1" stroke-linejoin="round" opacity="1"/><ellipse cx="2255.9" cy="1980.0" rx="4" ry="9" transform="rotate(8 2255.9 1980.0)" fill="#e8902c" stroke="#4d5266" stroke-width="1.1" opacity="1"/><polygon points="2287.8,1991.7 2285.8,1979.9 2296.4,1983.1" fill="#e8902c" stroke="#4d5266" stroke-width="1.1" stroke-linejoin="round" opacity="1"/><ellipse cx="2242.7" cy="2000.4" rx="8.5" ry="4" transform="rotate(35 2242.7 2000.4)" fill="#e8902c" stroke="#4d5266" stroke-width="1.1" opacity="1"/><polygon points="2260.0,2013.1 2254.6,1997.5 2269.8,1999.2" fill="#e8902c" stroke="#4d5266" stroke-width="1.1" stroke-linejoin="round" opacity="1"/><path d="M2244.7,2010.6 A8.5,8.5 0 1 0 2244.7,2025.0" fill="none" stroke="#4d5266" stroke-width="10.1"/><path d="M2244.7,2010.6 A8.5,8.5 0 1 0 2244.7,2025.0" fill="none" stroke="#e8902c" stroke-width="8.1"/><path d="M2268.6,2012.9 A8,8 0 1 1 2268.6,2026.5" fill="none" stroke="#4d5266" stroke-width="9.6"/><path d="M2268.6,2012.9 A8,8 0 1 1 2268.6,2026.5" fill="none" stroke="#e8902c" stroke-width="7.6"/><ellipse cx="2254.0" cy="2031.0" rx="7" ry="3.5" transform="rotate(-15 2254.0 2031.0)" fill="#e8902c" stroke="#4d5266" stroke-width="1.1" opacity="1"/><polygon points="2208.2,2038.7 2208.1,2050.6 2198.2,2045.6" fill="#e8902c" stroke="#4d5266" stroke-width="1.1" stroke-linejoin="round" opacity="1"/><ellipse cx="2235.1" cy="2044.3" rx="4" ry="9" transform="rotate(15 2235.1 2044.3)" fill="#e8902c" stroke="#4d5266" stroke-width="1.1" opacity="1"/><polygon points="2257.8,2047.7 2263.2,2057.3 2253.0,2057.9" fill="#e8902c" stroke="#4d5266" stroke-width="1.1" stroke-linejoin="round" opacity="1"/><polygon points="2211.2,2008.1 2213.6,2015.0 2206.9,2014.2" fill="#e8902c" stroke="#4d5266" stroke-width="1.1" stroke-linejoin="round" opacity="0.35"/><polygon points="2297.5,2015.7 2301.1,2022.1 2294.3,2022.5" fill="#e8902c" stroke="#4d5266" stroke-width="1.1" stroke-linejoin="round" opacity="0.35"/><polygon points="2289.4,2051.0 2290.6,2058.3 2284.0,2056.3" fill="#e8902c" stroke="#4d5266" stroke-width="1.1" stroke-linejoin="round" opacity="0.35"/><polygon points="2235.1,2072.9 2238.2,2078.5 2232.3,2078.8" fill="#e8902c" stroke="#4d5266" stroke-width="1.1" stroke-linejoin="round" opacity="0.3"/>
<circle cx="1835.0" cy="1939.6" r="30.0" fill="url(#gC)" stroke="#8a4c08" stroke-width="2.2"/>
<circle cx="1823.6" cy="1927.0" r="3.9" fill="#f7c46a" opacity="0.7"/>
<text x="1835.6" y="1951.0" font-family="Liberation Sans" font-size="33.0" fill="#2a2a2a" text-anchor="middle" textLength="19.8" lengthAdjust="spacingAndGlyphs">C</text>
<circle cx="1356.2" cy="2075.9" r="30.0" fill="url(#gC)" stroke="#8a4c08" stroke-width="2.2"/>
<circle cx="1344.8" cy="2063.3" r="3.9" fill="#f7c46a" opacity="0.7"/>
<text x="1356.8" y="2087.3" font-family="Liberation Sans" font-size="33.0" fill="#2a2a2a" text-anchor="middle" textLength="19.8" lengthAdjust="spacingAndGlyphs">C</text>
<circle cx="1677.0" cy="2066.0" r="30.0" fill="url(#gC)" stroke="#8a4c08" stroke-width="2.2"/>
<circle cx="1665.6" cy="2053.4" r="3.9" fill="#f7c46a" opacity="0.7"/>
<text x="1677.6" y="2077.4" font-family="Liberation Sans" font-size="33.0" fill="#2a2a2a" text-anchor="middle" textLength="19.8" lengthAdjust="spacingAndGlyphs">C</text>
<circle cx="1415.0" cy="1987.3" r="17.0" fill="#e2f5f8" stroke="#6fb3c2" stroke-width="2"/>
<text x="1415.0" y="1992.4" font-family="Liberation Sans" font-size="14.4" fill="#444" text-anchor="middle" textLength="16.1" lengthAdjust="spacingAndGlyphs">Fe</text>
<circle cx="1487.3" cy="2051.7" r="17.0" fill="#e2f5f8" stroke="#6fb3c2" stroke-width="2"/>
<text x="1487.3" y="2056.8" font-family="Liberation Sans" font-size="14.4" fill="#444" text-anchor="middle" textLength="16.1" lengthAdjust="spacingAndGlyphs">Fe</text>
<circle cx="1657.0" cy="1999.2" r="17.0" fill="#e2f5f8" stroke="#6fb3c2" stroke-width="2"/>
<text x="1657.0" y="2004.3" font-family="Liberation Sans" font-size="14.4" fill="#444" text-anchor="middle" textLength="16.1" lengthAdjust="spacingAndGlyphs">Fe</text>
<line x1="1629.0" y1="2075.5" x2="1648.0" y2="2075.5" stroke="#777" stroke-width="1.5" stroke-linecap="butt"/>
<circle cx="1070.8" cy="1534.4" r="29.7" fill="url(#gC)" stroke="#8a4c08" stroke-width="2.2"/>
<circle cx="1059.5" cy="1521.9" r="3.9" fill="#f7c46a" opacity="0.7"/>
<text x="1071.4" y="1545.7" font-family="Liberation Sans" font-size="32.7" fill="#2a2a2a" text-anchor="middle" textLength="19.6" lengthAdjust="spacingAndGlyphs">C</text>
<circle cx="1138.4" cy="1527.0" r="17.3" fill="#e2f5f8" stroke="#6fb3c2" stroke-width="2"/>
<text x="1138.4" y="1532.2" font-family="Liberation Sans" font-size="14.7" fill="#444" text-anchor="middle" textLength="16.4" lengthAdjust="spacingAndGlyphs">Fe</text>
<circle cx="1449.0" cy="1466.0" r="29.5" fill="url(#gC)" stroke="#8a4c08" stroke-width="2.2"/>
<circle cx="1437.8" cy="1453.6" r="3.8" fill="#f7c46a" opacity="0.7"/>
<text x="1449.6" y="1477.2" font-family="Liberation Sans" font-size="32.5" fill="#2a2a2a" text-anchor="middle" textLength="19.5" lengthAdjust="spacingAndGlyphs">C</text>
<circle cx="1534.0" cy="1452.7" r="17.0" fill="#e2f5f8" stroke="#6fb3c2" stroke-width="2"/>
<text x="1534.0" y="1457.8" font-family="Liberation Sans" font-size="14.4" fill="#444" text-anchor="middle" textLength="16.1" lengthAdjust="spacingAndGlyphs">Fe</text>
<circle cx="1942.4" cy="1452.7" r="31.0" fill="url(#gC)" stroke="#8a4c08" stroke-width="2.2"/>
<circle cx="1930.6" cy="1439.7" r="4.0" fill="#f7c46a" opacity="0.7"/>
<text x="1943.0" y="1464.5" font-family="Liberation Sans" font-size="34.1" fill="#2a2a2a" text-anchor="middle" textLength="20.5" lengthAdjust="spacingAndGlyphs">C</text>
<circle cx="2649.3" cy="1519.0" r="31.0" fill="url(#gC)" stroke="#8a4c08" stroke-width="2.2"/>
<circle cx="2637.5" cy="1506.0" r="4.0" fill="#f7c46a" opacity="0.7"/>
<text x="2649.9" y="1530.8" font-family="Liberation Sans" font-size="34.1" fill="#2a2a2a" text-anchor="middle" textLength="20.5" lengthAdjust="spacingAndGlyphs">C</text>
<path d="M1047,1506 C1100,1474 1200,1462 1226,1540" fill="none" stroke="url(#gArc)" stroke-width="2.8"/>
<polygon points="1231.8,1556 1216,1541 1237,1534" fill="#222"/>
<path d="M1495,1497 C1560,1466 1650,1468 1670,1532" fill="none" stroke="url(#gArc)" stroke-width="2.8"/>
<polygon points="1675.7,1548 1659,1535 1680,1528" fill="#222"/>
<path d="M1945,1515 C2010,1480 2100,1480 2126,1546" fill="none" stroke="url(#gArc)" stroke-width="2.8"/>
<polygon points="2130.8,1561 2115,1545 2136,1542" fill="#222"/>
<path d="M1701,2087 C1730,2100 1740,2125 1739.4,2150" fill="none" stroke="#2a2a2a" stroke-width="2.8"/>
<polygon points="1739.4,2162 1731,2148 1748,2148" fill="#222"/></svg>
</body></html>
